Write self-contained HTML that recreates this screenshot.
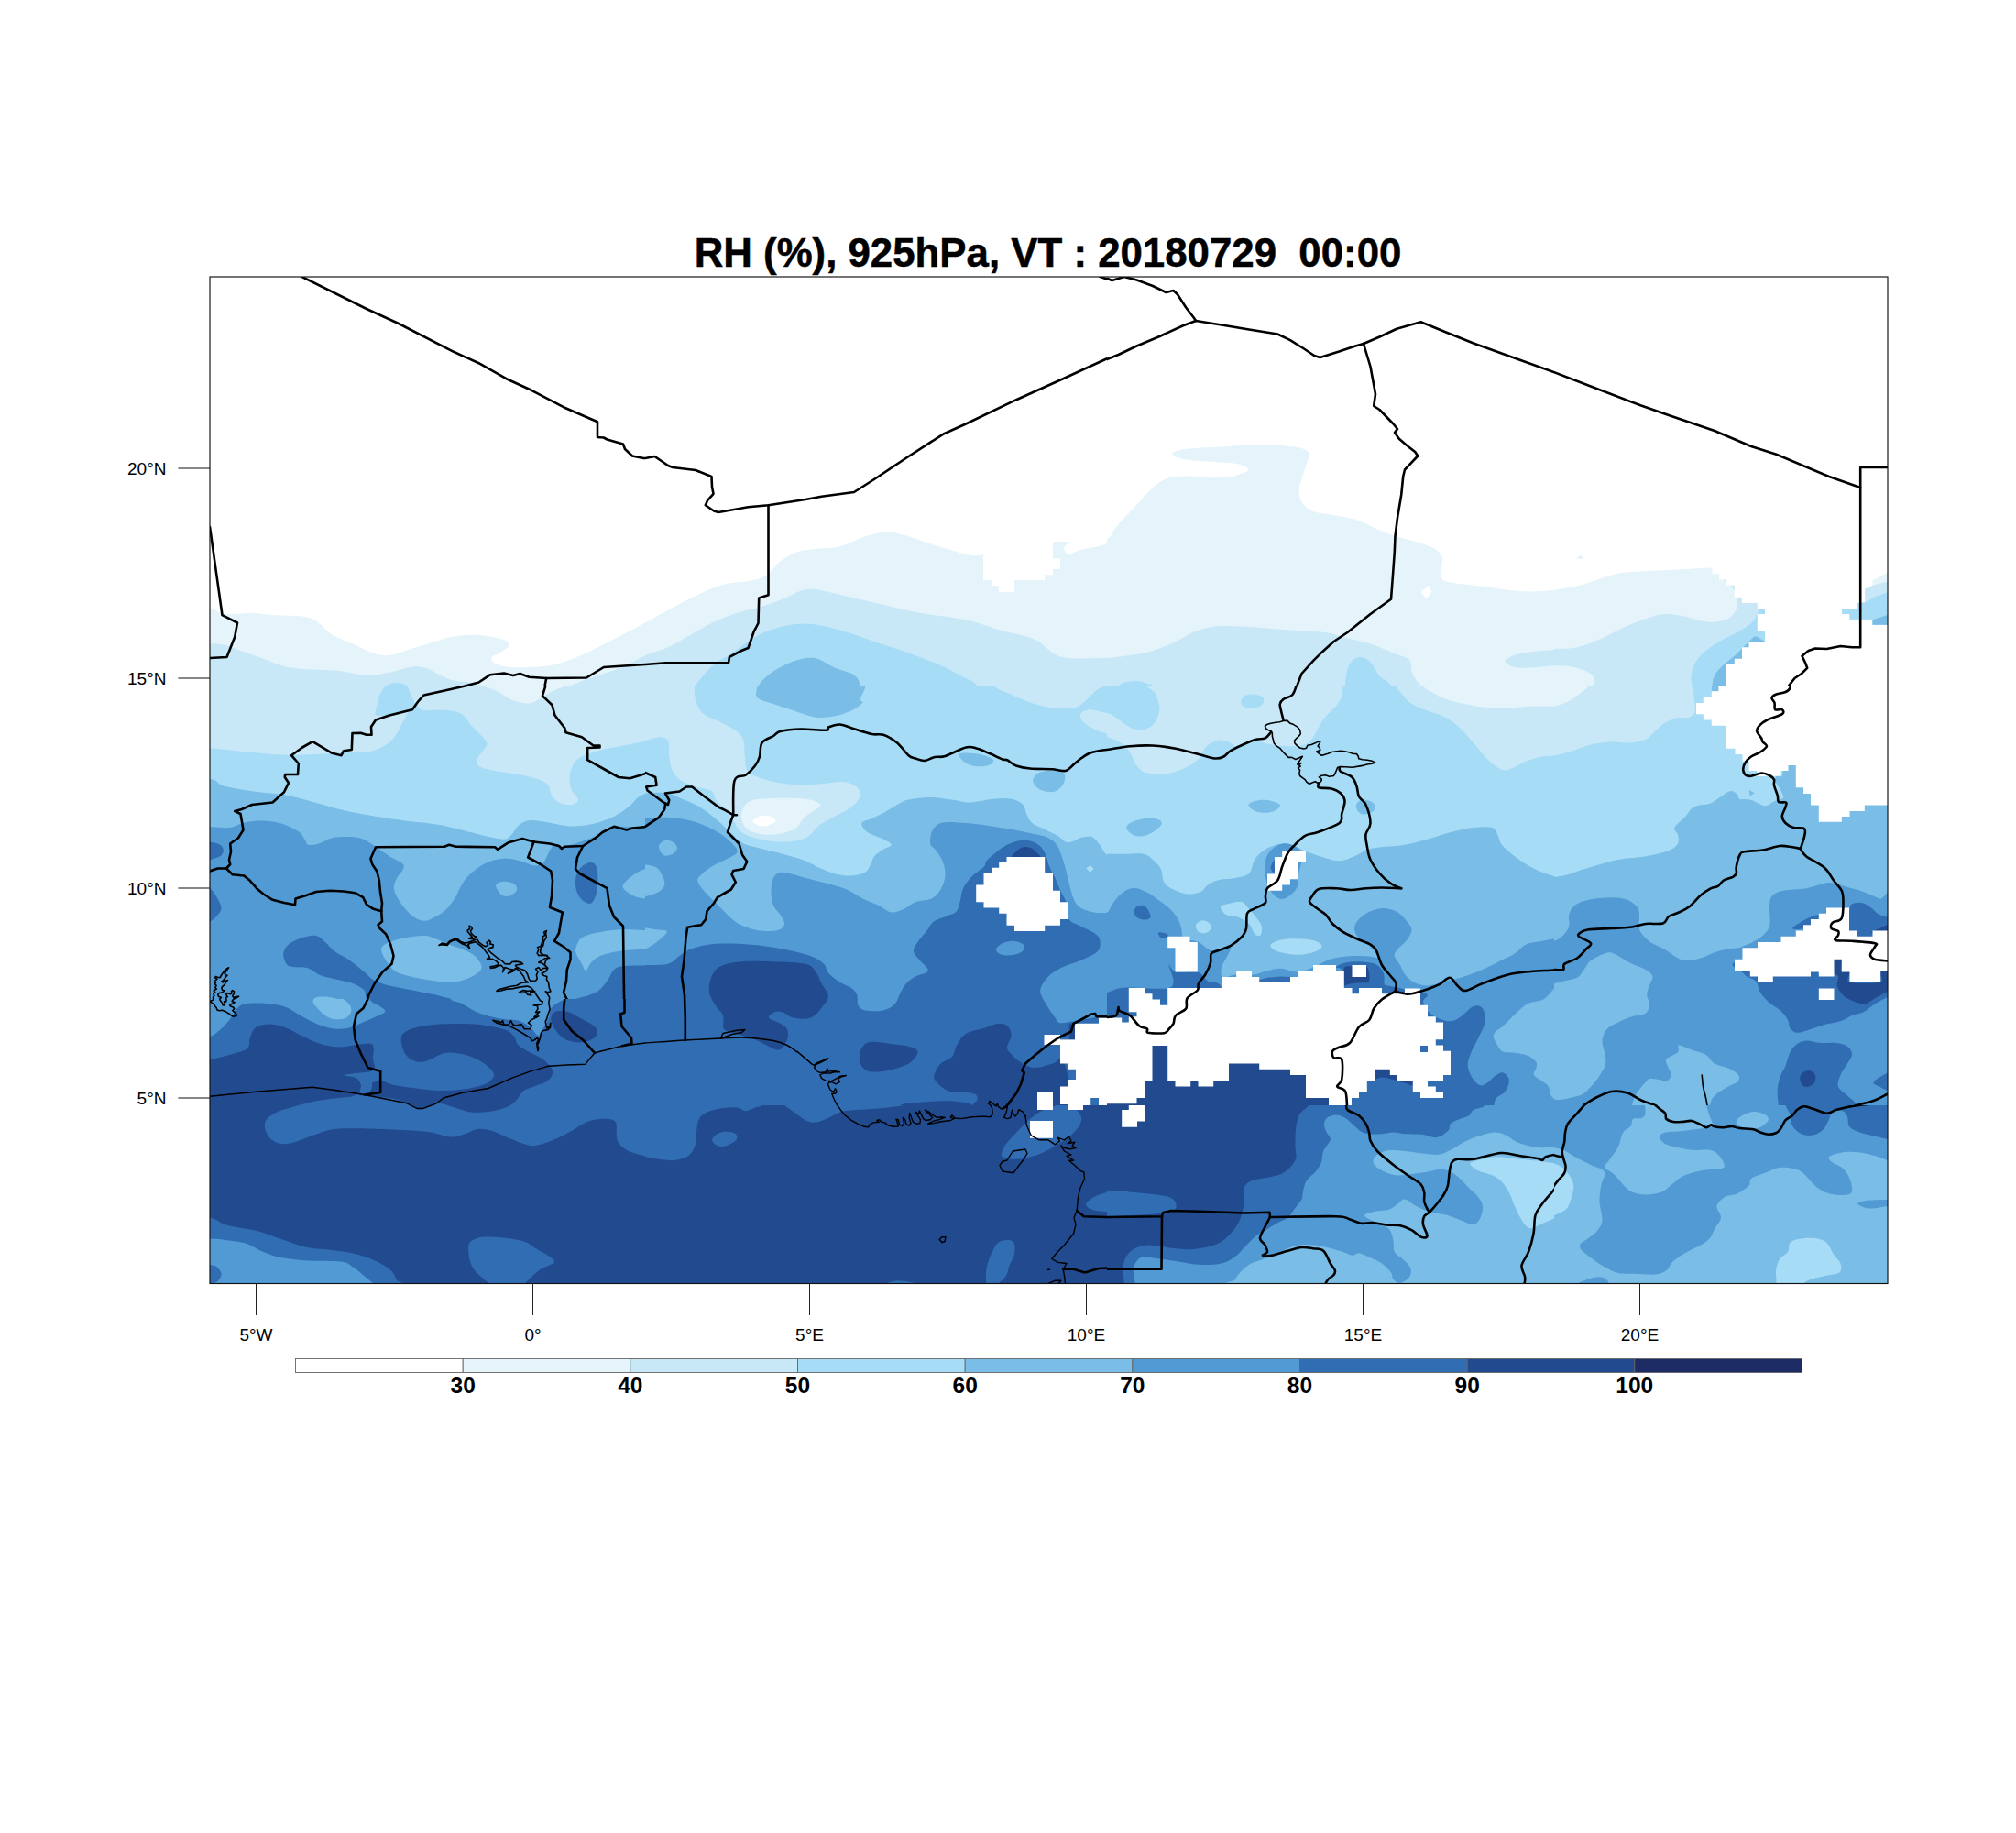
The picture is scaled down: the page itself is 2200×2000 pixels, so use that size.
<!DOCTYPE html>
<html><head><meta charset="utf-8"><title>RH 925hPa</title>
<style>html,body{margin:0;padding:0;background:#fff}svg{display:block}text{font-family:"Liberation Sans",sans-serif;fill:#000}</style>
</head><body>
<svg width="2200" height="2000" viewBox="0 0 2200 2000">
<rect width="2200" height="2000" fill="#fff"/>
<defs>
<clipPath id="k0"><rect x="229" y="302" width="475" height="446"/></clipPath>
<clipPath id="k1"><rect x="704" y="302" width="504" height="446"/></clipPath>
<clipPath id="k2"><rect x="1208" y="302" width="488" height="446"/></clipPath>
<clipPath id="k3"><rect x="1696" y="302" width="364" height="446"/></clipPath>
<clipPath id="k4"><rect x="229" y="748" width="475" height="342"/></clipPath>
<clipPath id="k5"><rect x="704" y="748" width="504" height="458"/></clipPath>
<clipPath id="k6"><rect x="1208" y="748" width="488" height="458"/></clipPath>
<clipPath id="k7"><rect x="229" y="1320" width="475" height="80.5"/></clipPath>
<clipPath id="k8"><rect x="704" y="1206" width="504" height="194.5"/></clipPath>
<clipPath id="k9"><rect x="1208" y="1206" width="488" height="194.5"/></clipPath>
<clipPath id="k10"><rect x="229" y="1090" width="475" height="230"/></clipPath>
<clipPath id="k11"><rect x="1696" y="748" width="364" height="458"/></clipPath>
<clipPath id="k12"><rect x="1696" y="1206" width="364" height="194.5"/></clipPath>
<clipPath id="k13"><rect x="470" y="1000" width="150" height="150"/></clipPath>
<clipPath id="k14"><rect x="229" y="1045" width="56" height="75"/></clipPath>
<clipPath id="k15"><rect x="870" y="1140" width="250" height="120"/></clipPath>
<clipPath id="k16"><rect x="1370" y="775" width="140" height="90"/></clipPath>
</defs>
<g clip-path="url(#k0)">
<rect x="228" y="301" width="477" height="448" fill="#FFFFFF"/>
<path d="M185 660 C192.3 641 220.2 662.5 229 663.8 C237.8 665 234 666.5 237.5 667.5 C241 668.5 243.8 669.8 250 670 C256.2 670.2 266.7 668.8 275 669 C283.3 669.2 290.8 670.7 300 671.2 C309.2 671.8 322.5 671.5 330 672.5 C337.5 673.5 339.6 674.2 345 677.5 C350.4 680.8 355.8 688.3 362.5 692.5 C369.2 696.7 377.5 699.2 385 702.5 C392.5 705.8 400.8 710.4 407.5 712.5 C414.2 714.6 417.9 715.8 425 715 C432.1 714.2 441.7 710 450 707.5 C458.3 705 467.5 702.2 475 700 C482.5 697.8 487.1 695.7 495 694.5 C502.9 693.3 513.3 692.4 522.5 693 C531.7 693.6 544.6 696 550 698 C555.4 700 555.8 702.6 555 705 C554.2 707.4 548.1 710.3 545 712.5 C541.9 714.7 536.7 715.9 536.2 718 C535.8 720.1 538.1 723.3 542.5 725 C546.9 726.7 552.9 727.8 562.5 728 C572.1 728.2 589.6 727.8 600 726.2 C610.4 724.7 616.7 721.9 625 718.8 C633.3 715.6 641.7 711.5 650 707.5 C658.3 703.5 666 699.7 675 695 C684 690.3 694.8 684.3 704 679.5 C713.2 674.7 725.7 649.9 730 666.2 C734.3 682.6 820.8 759 730 777.5 C639.2 796 275.8 797.1 185 777.5 C94.2 757.9 177.7 679 185 660Z" fill="#E5F4FB"/>
<path d="M185 700 C192.3 687.4 219 701.4 229 702 C239 702.6 239.4 702.4 245 703.8 C250.6 705.1 255.4 707.5 262.5 710 C269.6 712.5 279.2 715.8 287.5 718.8 C295.8 721.7 303.8 725.5 312.5 727.5 C321.2 729.5 330.4 729.8 340 730.5 C349.6 731.2 360 730.9 370 732 C380 733.1 390.8 736.7 400 737 C409.2 737.3 416.7 735.3 425 733.8 C433.3 732.2 443.3 728.3 450 727.5 C456.7 726.7 460.4 727.5 465 728.8 C469.6 730 472.9 732.8 477.5 735 C482.1 737.2 486.8 740.4 492.5 742 C498.2 743.6 506.5 743.6 511.5 744.5 C516.5 745.4 517.8 745.8 522.8 747.5 C527.8 749.2 532.8 752.8 541.5 754.5 C550.2 756.2 562.5 758.3 575 757.5 C587.5 756.7 607.5 751.5 616.5 749.5 C625.5 747.5 624.8 747 629 745.5 C633.2 744 633 743.5 641.5 740.5 C650 737.5 669.6 731.7 680 727.5 C690.4 723.3 695.7 719.2 704 715.5 C712.3 711.8 725.7 694.7 730 705 C734.3 715.3 820.8 765.4 730 777.5 C639.2 789.6 275.8 790.4 185 777.5 C94.2 764.6 177.7 712.6 185 700Z" fill="#C8E8F8"/>
<path d="M412 781 C406.4 780.2 411 774.1 411.5 770 C412 765.9 413.4 760 415.2 756.2 C417.1 752.5 419.6 749.4 422.8 747.5 C425.9 745.6 430.5 744.8 434 745 C437.5 745.2 441.5 746.2 444 748.8 C446.5 751.2 447.5 756.7 449 760 C450.5 763.3 453.4 766.2 452.8 768.8 C452.1 771.2 451.8 773 445 775 C438.2 777 417.6 781.8 412 781Z" fill="#A6DCF6"/>
</g>
<g clip-path="url(#k1)">
<rect x="703" y="301" width="506" height="448" fill="#FFFFFF"/>
<path d="M679 692 C683.2 675.7 695.7 683.9 704 679.5 C712.3 675.1 720.7 670.2 729 665.8 C737.3 661.2 745.7 656.6 754 652.5 C762.3 648.4 771.9 644 779 641.2 C786.1 638.5 789.8 637.5 796.5 636.2 C803.2 635 812.3 635.2 819 633.8 C825.7 632.3 831.1 631 836.5 627.5 C841.9 624 846.1 616.7 851.5 612.5 C856.9 608.3 862.3 604.8 869 602.5 C875.7 600.2 883.6 599.8 891.5 598.8 C899.4 597.7 908.2 598.3 916.5 596.2 C924.8 594.2 933.2 588.9 941.5 586.2 C949.8 583.6 959 580.9 966.5 580.5 C974 580.1 978.2 581.5 986.5 583.8 C994.8 586 1007.3 590.8 1016.5 593.8 C1025.7 596.7 1033.6 599.2 1041.5 601.2 C1049.4 603.3 1056.9 606 1064 606.2 C1071.1 606.5 1075.2 603.3 1084 602.5 C1092.8 601.7 1105.7 601.2 1116.5 601.2 C1127.3 601.2 1140.7 602 1149 602.5 C1157.3 603 1161.5 604.9 1166.5 604.5 C1171.5 604.1 1172.1 601.9 1179 600 C1185.9 598.1 1199.7 596.8 1208 593 C1216.3 589.2 1225.5 546.8 1229 577.5 C1232.5 608.2 1320.7 744.2 1229 777.5 C1137.3 810.8 770.7 791.8 679 777.5 C587.3 763.2 674.8 708.3 679 692Z" fill="#E5F4FB"/>
<path d="M679 726.2 C683.2 715.8 695.7 718.3 704 715 C712.3 711.7 720.7 710 729 706.2 C737.3 702.5 745.7 697.1 754 692.5 C762.3 687.9 770.7 682.7 779 678.8 C787.3 674.8 795.7 671.5 804 668.8 C812.3 666 820.7 665 829 662.5 C837.3 660 846.5 656.8 854 653.8 C861.5 650.8 868.2 646.3 874 644.5 C879.8 642.7 881.9 642.3 889 643 C896.1 643.7 905.7 646.3 916.5 648.8 C927.3 651.2 939.4 654.2 954 657.5 C968.6 660.8 987.3 665.6 1004 668.8 C1020.7 671.9 1039.4 673.1 1054 676.2 C1068.6 679.4 1079 684 1091.5 687.5 C1104 691 1119.4 693.3 1129 697.5 C1138.6 701.7 1142.8 709.1 1149 712.5 C1155.2 715.9 1156.7 717.1 1166.5 718 C1176.3 718.9 1197.6 718.1 1208 718 C1218.4 717.9 1225.5 707.6 1229 717.5 C1232.5 727.4 1320.7 767.5 1229 777.5 C1137.3 787.5 770.7 786 679 777.5 C587.3 769 674.8 736.7 679 726.2Z" fill="#C8E8F8"/>
<path d="M744 777.5 C688.6 772.6 753.2 756.8 759 748 C764.8 739.2 773 730.5 779 725 C785 719.5 789 719.2 795.2 715 C801.5 710.8 810 704.2 816.5 700 C823 695.8 826.9 692.9 834 690 C841.1 687.1 850.7 684 859 682.5 C867.3 681 874.4 679.9 884 680.8 C893.6 681.6 904.8 684.3 916.5 687.5 C928.2 690.7 941.5 695.8 954 700 C966.5 704.2 979.8 708.3 991.5 712.5 C1003.2 716.7 1013.6 720.4 1024 725 C1034.4 729.6 1046.9 736.2 1054 740 C1061.1 743.8 1060.2 741.8 1066.5 748 C1072.8 754.2 1145.2 772.6 1091.5 777.5 C1037.8 782.4 799.4 782.4 744 777.5Z" fill="#A6DCF6"/>
<path d="M814 777.5 C794.6 772.6 822.8 755.5 827.8 748 C832.8 740.5 837.5 737 844 732.5 C850.5 728 859 723.7 866.5 721.2 C874 718.8 881.5 716.8 889 718 C896.5 719.2 904.4 725.7 911.5 728.8 C918.6 731.8 926.9 733 931.5 736.2 C936.1 739.5 936.9 741.1 939 748 C941.1 754.9 964.8 772.6 944 777.5 C923.2 782.4 833.4 782.4 814 777.5Z" fill="#7ABDE6"/>
<path d="M1073 590 L1073 633 L1082 633 L1082 639 L1090 639 L1090 646 L1107 646 L1107 633 L1140 633 L1140 627.2 L1149 627.2 L1149 621 L1157 621 L1157 608.8 L1149 608.8 L1149 585Z" fill="#FFFFFF"/>
<path d="M1149 591 L1168 591 L1161 597.2 L1162 601.8 L1165.5 605.5 L1157 609.2 L1149 609.2Z" fill="#E5F4FB"/>
</g>
<g clip-path="url(#k2)">
<rect x="1207" y="301" width="490" height="448" fill="#FFFFFF"/>
<path d="M1183 602.5 C1187.2 571 1202.2 593.3 1208 588.8 C1213.8 584.2 1213.8 580 1218 575 C1222.2 570 1228 564.2 1233 558.8 C1238 553.3 1243.2 547.5 1248 542.5 C1252.8 537.5 1257.2 532.3 1261.8 528.8 C1266.3 525.2 1269.9 522.8 1275.5 521.2 C1281.1 519.7 1288 519.5 1295.5 519.5 C1303 519.5 1312.6 521.2 1320.5 521.2 C1328.4 521.3 1336 521.4 1343 520 C1350 518.6 1361.2 515.3 1362.5 513 C1363.8 510.7 1357.5 507.8 1350.5 506.2 C1343.5 504.7 1330.1 504.6 1320.5 503.8 C1310.9 502.9 1299.9 502.6 1293 501.2 C1286.1 499.9 1279.2 497.4 1279.2 495.5 C1279.2 493.6 1284 491.3 1293 490 C1302 488.7 1319.7 488.3 1333 487.5 C1346.3 486.7 1360.5 485.1 1373 485 C1385.5 484.9 1399.7 486.2 1408 487 C1416.3 487.8 1419.5 488.5 1423 490 C1426.5 491.5 1428.3 493.3 1428.8 496.2 C1429.2 499.2 1426.9 503.1 1425.5 507.5 C1424.1 511.9 1421.8 518.1 1420.5 522.5 C1419.2 526.9 1417.5 529.6 1417.5 533.8 C1417.5 537.9 1417.9 543.5 1420.5 547.5 C1423.1 551.5 1426.8 555.5 1433 558 C1439.2 560.5 1449.7 560.8 1458 562.5 C1466.3 564.2 1475.5 565.5 1483 568 C1490.5 570.5 1496.3 574.7 1503 577.5 C1509.7 580.3 1515.9 582.7 1523 585 C1530.1 587.3 1538.4 589 1545.5 591.2 C1552.6 593.5 1560.7 595.8 1565.5 598.8 C1570.3 601.7 1573.2 604.8 1574.2 608.8 C1575.3 612.7 1571.8 618.5 1571.8 622.5 C1571.8 626.5 1571.5 630.2 1574.2 632.5 C1577 634.8 1580.3 635 1588 636.2 C1595.7 637.5 1610.9 638.8 1620.5 640 C1630.1 641.2 1637.2 642.8 1645.5 643.8 C1653.8 644.7 1662.2 645.5 1670.5 645.5 C1678.8 645.5 1688.6 644.7 1695.5 643.8 C1702.4 642.8 1705.8 641.2 1712 640 C1718.2 638.8 1729.5 613.3 1733 636.2 C1736.5 659.2 1824.7 754 1733 777.5 C1641.3 801 1274.7 806.7 1183 777.5 C1091.3 748.3 1178.8 634 1183 602.5Z" fill="#E5F4FB"/>
<path d="M1550.5 646.2 L1558.8 638.8 L1562.5 645 L1556.8 653.8Z" fill="#FFFFFF"/>
<path d="M1183 718.8 C1187.2 708.8 1199.7 718.6 1208 718 C1216.3 717.4 1224.7 716.3 1233 715 C1241.3 713.7 1249.7 712.5 1258 710 C1266.3 707.5 1274.7 703.8 1283 700 C1291.3 696.2 1299.7 690.3 1308 687.5 C1316.3 684.7 1322.6 683.5 1333 683 C1343.4 682.5 1358 683.8 1370.5 684.5 C1383 685.2 1395.5 686.6 1408 687.5 C1420.5 688.4 1435.1 688.5 1445.5 690 C1455.9 691.5 1462.2 694.2 1470.5 696.2 C1478.8 698.3 1487.2 699.8 1495.5 702.5 C1503.8 705.2 1513.4 709.6 1520.5 712.5 C1527.6 715.4 1534.7 716.7 1538 720 C1541.3 723.3 1539.2 728.8 1540.5 732.5 C1541.8 736.2 1543.8 739.9 1545.5 742.5 C1547.2 745.1 1547.6 742.2 1550.5 748 C1553.4 753.8 1624.2 772.6 1563 777.5 C1501.8 782.4 1246.3 787.3 1183 777.5 C1119.7 767.7 1178.8 728.7 1183 718.8Z" fill="#C8E8F8"/>
<path d="M1643 720 C1644.7 717.8 1651.3 714.9 1658 713.2 C1664.7 711.6 1674 710.9 1683 710 C1692 709.1 1703.7 708.5 1712 708 C1720.3 707.5 1729.5 704.2 1733 707 C1736.5 709.8 1736.5 721.7 1733 724.5 C1729.5 727.3 1718.2 723.5 1712 723.8 C1705.8 724 1703.7 725.4 1695.5 726.2 C1687.3 727.1 1670.9 728.8 1663 728.8 C1655.1 728.8 1651.3 727.7 1648 726.2 C1644.7 724.8 1641.3 722.2 1643 720Z" fill="#C8E8F8"/>
<path d="M1466.8 777.5 C1455.9 772.6 1467.4 755.9 1468 748 C1468.6 740.1 1469 734.7 1470.5 730 C1472 725.3 1474.2 722.2 1476.8 720 C1479.2 717.8 1482.4 716.6 1485.5 717 C1488.6 717.4 1492.2 719.1 1495.5 722.5 C1498.8 725.9 1501.8 733.2 1505.5 737.5 C1509.2 741.8 1513.4 741.3 1518 748 C1522.6 754.7 1541.5 772.6 1533 777.5 C1524.5 782.4 1477.6 782.4 1466.8 777.5Z" fill="#A6DCF6"/>
<path d="M1208 765 C1199.7 762.2 1215.5 751.7 1220.5 748 C1225.5 744.3 1232.6 743.3 1238 743 C1243.4 742.7 1249.7 745.4 1253 746.2 C1256.3 747.1 1255.1 744.9 1258 748 C1260.9 751.1 1278.8 762.2 1270.5 765 C1262.2 767.8 1216.3 767.8 1208 765Z" fill="#A6DCF6"/>
</g>
<g clip-path="url(#k3)">
<rect x="1695" y="301" width="366" height="448" fill="#FFFFFF"/>
<path d="M1671 647.5 C1675.2 625.2 1686.4 645.4 1696 643.8 C1705.6 642.1 1718.1 640.2 1728.5 637.5 C1738.9 634.8 1749.3 629.8 1758.5 627.5 C1767.7 625.2 1773.1 624.7 1783.5 623.8 C1793.9 622.8 1806.8 622.7 1821 622 C1835.2 621.3 1851.8 620.2 1868.5 619.5 C1885.2 618.8 1908.1 614.1 1921 617.5 C1933.9 620.9 1941.8 613.3 1946 640 C1950.2 666.7 1991.8 754.6 1946 777.5 C1900.2 800.4 1716.8 799.2 1671 777.5 C1625.2 755.8 1666.8 669.8 1671 647.5Z" fill="#E5F4FB"/>
<path d="M1719.8 609.5 L1724.8 605.5 L1729 609.5Z" fill="#E5F4FB"/>
<path d="M1671 708.8 C1675.2 705.8 1687.7 708.4 1696 708 C1704.3 707.6 1712.7 708 1721 706.2 C1729.3 704.5 1737.7 701 1746 697.5 C1754.3 694 1762.7 688.8 1771 685 C1779.3 681.2 1788.5 677.5 1796 675 C1803.5 672.5 1809.3 670.5 1816 670 C1822.7 669.5 1829.3 670.8 1836 672 C1842.7 673.2 1850.2 676.4 1856 677.5 C1861.8 678.6 1866 679.2 1871 678.8 C1876 678.3 1882 677.3 1886 675 C1890 672.7 1893.2 668.8 1894.8 665 C1896.3 661.2 1896.3 656.7 1895.5 652.5 C1894.7 648.3 1892 643.8 1889.8 640 C1887.5 636.2 1877 632.9 1882.2 630 C1887.5 627.1 1910.4 616.7 1921 622.5 C1931.6 628.3 1941.8 639.2 1946 665 C1950.2 690.8 1971 758.8 1946 777.5 C1921 796.2 1830.4 777.5 1796 777.5 C1761.6 777.5 1749.3 782.4 1739.8 777.5 C1730.2 772.6 1738.5 754.2 1738.5 748 C1738.5 741.8 1740.6 742.4 1739.8 740 C1738.9 737.6 1737.5 735.8 1733.5 733.8 C1729.5 731.7 1722.2 728.8 1716 727.5 C1709.8 726.2 1703.5 726.6 1696 726.2 C1688.5 725.9 1675.2 728.4 1671 725.5 C1666.8 722.6 1666.8 711.7 1671 708.8Z" fill="#C8E8F8"/>
<path d="M1843.5 777.5 C1826.8 772.6 1845.7 754.7 1846 748 C1846.3 741.3 1845 741.3 1845.5 737.5 C1846 733.7 1846.8 729.2 1849 725 C1851.2 720.8 1854 716.7 1858.5 712.5 C1863 708.3 1869.8 703.8 1876 700 C1882.2 696.2 1890.2 693.3 1896 690 C1901.8 686.7 1907.2 683.5 1911 680 C1914.8 676.5 1916.8 672.1 1918.5 668.8 C1920.2 665.4 1916.4 661.5 1921 660 C1925.6 658.5 1941.8 640.4 1946 660 C1950.2 679.6 1963.1 757.9 1946 777.5 C1928.9 797.1 1860.2 782.4 1843.5 777.5Z" fill="#A6DCF6"/>
<path d="M1866 777.5 C1853.1 772.6 1867.7 754.7 1868.5 748 C1869.3 741.3 1869.3 740.9 1871 737.5 C1872.7 734.1 1874.8 731.2 1878.5 727.5 C1882.2 723.8 1888.5 719.6 1893.5 715 C1898.5 710.4 1904.8 703.4 1908.5 700 C1912.2 696.6 1912.9 694.5 1916 694.5 C1919.1 694.5 1922.2 699.1 1927.2 700 C1932.2 700.9 1942.9 687.1 1946 700 C1949.1 712.9 1959.3 764.6 1946 777.5 C1932.7 790.4 1878.9 782.4 1866 777.5Z" fill="#7ABDE6"/>
<path d="M1868.5 615 L1868.5 626.2 L1876 626.2 L1876 632.5 L1884 632.5 L1884 638.8 L1892.8 638.8 L1892.8 651.8 L1901 651.8 L1901 658 L1917.8 658 L1917.8 664.2 L1926 664.2 L1926 670 L1917.8 670 L1917.8 688.2 L1926 688.2 L1926 700 L1908.5 700 L1908.5 706.2 L1901 706.2 L1901 718.8 L1892.8 718.8 L1892.8 725 L1884 725 L1884 765 L2071 765 L2071 615Z" fill="#FFFFFF"/>
<path d="M2060.2 625 L2043.5 633 L2043.5 638.8 L2035.2 642 L2035.2 657.5 L2027.2 658 L2027.2 664.2 L2010.2 664.2 L2010.2 670 L2018.5 670 L2018.5 675.8 L2043.5 675.8 L2043.5 681.8 L2063.5 681.8 L2063.5 625Z" fill="#E5F4FB"/>
<path d="M2035.2 642.5 L2046 638 L2063.5 633.8 L2063.5 681.8 L2043.5 681.8 L2043.5 675.8 L2018.5 675.8 L2018.5 670 L2010.2 670 L2010.2 664.2 L2027.2 664.2 L2027.2 658 L2035.2 657.5Z" fill="#C8E8F8"/>
<path d="M2035.2 657.5 L2046 651.2 L2063.5 645 L2063.5 681.8 L2043.5 681.8 L2043.5 675.8 L2018.5 675.8 L2018.5 670 L2010.2 670 L2010.2 664.2 L2027.2 664.2 L2027.2 658Z" fill="#A6DCF6"/>
<path d="M2043.5 676.2 L2063.5 670 L2063.5 681.8 L2043.5 681.8Z" fill="#7ABDE6"/>
</g>
<g clip-path="url(#k4)">
<rect x="228" y="747" width="477" height="344" fill="#519AD3"/>
<path d="M185 733 C96 761.2 177.7 874 185 902.2 C192.3 930.5 218.2 902.1 229 902.2 C239.8 902.4 243.9 903.7 250 903 C256.1 902.3 260.1 899.2 265.5 898 C270.9 896.8 275.9 895.5 282.5 895.5 C289.1 895.5 297.9 896.1 305 898 C312.1 899.9 320.4 903.8 325 906.8 C329.6 909.7 330.6 913 332.5 915.5 C334.4 918 333.8 920.9 336.2 921.8 C338.8 922.6 343.1 921.8 347.5 920.5 C351.9 919.2 357.1 915.5 362.5 914.2 C367.9 913 374.6 912.9 380 913 C385.4 913.1 390.2 913.3 395 915 C399.8 916.7 403.8 919.8 408.8 923 C413.8 926.2 420 931.1 425 934.2 C430 937.4 436.2 939.5 438.8 941.8 C441.2 944 441 945.1 440 948 C439 950.9 434.2 955.5 432.5 959.2 C430.8 963 429.2 966.1 430 970.5 C430.8 974.9 434.2 980.7 437.5 985.5 C440.8 990.3 445.8 996 450 999.2 C454.2 1002.5 458.3 1004.5 462.5 1004.8 C466.7 1005 470.8 1002.7 475 1000.5 C479.2 998.3 483.8 995.5 487.5 991.8 C491.2 988 494.8 982.4 497.5 978 C500.2 973.6 501.2 969.5 503.8 965.5 C506.2 961.5 508.1 958.2 512.5 954.2 C516.9 950.3 523.8 944.7 530 941.8 C536.2 938.8 543.8 937.2 550 936.8 C556.2 936.3 562.1 938 567.5 939.2 C572.9 940.5 578.3 943.8 582.5 944.2 C586.7 944.7 589.6 944.5 592.5 941.8 C595.4 939 597.9 931.3 600 928 C602.1 924.7 603.1 922.5 605 921.8 C606.9 921 607.5 924 611.5 923.8 C615.5 923.5 622.8 921.9 629 920 C635.2 918.1 642.3 915.4 649 912.5 C655.7 909.6 661.9 904.2 669 902.5 C676.1 900.8 685.7 902.9 691.5 902.5 C697.3 902.1 699.4 902.1 704 900 C708.6 897.9 716.5 917.8 719 890 C721.5 862.2 808 759.2 719 733 C630 706.8 274 704.8 185 733Z" fill="#7ABDE6"/>
<path d="M185 733 C93.7 752.5 177.7 830.5 185 850 C192.3 869.5 219.2 848.8 229 850 C238.8 851.2 235.7 855.2 244 857.5 C252.3 859.8 267.8 862.1 279 863.8 C290.2 865.4 301.1 865.6 311.5 867.5 C321.9 869.4 330.2 872.1 341.5 875 C352.8 877.9 364.4 881.9 379 885 C393.6 888.1 412.3 891.2 429 893.8 C445.7 896.2 465.2 897.7 479 900 C492.8 902.3 501.9 905.2 511.5 907.5 C521.1 909.8 529.8 912.4 536.5 913.8 C543.2 915.1 547.8 916.1 551.5 915.5 C555.2 914.9 556.5 912.6 559 910 C561.5 907.4 563.2 902.5 566.5 900 C569.8 897.5 573.6 895.4 579 895 C584.4 894.6 592.3 896.5 599 897.5 C605.7 898.5 611.9 900.8 619 901.2 C626.1 901.7 633.6 901.5 641.5 900 C649.4 898.5 659 895.8 666.5 892.5 C674 889.2 681.5 883.8 686.5 880 C691.5 876.2 692.8 872.5 696.5 870 C700.2 867.5 702.9 866.2 709 865 C715.1 863.8 729 884.5 733 862.5 C737 840.5 824.3 754.6 733 733 C641.7 711.4 276.3 713.5 185 733Z" fill="#A6DCF6"/>
<path d="M185 733 C95.4 746.7 177.7 801.1 185 815 C192.3 828.9 213.3 815.2 229 816.2 C244.7 817.3 264.2 820 279 821.2 C293.8 822.5 301.9 823.8 317.8 823.8 C333.6 823.8 359.6 821.9 374 821.2 C388.4 820.6 396.1 821.5 404 820 C411.9 818.5 416.9 815.4 421.5 812.5 C426.1 809.6 428.8 806 431.5 802.5 C434.2 799 435.5 795.3 437.8 791.2 C440 787.2 442.5 781.8 445 778 C447.5 774.2 450 769.2 452.8 768.8 C455.5 768.2 457.1 774 461.5 775 C465.9 776 473.2 774.3 479 774.5 C484.8 774.7 491.9 775.1 496.5 776.2 C501.1 777.4 503.6 778.8 506.5 781.2 C509.4 783.8 510.9 787.7 514 791.2 C517.1 794.8 522.3 799.2 525.2 802.5 C528.2 805.8 531.3 808.3 531.5 811.2 C531.7 814.2 528.4 817.1 526.5 820 C524.6 822.9 520.9 826 520.2 828.8 C519.6 831.5 519.2 834.2 522.8 836.2 C526.3 838.3 534.2 839.8 541.5 841.2 C548.8 842.7 559 843.5 566.5 845 C574 846.5 581.3 848.1 586.5 850 C591.7 851.9 595 853.1 597.8 856.2 C600.5 859.4 600.5 865.4 602.8 868.8 C605 872.1 608 874.7 611.5 876.2 C615 877.8 620.8 878.6 624 878 C627.2 877.4 631 875.1 631 872.5 C631 869.9 625.6 866.2 624 862.5 C622.4 858.8 621.5 854.2 621.5 850 C621.5 845.8 622.3 841.2 624 837.5 C625.7 833.8 626.5 830.6 631.5 827.5 C636.5 824.4 646.1 821 654 818.8 C661.9 816.5 670.7 815.4 679 813.8 C687.3 812.1 696.7 810.2 704 808.8 C711.3 807.3 719.6 817.6 722.8 805 C725.9 792.4 812.4 745 722.8 733 C633.1 721 274.6 719.3 185 733Z" fill="#C8E8F8"/>
<path d="M412 781 C406.4 780.2 411 774.1 411.5 770 C412 765.9 413.4 760 415.2 756.2 C417.1 752.5 419.6 749.4 422.8 747.5 C425.9 745.6 430.5 744.8 434 745 C437.5 745.2 441.5 746.2 444 748.8 C446.5 751.2 447.5 756.7 449 760 C450.5 763.3 453.4 766.2 452.8 768.8 C452.1 771.2 451.8 773 445 775 C438.2 777 417.6 781.8 412 781Z" fill="#A6DCF6"/>
<path d="M512.5 733 C493.4 735.2 517.9 742.8 522.8 746.2 C527.6 749.7 535.5 750.8 541.5 753.8 C547.5 756.7 553.2 761.5 559 763.8 C564.8 766 571.5 767.7 576.5 767.5 C581.5 767.3 585.2 764.4 589 762.5 C592.8 760.6 594.4 758.5 599 756.2 C603.6 754 611.5 750.6 616.5 748.8 C621.5 746.9 625.5 747.6 629 745 C632.5 742.4 656.9 735 637.5 733 C618.1 731 531.6 730.8 512.5 733Z" fill="#E5F4FB"/>
<path d="M215 919.2 C218.8 916.1 232.7 919 237.5 920.5 C242.3 922 243.8 925.5 243.8 928 C243.8 930.5 242.3 933.6 237.5 935.5 C232.7 937.4 218.8 942 215 939.2 C211.2 936.5 211.2 922.4 215 919.2Z" fill="#316DB3"/>
<path d="M215 958 C217.3 950.7 225.5 965.7 229 969 C232.5 972.3 233.9 974.4 236 978 C238.1 981.6 241.3 987 241.5 990.5 C241.7 994 239.1 996.5 237 999 C234.9 1001.5 232.7 1003.4 229 1005.8 C225.3 1008.1 217.3 1021 215 1013 C212.7 1005 212.7 965.3 215 958Z" fill="#316DB3"/>
<path d="M628.8 955.5 C629.8 951.3 632.1 947.9 635 945.5 C637.9 943.1 643.4 940.2 646.2 941 C649.1 941.8 651.2 945.2 652 950.5 C652.8 955.8 652.4 967.2 651.2 973 C650.1 978.8 647.7 984 645 985.5 C642.3 987 637.7 984.2 635 981.8 C632.3 979.2 629.8 974.9 628.8 970.5 C627.7 966.1 627.7 959.7 628.8 955.5Z" fill="#316DB3"/>
<path d="M185 1134.2 C192.3 1119.5 220.2 1135.3 229 1134.2 C237.8 1133.2 234 1131.1 237.5 1128 C241 1124.9 246.2 1119.7 250 1115.5 C253.8 1111.3 256.7 1106.3 260 1103 C263.3 1099.7 265.4 1096.5 270 1095.5 C274.6 1094.5 281.7 1095.9 287.5 1096.8 C293.3 1097.6 299.6 1098.6 305 1100.5 C310.4 1102.4 314.2 1105.3 320 1108 C325.8 1110.7 333.3 1114.2 340 1116.8 C346.7 1119.2 354.2 1121.8 360 1123 C365.8 1124.2 370.6 1124.2 375 1123.8 C379.4 1123.3 382.1 1122.3 386.2 1120.5 C390.4 1118.7 395.6 1115.3 400 1113 C404.4 1110.7 409.2 1108.6 412.5 1106.8 C415.8 1104.9 420 1103.6 420 1101.8 C420 1099.9 415.8 1097.6 412.5 1095.5 C409.2 1093.4 402.5 1091.8 400 1089.2 C397.5 1086.8 400 1083.2 397.5 1080.5 C395 1077.8 389.6 1074.9 385 1073 C380.4 1071.1 375.8 1070.7 370 1069.2 C364.2 1067.8 355.8 1066.5 350 1064.2 C344.2 1062 340 1057.5 335 1056 C330 1054.5 323.8 1055.7 320 1055 C316.2 1054.3 314.3 1054.2 312.5 1051.8 C310.7 1049.3 308.8 1044 309.2 1040.5 C309.7 1037 311.5 1033.4 315 1030.5 C318.5 1027.6 325 1024.6 330 1023 C335 1021.4 340.8 1020.2 345 1021 C349.2 1021.8 351.7 1025.2 355 1028 C358.3 1030.8 360.8 1034.9 365 1038 C369.2 1041.1 374.6 1043 380 1046.8 C385.4 1050.5 392.9 1056.8 397.5 1060.5 C402.1 1064.2 402.9 1066.8 407.5 1069.2 C412.1 1071.8 417.9 1073.6 425 1075.5 C432.1 1077.4 441.7 1078.8 450 1080.5 C458.3 1082.2 466.7 1083.6 475 1085.5 C483.3 1087.4 491.7 1089.7 500 1091.8 C508.3 1093.8 516.7 1096.1 525 1098 C533.3 1099.9 541.7 1102.6 550 1103 C558.3 1103.4 566.7 1102 575 1100.5 C583.3 1099 591.7 1095.9 600 1094.2 C608.3 1092.6 616.7 1092.4 625 1090.5 C633.3 1088.6 643.8 1086.3 650 1083 C656.2 1079.7 659.2 1074.7 662.5 1070.5 C665.8 1066.3 667.1 1060.7 670 1058 C672.9 1055.3 674.3 1055 680 1054.2 C685.7 1053.5 696.5 1053.6 704 1053.5 C711.5 1053.4 721.5 1025.2 725 1053.5 C728.5 1081.8 815 1194.8 725 1223 C635 1251.2 275 1237.8 185 1223 C95 1208.2 177.7 1149 185 1134.2Z" fill="#316DB3"/>
<path d="M541.2 965.5 C541.9 963.2 546.7 962 550 961.8 C553.3 961.5 559 962.6 561.2 964.2 C563.5 965.9 564.8 969.5 563.8 971.8 C562.7 974 557.9 977.4 555 978 C552.1 978.6 548.5 977.6 546.2 975.5 C544 973.4 540.6 967.8 541.2 965.5Z" fill="#7ABDE6"/>
<path d="M680 965.5 C681.2 962.8 686 958.4 690 955.5 C694 952.6 698.2 949.7 704 948 C709.8 946.3 721.5 939.7 725 945.5 C728.5 951.3 728.5 977.2 725 983 C721.5 988.8 709.4 981.3 704 980.5 C698.6 979.7 696.1 979.5 692.5 978 C688.9 976.5 684.6 973.8 682.5 971.8 C680.4 969.7 678.8 968.2 680 965.5Z" fill="#7ABDE6"/>
<path d="M628.8 1033 C629.8 1030.1 631.5 1025.5 635 1023 C638.5 1020.5 643.3 1019.5 650 1018 C656.7 1016.5 666 1014.8 675 1014.2 C684 1013.8 695.7 1014.9 704 1015 C712.3 1015.1 721.5 1011.6 725 1015 C728.5 1018.4 728.5 1032.1 725 1035.5 C721.5 1038.9 712.3 1035.1 704 1035.5 C695.7 1035.9 683.2 1036.8 675 1038 C666.8 1039.2 660 1040.9 655 1043 C650 1045.1 647.6 1047.8 645 1050.5 C642.4 1053.2 640.9 1059 639.2 1059.2 C637.6 1059.5 636.8 1054.9 635 1051.8 C633.2 1048.6 629.8 1043.6 628.8 1040.5 C627.7 1037.4 627.7 1035.9 628.8 1033Z" fill="#7ABDE6"/>
<path d="M416.2 1038 C415.6 1034.5 416.5 1032.8 420 1030.5 C423.5 1028.2 430.4 1025.8 437.5 1024.2 C444.6 1022.7 456.2 1021 462.5 1021 C468.8 1021 470.4 1022.7 475 1024.2 C479.6 1025.8 483.8 1028 490 1030.5 C496.2 1033 507.1 1036.3 512.5 1039.2 C517.9 1042.2 520.4 1044.9 522.5 1048 C524.6 1051.1 526.7 1054.9 525 1058 C523.3 1061.1 517.5 1064.5 512.5 1066.8 C507.5 1069 501.2 1071.1 495 1071.8 C488.8 1072.4 482.5 1071.5 475 1070.5 C467.5 1069.5 457.1 1067.7 450 1066 C442.9 1064.3 436.9 1062.9 432.5 1060.5 C428.1 1058.1 426.5 1055.5 423.8 1051.8 C421 1048 416.9 1041.5 416.2 1038Z" fill="#7ABDE6"/>
<path d="M342 1090.5 C342.6 1088.5 346.6 1087.8 350 1087.5 C353.4 1087.2 358.3 1087.6 362.5 1088.5 C366.7 1089.4 371.5 1090.8 375 1093 C378.5 1095.2 382.9 1099 383.8 1101.8 C384.6 1104.5 382.3 1107.6 380 1109.2 C377.7 1110.9 374.2 1112 370 1111.8 C365.8 1111.5 359 1110.1 355 1108 C351 1105.9 348.4 1102.2 346.2 1099.2 C344.1 1096.3 341.4 1092.5 342 1090.5Z" fill="#7ABDE6"/>
</g>
<g clip-path="url(#k5)">
<rect x="703" y="747" width="506" height="460" fill="#316DB3"/>
<path d="M689 733 C599 786.3 686.5 999.7 689 1053 C691.5 1106.3 697.3 1053.2 704 1053 C710.7 1052.8 722.8 1053.4 729 1051.8 C735.2 1050.1 737.3 1045.7 741.5 1043 C745.7 1040.3 747.8 1037.7 754 1035.5 C760.2 1033.3 768.6 1030.8 779 1030 C789.4 1029.2 804 1029.6 816.5 1030.5 C829 1031.4 842.8 1033.4 854 1035.5 C865.2 1037.6 876.5 1040.3 884 1043 C891.5 1045.7 895.7 1048.6 899 1051.8 C902.3 1054.9 901.1 1058.4 904 1061.8 C906.9 1065.1 912.3 1069 916.5 1071.8 C920.7 1074.5 925.9 1075.7 929 1078 C932.1 1080.3 934 1082.4 935.2 1085.5 C936.5 1088.6 935 1093.9 936.5 1096.8 C938 1099.6 939.4 1101.5 944 1102.5 C948.6 1103.5 958.6 1103.7 964 1102.5 C969.4 1101.3 973.4 1098.8 976.5 1095.5 C979.6 1092.2 980.7 1086.8 982.8 1083 C984.8 1079.2 986.3 1075.9 989 1073 C991.7 1070.1 995 1067.8 999 1065.5 C1003 1063.2 1011.9 1062.2 1012.8 1059.2 C1013.6 1056.3 1006.6 1051.5 1004 1048 C1001.4 1044.5 997.4 1041.3 997 1038 C996.6 1034.7 999.1 1031.8 1001.5 1028 C1003.9 1024.2 1008.6 1019.2 1011.5 1015.5 C1014.4 1011.8 1015.2 1008.2 1019 1005.5 C1022.8 1002.8 1029.8 1001.1 1034 999.2 C1038.2 997.4 1041.7 997 1044 994.2 C1046.3 991.5 1046.5 987.4 1047.8 983 C1049 978.6 1049.2 972.6 1051.5 968 C1053.8 963.4 1057.8 959.2 1061.5 955.5 C1065.2 951.8 1071.5 948.2 1074 945.5 C1076.5 942.8 1074.4 941.8 1076.5 939.2 C1078.6 936.8 1082.8 933.4 1086.5 930.5 C1090.2 927.6 1094 924 1099 921.8 C1104 919.5 1111.1 917 1116.5 916.8 C1121.9 916.5 1127.5 918.2 1131.5 920.5 C1135.5 922.8 1138 926.3 1140.2 930.5 C1142.5 934.7 1143.4 940.9 1145.2 945.5 C1147.1 950.1 1149.4 953.4 1151.5 958 C1153.6 962.6 1155.5 968 1157.8 973 C1160 978 1163.8 983 1165.2 988 C1166.7 993 1164.2 999.2 1166.5 1003 C1168.8 1006.8 1174.4 1008 1179 1010.5 C1183.6 1013 1190.5 1015.5 1194 1018 C1197.5 1020.5 1199.6 1022.2 1200.2 1025.5 C1200.9 1028.8 1201.3 1034.2 1197.8 1038 C1194.2 1041.8 1185.5 1045.1 1179 1048 C1172.5 1050.9 1164.8 1052.6 1159 1055.5 C1153.2 1058.4 1148 1061.3 1144 1065.5 C1140 1069.7 1135.7 1075.5 1135.2 1080.5 C1134.8 1085.5 1138.8 1090.5 1141.5 1095.5 C1144.2 1100.5 1149 1107.1 1151.5 1110.5 C1154 1113.9 1153.2 1115.4 1156.5 1116 C1159.8 1116.6 1162.9 1115.6 1171.5 1114.2 C1180.1 1112.9 1198.4 1109.5 1208 1108 C1217.6 1106.5 1225.5 1168 1229 1105.5 C1232.5 1043 1319 795.1 1229 733 C1139 670.9 779 679.7 689 733Z" fill="#519AD3"/>
<path d="M1087 1035.5 C1087.6 1033.6 1090.8 1030.7 1094 1029.2 C1097.2 1027.8 1102.8 1026.5 1106.5 1026.8 C1110.2 1027 1114.6 1029 1116.5 1030.5 C1118.4 1032 1118.6 1033.8 1117.8 1035.5 C1116.9 1037.2 1114.6 1039.3 1111.5 1040.5 C1108.4 1041.7 1102.5 1042.5 1099 1042.5 C1095.5 1042.5 1092.2 1041.7 1090.2 1040.5 C1088.2 1039.3 1086.4 1037.4 1087 1035.5Z" fill="#519AD3"/>
<path d="M689 733 C599 759.7 686.5 866.3 689 893 C691.5 919.7 697.3 893.2 704 893 C710.7 892.8 720.7 891.3 729 891.8 C737.3 892.2 746.5 893.6 754 895.5 C761.5 897.4 768.2 900.3 774 903 C779.8 905.7 784.4 908.4 789 911.8 C793.6 915.1 799 919.9 801.5 923 C804 926.1 805.7 928 804 930.5 C802.3 933 796.1 935.5 791.5 938 C786.9 940.5 781.1 942.6 776.5 945.5 C771.9 948.4 766.5 952.8 764 955.5 C761.5 958.2 760.7 958.8 761.5 961.8 C762.3 964.7 765.2 968.6 769 973 C772.8 977.4 779 983 784 988 C789 993 794.4 999.2 799 1003 C803.6 1006.8 806.5 1008.4 811.5 1010.5 C816.5 1012.6 822.8 1014.8 829 1015.5 C835.2 1016.2 844.5 1016.2 849 1015 C853.5 1013.8 855.6 1010.8 856 1008 C856.4 1005.2 853.5 1001.3 851.5 998 C849.5 994.7 845.7 992.2 844 988 C842.3 983.8 841.5 978 841.5 973 C841.5 968 841.9 961.5 844 958 C846.1 954.5 848.2 951.8 854 951.8 C859.8 951.8 870.7 955.9 879 958 C887.3 960.1 896.5 962.2 904 964.2 C911.5 966.3 917.8 967.8 924 970.5 C930.2 973.2 935.7 977.6 941.5 980.5 C947.3 983.4 953.8 985.5 959 988 C964.2 990.5 968.2 994.9 972.8 995.5 C977.3 996.1 982.1 993.6 986.5 991.8 C990.9 989.9 994 986.1 999 984.2 C1004 982.4 1011.9 982.8 1016.5 980.5 C1021.1 978.2 1024 974.7 1026.5 970.5 C1029 966.3 1031.1 960.5 1031.5 955.5 C1031.9 950.5 1030.7 945.1 1029 940.5 C1027.3 935.9 1023.8 931.3 1021.5 928 C1019.2 924.7 1015.9 924.2 1015.2 920.5 C1014.6 916.8 1015.5 909.3 1017.8 905.5 C1020 901.7 1023 898.8 1029 897.5 C1035 896.2 1045.7 897.4 1054 898 C1062.3 898.6 1070.7 899.8 1079 901 C1087.3 902.2 1095.7 903.5 1104 905 C1112.3 906.5 1122.3 908.5 1129 910 C1135.7 911.5 1139.8 912.1 1144 914.2 C1148.2 916.4 1151.1 918.2 1154 923 C1156.9 927.8 1159.4 936.3 1161.5 943 C1163.6 949.7 1164.8 956.8 1166.5 963 C1168.2 969.2 1169.4 975.9 1171.5 980.5 C1173.6 985.1 1175.2 988 1179 990.5 C1182.8 993 1189.2 994.6 1194 995.5 C1198.8 996.4 1202.2 995.8 1208 996 C1213.8 996.2 1225.5 1040.6 1229 996.8 C1232.5 952.9 1319 777 1229 733 C1139 689 779 706.3 689 733Z" fill="#7ABDE6"/>
<path d="M719 923 C719.4 920.3 723.8 917.4 726.5 916.8 C729.2 916.1 733.2 917.8 735.2 919.2 C737.3 920.7 739.2 923.4 739 925.5 C738.8 927.6 736.5 930.5 734 931.8 C731.5 933 726.5 934.5 724 933 C721.5 931.5 718.6 925.7 719 923Z" fill="#7ABDE6"/>
<path d="M689 945.5 C693.2 940.1 708.4 943.8 714 945.5 C719.6 947.2 720.9 952.2 722.8 955.5 C724.6 958.8 725.9 962.6 725.2 965.5 C724.6 968.4 722.5 970.9 719 973 C715.5 975.1 709 977.2 704 978 C699 978.8 691.5 983.4 689 978 C686.5 972.6 684.8 950.9 689 945.5Z" fill="#7ABDE6"/>
<path d="M689 1013 C693.6 1009 710 1013.6 716.5 1014.2 C723 1014.9 727.8 1014.5 727.8 1016.8 C727.8 1019 720.5 1024.9 716.5 1028 C712.5 1031.1 708.6 1033.8 704 1035.5 C699.4 1037.2 691.5 1041.8 689 1038 C686.5 1034.2 684.4 1017 689 1013Z" fill="#7ABDE6"/>
<path d="M689 733 C599 755.1 686.5 843.4 689 865.5 C691.5 887.6 697.8 865.6 704 865.5 C710.2 865.4 720.2 864.2 726.5 865 C732.8 865.8 735.7 868.1 741.5 870.5 C747.3 872.9 755.2 875.7 761.5 879.2 C767.8 882.8 774.2 888 779 891.8 C783.8 895.5 786.9 898.6 790.2 901.8 C793.6 904.9 795.5 907.4 799 910.5 C802.5 913.6 806.5 918 811.5 920.5 C816.5 923 821.9 923.6 829 925.5 C836.1 927.4 845.7 929.5 854 931.8 C862.3 934 872.3 936.8 879 939.2 C885.7 941.8 888.6 944.4 894 946.8 C899.4 949.1 905.7 952 911.5 953.5 C917.3 955 923.6 955.8 929 955.5 C934.4 955.2 940.5 953.8 944 951.8 C947.5 949.7 948.6 945.9 950.2 943 C951.9 940.1 951.7 937 954 934.2 C956.3 931.5 960.9 928.8 964 926.8 C967.1 924.7 972.8 923.6 972.8 921.8 C972.8 919.9 968.4 917.8 964 915.5 C959.6 913.2 950.5 910.9 946.5 908 C942.5 905.1 939.4 900.5 940.2 898 C941.1 895.5 947.1 895.1 951.5 893 C955.9 890.9 961.9 888 966.5 885.5 C971.1 883 974.8 880.2 979 878 C983.2 875.8 985.2 873.8 991.5 872.5 C997.8 871.2 1008.2 869.9 1016.5 870 C1024.8 870.1 1034.4 872.1 1041.5 873 C1048.6 873.9 1051.9 875.7 1059 875.5 C1066.1 875.3 1076.5 872.4 1084 871.8 C1091.5 871.1 1098.6 870.7 1104 871.8 C1109.4 872.8 1113.8 875.3 1116.5 878 C1119.2 880.7 1118.6 884.7 1120.2 888 C1121.9 891.3 1123 895.1 1126.5 898 C1130 900.9 1136.9 903.2 1141.5 905.5 C1146.1 907.8 1150 909.5 1154 911.8 C1158 914 1161.1 918.8 1165.2 919.2 C1169.4 919.7 1174.6 915.3 1179 914.2 C1183.4 913.2 1188 911.8 1191.5 913 C1195 914.2 1197.5 918.4 1200.2 921.8 C1203 925.1 1203.2 928.6 1208 933 C1212.8 937.4 1225.5 981.3 1229 948 C1232.5 914.7 1319 768.8 1229 733 C1139 697.2 779 710.9 689 733Z" fill="#A6DCF6"/>
<path d="M825.2 755.5 C826.1 752.2 825 745.5 834 743 C843 740.5 861.3 740.5 879 740.5 C896.7 740.5 930.2 739.2 940.2 743 C950.2 746.8 938.8 759 939 763 C939.2 767 943.2 764.7 941.5 766.8 C939.8 768.8 934.4 773 929 775.5 C923.6 778 915.7 780.6 909 781.8 C902.3 782.9 896.1 783.5 889 782.5 C881.9 781.5 874 777.9 866.5 775.5 C859 773.1 850.2 770.1 844 768 C837.8 765.9 832.1 765.1 829 763 C825.9 760.9 824.4 758.8 825.2 755.5Z" fill="#7ABDE6"/>
<path d="M1046.5 823 C1047.5 821.3 1054.4 821.5 1059 821.8 C1063.6 822 1069.8 823 1074 824.2 C1078.2 825.5 1083.2 827.5 1084 829.2 C1084.8 831 1082.3 833.9 1079 835 C1075.7 836.1 1068.4 836.5 1064 836 C1059.6 835.5 1055.7 833.9 1052.8 831.8 C1049.8 829.6 1045.5 824.7 1046.5 823Z" fill="#7ABDE6"/>
<path d="M1127.2 850.5 C1127.9 848 1130.4 844.7 1134 843 C1137.6 841.3 1144.4 840.3 1149 840.5 C1153.6 840.7 1159.6 841.8 1161.5 844.2 C1163.4 846.8 1161.9 852.3 1160.2 855.5 C1158.6 858.7 1155 862.2 1151.5 863.5 C1148 864.8 1142.5 863.9 1139 863 C1135.5 862.1 1132.2 860.1 1130.2 858 C1128.3 855.9 1126.6 853 1127.2 850.5Z" fill="#7ABDE6"/>
<path d="M689 733 C700.5 720.3 746.3 730.5 757.8 733 C769.2 735.5 757.5 743 757.8 748 C758 753 757.5 758 759 763 C760.5 768 761.9 773.8 766.5 778 C771.1 782.2 780.2 784.7 786.5 788 C792.8 791.3 799.8 794.7 804 798 C808.2 801.3 810 803.4 811.5 808 C813 812.6 812.1 820.1 812.8 825.5 C813.4 830.9 813.4 837 815.2 840.5 C817.1 844 819.2 844.7 824 846.8 C828.8 848.8 836.9 851.5 844 853 C851.1 854.5 858.2 855.6 866.5 856 C874.8 856.4 885.2 856 894 855.5 C902.8 855 912.3 852.6 919 853 C925.7 853.4 930.7 855.5 934 858 C937.3 860.5 939.8 864.2 939 868 C938.2 871.8 933.6 876.8 929 880.5 C924.4 884.2 917.3 887.2 911.5 890.5 C905.7 893.8 899 896.8 894 900.5 C889 904.2 886.5 910.1 881.5 913 C876.5 915.9 870.2 917.2 864 918 C857.8 918.8 850.7 918.6 844 918 C837.3 917.4 829.8 915.9 824 914.2 C818.2 912.6 813 911.1 809 908 C805 904.9 803.2 899.7 800.2 895.5 C797.3 891.3 794.6 886.8 791.5 883 C788.4 879.2 784 876.3 781.5 873 C779 869.7 780.2 865.5 776.5 863 C772.8 860.5 764.8 860.1 759 858 C753.2 855.9 745.9 853.8 741.5 850.5 C737.1 847.2 734.6 842.6 732.8 838 C730.9 833.4 730.9 828 730.2 823 C729.6 818 730.9 811.1 729 808 C727.1 804.9 723.2 804.2 719 804.2 C714.8 804.2 709 807.2 704 808 C699 808.8 691.5 821.8 689 809.2 C686.5 796.8 677.5 745.7 689 733Z" fill="#C8E8F8"/>
<path d="M809 893 C808.2 888.8 809.4 883.8 811.5 880.5 C813.6 877.2 816.1 874.6 821.5 873 C826.9 871.4 834.4 871.2 844 871 C853.6 870.8 870.5 870.6 879 871.8 C887.5 872.9 894 875.7 895.2 878 C896.5 880.3 889.6 883 886.5 885.5 C883.4 888 879.4 890.1 876.5 893 C873.6 895.9 872.8 900.3 869 903 C865.2 905.7 859.8 908 854 909.2 C848.2 910.5 840.2 911.1 834 910.5 C827.8 909.9 820.7 908.4 816.5 905.5 C812.3 902.6 809.8 897.2 809 893Z" fill="#E5F4FB"/>
<path d="M821.5 896 C821.5 894.2 825.9 891.4 829 890.5 C832.1 889.6 837.3 889.6 840.2 890.5 C843.2 891.4 847.1 894.2 846.5 896 C845.9 897.8 839.4 900.2 836.5 901 C833.6 901.8 831.5 901.8 829 901 C826.5 900.2 821.5 897.8 821.5 896Z" fill="#FFFFFF"/>
<path d="M1079 733 C1054.8 735.5 1079.8 743.8 1084 748 C1088.2 752.2 1096.5 754.7 1104 758 C1111.5 761.3 1120.7 765.5 1129 768 C1137.3 770.5 1146.5 772.4 1154 773 C1161.5 773.6 1168.6 773.4 1174 771.8 C1179.4 770.1 1182.8 766.1 1186.5 763 C1190.2 759.9 1192.9 755.5 1196.5 753 C1200.1 750.5 1202.6 749.7 1208 748 C1213.4 746.3 1225.5 745.5 1229 743 C1232.5 740.5 1254 734.7 1229 733 C1204 731.3 1103.2 730.5 1079 733Z" fill="#C8E8F8"/>
<path d="M1179 779.2 C1180.2 777.2 1184.2 774.5 1189 774.2 C1193.8 774 1201.3 777 1208 778 C1214.7 779 1225.5 776.5 1229 780.5 C1232.5 784.5 1232.5 798.4 1229 801.8 C1225.5 805.1 1214.2 801.8 1208 800.5 C1201.8 799.2 1195.9 796.5 1191.5 794.2 C1187.1 792 1183.6 789.2 1181.5 786.8 C1179.4 784.2 1177.8 781.3 1179 779.2Z" fill="#C8E8F8"/>
<path d="M774 1083 C773.2 1077.6 774.4 1070.3 776.5 1065.5 C778.6 1060.7 781.1 1057 786.5 1054.2 C791.9 1051.5 799.4 1050.1 809 1049.2 C818.6 1048.4 832.3 1048.8 844 1049.2 C855.7 1049.7 871.3 1049.9 879 1051.8 C886.7 1053.6 887.3 1057 890.2 1060.5 C893.2 1064 894.2 1068.6 896.5 1073 C898.8 1077.4 903.8 1082.6 904 1086.8 C904.2 1090.9 900.2 1094.5 897.8 1098 C895.2 1101.5 892.1 1105.7 889 1108 C885.9 1110.3 883.2 1111.4 879 1111.8 C874.8 1112.1 868.2 1111.2 864 1110 C859.8 1108.8 857.1 1105.2 854 1104.2 C850.9 1103.3 847.8 1103.2 845.2 1104.2 C842.8 1105.3 838 1108.4 839 1110.5 C840 1112.6 848.2 1114.7 851.5 1116.8 C854.8 1118.8 857.7 1120.3 859 1123 C860.3 1125.7 860.3 1129.7 859.5 1133 C858.7 1136.3 856 1140.9 854 1143 C852 1145.1 850.2 1145.7 847.8 1145.5 C845.2 1145.3 843 1143.6 839 1141.8 C835 1139.9 829.8 1136.5 824 1134.2 C818.2 1132 809.6 1129.9 804 1128 C798.4 1126.1 792.8 1126.3 790.2 1123 C787.8 1119.7 790.5 1112.2 789 1108 C787.5 1103.8 784 1102.2 781.5 1098 C779 1093.8 774.8 1088.4 774 1083Z" fill="#224A8F"/>
<path d="M937.8 1153 C938 1149.5 939.2 1144.5 941.5 1141.8 C943.8 1139 946.1 1137.2 951.5 1136.8 C956.9 1136.3 967.3 1138.4 974 1139.2 C980.7 1140.1 986.9 1140.3 991.5 1141.8 C996.1 1143.2 1001.5 1144.9 1001.5 1148 C1001.5 1151.1 996.9 1157.2 991.5 1160.5 C986.1 1163.8 976.1 1166.5 969 1168 C961.9 1169.5 953.8 1170.1 949 1169.2 C944.2 1168.4 942.1 1165.7 940.2 1163 C938.4 1160.3 937.5 1156.5 937.8 1153Z" fill="#224A8F"/>
<path d="M1019.5 1173 C1020.3 1169.8 1023.2 1163.8 1026.5 1160.5 C1029.8 1157.2 1036.1 1156.3 1039 1153 C1041.9 1149.7 1041.5 1144.7 1044 1140.5 C1046.5 1136.3 1049 1131.1 1054 1128 C1059 1124.9 1068 1123.6 1074 1121.8 C1080 1119.9 1085.9 1117 1090.2 1116.8 C1094.6 1116.5 1098 1118.2 1100.2 1120.5 C1102.5 1122.8 1103.7 1126.8 1103.5 1130.5 C1103.3 1134.2 1098.9 1139.7 1099 1143 C1099.1 1146.3 1101.5 1147.8 1104 1150.5 C1106.5 1153.2 1109.8 1156.8 1114 1159.2 C1118.2 1161.7 1123.2 1164.8 1129 1165 C1134.8 1165.2 1143.6 1161.7 1149 1160.5 C1154.4 1159.3 1159.4 1147.6 1161.5 1158 C1163.6 1168.4 1178.2 1212.2 1161.5 1223 C1144.8 1233.8 1078.2 1225.8 1061.5 1223 C1044.8 1220.2 1060.7 1210.1 1061.5 1206.2 C1062.3 1202.4 1066.1 1202.1 1066.5 1200 C1066.9 1197.9 1066.9 1195.2 1064 1193.8 C1061.1 1192.3 1054 1191.9 1049 1191.2 C1044 1190.6 1038.6 1191.9 1034 1190 C1029.4 1188.1 1023.9 1182.8 1021.5 1180 C1019.1 1177.2 1018.7 1176.2 1019.5 1173Z" fill="#224A8F"/>
<path d="M966.5 1218 C952.3 1216.3 974.8 1210.4 979 1208 C983.2 1205.6 983.2 1204.9 991.5 1203.8 C999.8 1202.6 1019.4 1201.5 1029 1201.2 C1038.6 1201 1043.6 1201.7 1049 1202.5 C1054.4 1203.3 1059 1203.7 1061.5 1206.2 C1064 1208.8 1079.8 1216 1064 1218 C1048.2 1220 980.7 1219.7 966.5 1218Z" fill="#224A8F"/>
<path d="M1104 938 C1100.2 936 1109.8 928.3 1112.8 926 C1115.7 923.7 1118.8 923.9 1121.5 924.2 C1124.2 924.6 1126.7 925.7 1129 928 C1131.3 930.3 1139.4 936.3 1135.2 938 C1131.1 939.7 1107.8 940 1104 938Z" fill="#224A8F"/>
<path d="M1098.5 935 L1140.2 935 L1140.2 953 L1149 953 L1149 971.8 L1157 971.8 L1157 984.2 L1165.2 984.2 L1165.2 1003 L1157 1003 L1157 1009.8 L1140.2 1009.8 L1140.2 1016 L1107 1016 L1107 1009.8 L1098.5 1009.8 L1098.5 996.8 L1090.2 996.8 L1090.2 990.5 L1073.5 990.5 L1073.5 984.2 L1065.2 984.2 L1065.2 965.5 L1073.5 965.5 L1073.5 953 L1082 953 L1082 946.8 L1090.2 946.8 L1090.2 940.5 L1098.5 940.5Z" fill="#FFFFFF"/>
<path d="M1185.2 947.2 L1190.2 944.2 L1193.5 948 L1189.5 951.8Z" fill="#A6DCF6"/>
<path d="M1139.5 1129 L1157 1129 L1157 1134.2 L1173 1134.2 L1173 1116.8 L1199 1116.8 L1199 1110.5 L1229 1110.5 L1229 1223 L1165.2 1223 L1165.2 1205 L1157 1205 L1157 1185.5 L1165.2 1185.5 L1165.2 1178 L1174 1178 L1174 1166.8 L1165.2 1166.8 L1165.2 1160.5 L1157 1160.5 L1157 1140 L1139.5 1140Z" fill="#FFFFFF"/>
<path d="M1157 1129 L1166.8 1129 L1166.8 1134.2 L1157 1134.2Z" fill="#316DB3"/>
<path d="M1166.8 1116.8 L1173 1116.8 L1173 1134.2 L1166.8 1134.2Z" fill="#224A8F"/>
<path d="M1132 1191.8 L1149 1191.8 L1149 1223 L1132 1223Z" fill="#FFFFFF"/>
<path d="M1190.2 1198 L1199 1198 L1199 1210.5 L1190.2 1210.5Z" fill="#316DB3"/>
</g>
<g clip-path="url(#k6)">
<rect x="1207" y="747" width="490" height="460" fill="#7ABDE6"/>
<path d="M1193 995.5 C1195.5 974.2 1204.7 996.8 1208 995.5 C1211.3 994.2 1210.9 990.9 1213 988 C1215.1 985.1 1217.6 980.9 1220.5 978 C1223.4 975.1 1227.2 972 1230.5 970.5 C1233.8 969 1236.8 968.6 1240.5 969.2 C1244.2 969.9 1248.8 972 1253 974.2 C1257.2 976.5 1261.3 979.9 1265.5 983 C1269.7 986.1 1274.7 989.7 1278 993 C1281.3 996.3 1283.6 999.7 1285.5 1003 C1287.4 1006.3 1288.2 1009.7 1289.2 1013 C1290.3 1016.3 1288.6 1020.5 1291.8 1023 C1294.9 1025.5 1303.6 1025.9 1308 1028 C1312.4 1030.1 1314.7 1033.9 1318 1035.5 C1321.3 1037.1 1323.8 1037.9 1328 1037.5 C1332.2 1037.1 1341.3 1031.7 1343 1033 C1344.7 1034.3 1339.7 1041.8 1338 1045.5 C1336.3 1049.2 1333.6 1052 1333 1055.5 C1332.4 1059 1331.8 1065.4 1334.2 1066.8 C1336.8 1068.1 1342.4 1064 1348 1063.5 C1353.6 1063 1362.2 1064.2 1368 1063.5 C1373.8 1062.8 1378 1060.4 1383 1059.2 C1388 1058.1 1392.6 1056.5 1398 1056.8 C1403.4 1057 1409.7 1060.7 1415.5 1060.5 C1421.3 1060.3 1427.6 1057.6 1433 1055.5 C1438.4 1053.4 1443 1049.9 1448 1048 C1453 1046.1 1457.2 1045.1 1463 1044.2 C1468.8 1043.4 1476.3 1042.8 1483 1043 C1489.7 1043.2 1497.6 1043.4 1503 1045.5 C1508.4 1047.6 1512.2 1051.3 1515.5 1055.5 C1518.8 1059.7 1521.8 1065.9 1523 1070.5 C1524.2 1075.1 1525.5 1078.4 1523 1083 C1520.5 1087.6 1535.5 1091.3 1508 1098 C1480.5 1104.7 1410.5 1118.8 1358 1123 C1305.5 1127.2 1220.5 1144.2 1193 1123 C1165.5 1101.8 1190.5 1016.8 1193 995.5Z" fill="#519AD3"/>
<path d="M1380.5 948 C1380.5 942.6 1380.9 937.2 1383 933 C1385.1 928.8 1389.2 925.1 1393 923 C1396.8 920.9 1401.3 919.9 1405.5 920.5 C1409.7 921.1 1415.5 923.8 1418 926.8 C1420.5 929.7 1420.7 933.2 1420.5 938 C1420.3 942.8 1417.6 950.5 1416.8 955.5 C1415.9 960.5 1417 964.5 1415.5 968 C1414 971.5 1410.7 974.6 1408 976.8 C1405.3 978.9 1402.2 981 1399.2 981 C1396.3 981 1393.2 979.3 1390.5 976.8 C1387.8 974.2 1384.7 970.3 1383 965.5 C1381.3 960.7 1380.5 953.4 1380.5 948Z" fill="#519AD3"/>
<path d="M1386.8 945.5 C1387.2 943.2 1390.6 937.6 1391.8 938 C1392.9 938.4 1393.9 945.7 1393.5 948 C1393.1 950.3 1390.4 952.2 1389.2 951.8 C1388.1 951.3 1386.3 947.8 1386.8 945.5Z" fill="#316DB3"/>
<path d="M1478 1013 C1478 1009.5 1480.1 1006.1 1483 1003 C1485.9 999.9 1490.9 996.2 1495.5 994.2 C1500.1 992.2 1505.5 990.8 1510.5 991 C1515.5 991.2 1521.3 993.1 1525.5 995.5 C1529.7 997.9 1533 1002.4 1535.5 1005.5 C1538 1008.6 1540.5 1010.9 1540.5 1014.2 C1540.5 1017.6 1538 1022 1535.5 1025.5 C1533 1029 1527.8 1032.6 1525.5 1035.5 C1523.2 1038.4 1521.3 1040.1 1521.8 1043 C1522.2 1045.9 1526.1 1049.7 1528 1053 C1529.9 1056.3 1530.5 1059.9 1533 1063 C1535.5 1066.1 1538.8 1069.7 1543 1071.8 C1547.2 1073.8 1552.2 1075.7 1558 1075.5 C1563.8 1075.3 1571.3 1072.2 1578 1070.5 C1584.7 1068.8 1591.3 1067.6 1598 1065.5 C1604.7 1063.4 1611.3 1060.9 1618 1058 C1624.7 1055.1 1632.2 1050.9 1638 1048 C1643.8 1045.1 1648.4 1043.4 1653 1040.5 C1657.6 1037.6 1660.5 1032.8 1665.5 1030.5 C1670.5 1028.2 1677.2 1028 1683 1026.8 C1688.8 1025.5 1695.7 1024.5 1700.5 1023 C1705.3 1021.5 1706.6 1019.7 1712 1018 C1717.4 1016.3 1729.5 978.8 1733 1013 C1736.5 1047.2 1774.7 1188 1733 1223 C1691.3 1258 1524.7 1243.8 1483 1223 C1441.3 1202.2 1478.8 1121.3 1483 1098 C1487.2 1074.7 1502.6 1087.6 1508 1083 C1513.4 1078.4 1514.9 1074.7 1515.5 1070.5 C1516.1 1066.3 1513.8 1062.6 1511.8 1058 C1509.7 1053.4 1505.7 1047.2 1503 1043 C1500.3 1038.8 1498.8 1036.1 1495.5 1033 C1492.2 1029.9 1485.9 1027.6 1483 1024.2 C1480.1 1020.9 1478 1016.5 1478 1013Z" fill="#519AD3"/>
<path d="M1630 1128.8 C1631.2 1125.2 1636.8 1122.7 1641 1118.8 C1645.2 1114.8 1650.6 1109 1655 1105 C1659.4 1101 1662.5 1097.5 1667.5 1095 C1672.5 1092.5 1679.8 1093.1 1685 1090 C1690.2 1086.9 1694.2 1079.2 1698.8 1076.2 C1703.3 1073.3 1708 1073.5 1712.5 1072.5 C1717 1071.5 1722.6 1071.6 1726 1070 C1729.4 1068.4 1731.8 1041.2 1733 1063 C1734.2 1084.8 1736.8 1177.9 1733 1200.5 C1729.2 1223.1 1715.7 1198.8 1710 1198.8 C1704.3 1198.7 1701.7 1200.6 1698.8 1200 C1695.8 1199.4 1694 1197.5 1692.5 1195 C1691 1192.5 1691.4 1187.7 1689.5 1185 C1687.6 1182.3 1683.9 1180.8 1681.2 1178.8 C1678.6 1176.7 1674.5 1174.8 1673.8 1172.5 C1673 1170.2 1676.1 1167.3 1676.5 1165 C1676.9 1162.7 1677.8 1160.9 1676.2 1158.8 C1674.8 1156.6 1671.5 1153.7 1667.5 1152 C1663.5 1150.3 1657.1 1149.5 1652.5 1148.8 C1647.9 1148 1643.1 1149 1640 1147.5 C1636.9 1146 1635.4 1143.1 1633.8 1140 C1632.1 1136.9 1628.8 1132.3 1630 1128.8Z" fill="#7ABDE6"/>
<path d="M1193 733 C1103 766.1 1190.5 898.6 1193 931.8 C1195.5 964.9 1202.2 931.8 1208 931.8 C1213.8 931.8 1221.3 931.8 1228 931.8 C1234.7 931.8 1243 930.7 1248 931.8 C1253 932.8 1254.9 935.3 1258 938 C1261.1 940.7 1264.7 943.8 1266.8 948 C1268.8 952.2 1268.2 959.2 1270.5 963 C1272.8 966.8 1276.3 968.4 1280.5 970.5 C1284.7 972.6 1290.5 975.1 1295.5 975.5 C1300.5 975.9 1306.8 974.7 1310.5 973 C1314.2 971.3 1314.7 967.7 1318 965.5 C1321.3 963.3 1325.5 961.2 1330.5 960 C1335.5 958.8 1342.6 959.2 1348 958 C1353.4 956.8 1359.7 955.9 1363 953 C1366.3 950.1 1366.3 943.8 1368 940.5 C1369.7 937.2 1370.5 935.5 1373 933 C1375.5 930.5 1378.8 927.6 1383 925.5 C1387.2 923.4 1393.8 921.2 1398 920.5 C1402.2 919.8 1403.8 919.8 1408 921 C1412.2 922.2 1418.8 926.2 1423 928 C1427.2 929.8 1428.8 930.3 1433 931.8 C1437.2 933.2 1443 935.5 1448 936.8 C1453 938 1458 939.7 1463 939.2 C1468 938.8 1473 936.3 1478 934.2 C1483 932.2 1488 928.4 1493 926.8 C1498 925.1 1501.3 925.1 1508 924.2 C1514.7 923.4 1524.7 923.2 1533 921.8 C1541.3 920.3 1549.7 917.8 1558 915.5 C1566.3 913.2 1574.7 910.1 1583 908 C1591.3 905.9 1600.5 903.8 1608 903 C1615.5 902.2 1623.6 901.8 1628 903 C1632.4 904.2 1632.6 907.6 1634.2 910.5 C1635.9 913.4 1635.7 917.2 1638 920.5 C1640.3 923.8 1643.4 926.8 1648 930.5 C1652.6 934.2 1659.7 939.5 1665.5 943 C1671.3 946.5 1677.2 949.5 1683 951.8 C1688.8 954 1695.7 956.1 1700.5 956.8 C1705.3 957.4 1706.6 955.9 1712 955.5 C1717.4 955.1 1729.5 991.3 1733 954.2 C1736.5 917.2 1823 769.9 1733 733 C1643 696.1 1283 699.9 1193 733Z" fill="#A6DCF6"/>
<path d="M1229.2 903 C1229.2 900.7 1232 898.4 1235.5 896.8 C1239 895.1 1245.7 893.4 1250.5 893 C1255.3 892.6 1261.4 893.2 1264.2 894.2 C1267.1 895.3 1268.5 897 1267.5 899.2 C1266.5 901.5 1261.7 905.8 1258 908 C1254.3 910.2 1249.2 912.1 1245.5 912.5 C1241.8 912.9 1238.2 912.1 1235.5 910.5 C1232.8 908.9 1229.2 905.3 1229.2 903Z" fill="#7ABDE6"/>
<path d="M1362.5 878 C1362.9 876.2 1367.1 874.6 1370.5 873.8 C1373.9 872.9 1378.6 872.3 1383 873 C1387.4 873.7 1395.5 876 1396.8 878 C1398 880 1393.6 883.5 1390.5 885 C1387.4 886.5 1381.8 886.9 1378 886.8 C1374.2 886.6 1370.6 885.7 1368 884.2 C1365.4 882.8 1362.1 879.8 1362.5 878Z" fill="#7ABDE6"/>
<path d="M1480 878 C1480.6 876 1482.9 873.6 1485.5 873 C1488.1 872.4 1493 873.2 1495.5 874.2 C1498 875.3 1500.1 877.4 1500.5 879.2 C1500.9 881.1 1500.1 884 1498 885.5 C1495.9 887 1490.7 888.6 1488 888.5 C1485.3 888.4 1483.1 886.8 1481.8 885 C1480.4 883.2 1479.4 880 1480 878Z" fill="#7ABDE6"/>
<path d="M1193 778 C1195.5 773.6 1203.8 777.2 1208 778 C1212.2 778.8 1214.7 780.9 1218 783 C1221.3 785.1 1224.7 788.4 1228 790.5 C1231.3 792.6 1234.2 794.7 1238 795.5 C1241.8 796.3 1246.8 796.8 1250.5 795.5 C1254.2 794.2 1258 791.8 1260.5 788 C1263 784.2 1265.3 778 1265.5 773 C1265.7 768 1263.2 764.7 1261.8 758 C1260.3 751.3 1222.6 737.2 1256.8 733 C1290.9 728.8 1432 730.5 1466.8 733 C1501.5 735.5 1466.1 743 1465.5 748 C1464.9 753 1464.7 758.8 1463 763 C1461.3 767.2 1458.4 769.7 1455.5 773 C1452.6 776.3 1448.4 779.2 1445.5 783 C1442.6 786.8 1440.5 791.3 1438 795.5 C1435.5 799.7 1433.4 805 1430.5 808 C1427.6 811 1424.2 812.5 1420.5 813.5 C1416.8 814.5 1413.4 814.4 1408 814.2 C1402.6 814.1 1394.7 813.5 1388 812.5 C1381.3 811.5 1373 808.1 1368 808 C1363 807.9 1361.3 810.7 1358 811.8 C1354.7 812.8 1350.9 814.7 1348 814.2 C1345.1 813.8 1343.8 810.3 1340.5 809.2 C1337.2 808.2 1332.2 807 1328 808 C1323.8 809 1318.8 812.2 1315.5 815.5 C1312.2 818.8 1311.8 824.2 1308 828 C1304.2 831.8 1298.8 835.3 1293 838 C1287.2 840.7 1280.1 843.4 1273 844.2 C1265.9 845.1 1255.9 844.5 1250.5 843 C1245.1 841.5 1243.4 839.2 1240.5 835.5 C1237.6 831.8 1235.9 824.7 1233 820.5 C1230.1 816.3 1227.2 813.2 1223 810.5 C1218.8 807.8 1213 805.3 1208 804.2 C1203 803.2 1195.5 808.6 1193 804.2 C1190.5 799.9 1190.5 782.4 1193 778Z" fill="#C8E8F8"/>
<path d="M1354.2 765.5 C1354.5 763.6 1355.7 760.6 1358 759.2 C1360.3 757.9 1364.7 757.3 1368 757.5 C1371.3 757.7 1376.2 759 1378 760.5 C1379.8 762 1379.3 764.9 1378.5 766.8 C1377.7 768.6 1375.6 770.7 1373 771.8 C1370.4 772.8 1365.7 773.2 1363 773 C1360.3 772.8 1358.2 771.8 1356.8 770.5 C1355.3 769.2 1354 767.4 1354.2 765.5Z" fill="#A6DCF6"/>
<path d="M1520.5 733 C1485.5 735.5 1521.3 743.8 1523 748 C1524.7 752.2 1527.6 754.7 1530.5 758 C1533.4 761.3 1535.9 765.1 1540.5 768 C1545.1 770.9 1551.8 773 1558 775.5 C1564.2 778 1572.2 779.9 1578 783 C1583.8 786.1 1588 789.7 1593 794.2 C1598 798.8 1603.4 805.3 1608 810.5 C1612.6 815.7 1616.3 821.1 1620.5 825.5 C1624.7 829.9 1629.2 834.2 1633 836.8 C1636.8 839.2 1639.7 840.5 1643 840.5 C1646.3 840.5 1649.2 838.4 1653 836.8 C1656.8 835.1 1660.5 832.4 1665.5 830.5 C1670.5 828.6 1677.6 826.5 1683 825.5 C1688.4 824.5 1693.2 825.1 1698 824.2 C1702.8 823.4 1706.2 821.5 1712 820.5 C1717.8 819.5 1729.5 832.6 1733 818 C1736.5 803.4 1768.4 747.2 1733 733 C1697.6 718.8 1555.5 730.5 1520.5 733Z" fill="#C8E8F8"/>
<path d="M1550.5 733 C1520.5 735.5 1550.9 744.2 1553 748 C1555.1 751.8 1558.8 753 1563 755.5 C1567.2 758 1572.2 760.9 1578 763 C1583.8 765.1 1590.9 766.5 1598 768 C1605.1 769.5 1612.6 771 1620.5 771.8 C1628.4 772.5 1637.2 772.7 1645.5 772.5 C1653.8 772.3 1662.2 770.8 1670.5 770.5 C1678.8 770.2 1688.6 770.7 1695.5 770.5 C1702.4 770.3 1705.8 769.7 1712 769.2 C1718.2 768.8 1729.5 774 1733 768 C1736.5 762 1763.4 738.8 1733 733 C1702.6 727.2 1580.5 730.5 1550.5 733Z" fill="#E5F4FB"/>
<path d="M1193 1083 C1195.5 1076.3 1203.8 1083.6 1208 1083 C1212.2 1082.4 1213.8 1080.2 1218 1079.2 C1222.2 1078.3 1223.8 1077.6 1233 1077.5 C1242.2 1077.4 1265.1 1079.7 1273 1078.5 C1280.9 1077.3 1280.1 1074.8 1280.5 1070.5 C1280.9 1066.2 1275.1 1054.7 1275.5 1053 C1275.9 1051.3 1277.8 1059.2 1283 1060.5 C1288.2 1061.8 1300.9 1058.8 1306.8 1060.5 C1312.6 1062.2 1313.6 1067.6 1318 1070.5 C1322.4 1073.4 1330.5 1069.2 1333 1078 C1335.5 1086.8 1356.3 1115.5 1333 1123 C1309.7 1130.5 1216.3 1129.7 1193 1123 C1169.7 1116.3 1190.5 1089.7 1193 1083Z" fill="#316DB3"/>
<path d="M1264.2 1017.5 C1265.4 1016.9 1271.8 1018.3 1273.5 1019.2 C1275.2 1020.2 1275.4 1022.4 1274.2 1023 C1273.1 1023.6 1268.4 1023.9 1266.8 1023 C1265.1 1022.1 1263.1 1018.1 1264.2 1017.5Z" fill="#316DB3"/>
<path d="M1237.5 995.5 C1237.3 993.4 1238.8 990.5 1240.5 989.2 C1242.2 988 1245.9 987.4 1248 988 C1250.1 988.6 1251.8 990.9 1253 993 C1254.2 995.1 1255.9 998.8 1255.5 1000.5 C1255.1 1002.2 1252.8 1003.3 1250.5 1003.5 C1248.2 1003.7 1243.9 1003.1 1241.8 1001.8 C1239.6 1000.4 1237.7 997.6 1237.5 995.5Z" fill="#316DB3"/>
<path d="M1374.2 1069.2 L1383 1066.8 L1398 1065.5 L1408 1066 L1408 1073 L1374.2 1073Z" fill="#316DB3"/>
<path d="M1458 1055.5 C1458.4 1054 1463.8 1051.5 1468 1050.5 C1472.2 1049.5 1477.6 1049 1483 1049.2 C1488.4 1049.5 1496.1 1049.9 1500.5 1051.8 C1504.9 1053.6 1507.6 1057.4 1509.2 1060.5 C1510.9 1063.6 1510.7 1067.2 1510.5 1070.5 C1510.3 1073.8 1512.6 1078 1508 1080.5 C1503.4 1083 1490.1 1085.5 1483 1085.5 C1475.9 1085.5 1468.4 1084.9 1465.5 1080.5 C1462.6 1076.1 1466.8 1063.4 1465.5 1059.2 C1464.2 1055.1 1457.6 1057 1458 1055.5Z" fill="#316DB3"/>
<path d="M1466.8 1056.8 C1468.2 1052.8 1471.5 1054.7 1475.5 1054.2 C1479.5 1053.8 1487.4 1052.8 1490.5 1054.2 C1493.6 1055.7 1493.8 1059.9 1494.2 1063 C1494.7 1066.1 1494.9 1069.5 1493 1073 C1491.1 1076.5 1485.9 1082.4 1483 1084.2 C1480.1 1086.1 1476.8 1085.3 1475.5 1084.2 C1474.2 1083.2 1477 1079 1475.5 1078 C1474 1077 1468.2 1081.5 1466.8 1078 C1465.3 1074.5 1465.3 1060.7 1466.8 1056.8Z" fill="#224A8F"/>
<path d="M1550.5 1083 C1566.3 1084.7 1551.8 1089.7 1553 1093 C1554.2 1096.3 1555.5 1100.1 1558 1103 C1560.5 1105.9 1563.8 1108.6 1568 1110.5 C1572.2 1112.4 1578.6 1114.5 1583 1114.2 C1587.4 1114 1590.1 1112 1594.2 1109.2 C1598.4 1106.5 1604 1099.5 1608 1098 C1612 1096.5 1615.9 1097.6 1618 1100.5 C1620.1 1103.4 1621.3 1110.1 1620.5 1115.5 C1619.7 1120.9 1615.5 1127.6 1613 1133 C1610.5 1138.4 1607.4 1143 1605.5 1148 C1603.6 1153 1601.3 1158 1601.8 1163 C1602.2 1168 1605.3 1174.5 1608 1178 C1610.7 1181.5 1613.8 1185.1 1618 1184.2 C1622.2 1183.4 1629.2 1175.3 1633 1173 C1636.8 1170.7 1638.2 1169.7 1640.5 1170.5 C1642.8 1171.3 1646.3 1174.7 1646.8 1178 C1647.2 1181.3 1645.3 1187.2 1643 1190.5 C1640.7 1193.8 1635.1 1195.4 1633 1198 C1630.9 1200.6 1631.3 1201.8 1630.5 1206 C1629.7 1210.2 1656.8 1220.2 1628 1223 C1599.2 1225.8 1486.3 1246.3 1458 1223 C1429.7 1199.7 1442.6 1106.3 1458 1083 C1473.4 1059.7 1534.7 1081.3 1550.5 1083Z" fill="#316DB3"/>
<path d="M1193 1138 L1458 1138 L1458 1223 L1193 1223Z" fill="#224A8F"/>
<path d="M1491.8 1163 C1500.3 1160.3 1534.5 1159.7 1543 1163 C1551.5 1166.3 1544.7 1179.9 1543 1183 C1541.3 1186.1 1536.8 1182.6 1533 1181.8 C1529.2 1180.9 1524.7 1179 1520.5 1178 C1516.3 1177 1512.8 1175.3 1508 1175.5 C1503.2 1175.7 1494.5 1181.3 1491.8 1179.2 C1489 1177.2 1483.2 1165.7 1491.8 1163Z" fill="#224A8F"/>
<path d="M1332.2 989.2 C1333.1 987.2 1339.1 986.3 1343 985.5 C1346.9 984.7 1352.2 983.2 1355.5 984.2 C1358.8 985.3 1360.5 989 1363 991.8 C1365.5 994.5 1368.2 997.4 1370.5 1000.5 C1372.8 1003.6 1375.9 1007.2 1376.8 1010.5 C1377.6 1013.8 1376.8 1019 1375.5 1020.5 C1374.2 1022 1371.3 1021.3 1369.2 1019.2 C1367.2 1017.2 1366.1 1011.1 1363 1008 C1359.9 1004.9 1354.7 1002.2 1350.5 1000.5 C1346.3 998.8 1341 999.9 1338 998 C1335 996.1 1331.4 991.3 1332.2 989.2Z" fill="#A6DCF6"/>
<path d="M1305 1009.2 C1305.6 1007.2 1309.4 1004.7 1311.8 1004.2 C1314.1 1003.8 1317.6 1005.3 1319.2 1006.8 C1320.9 1008.2 1322.4 1011.1 1321.8 1013 C1321.1 1014.9 1317.8 1017.4 1315.5 1018 C1313.2 1018.6 1309.8 1018.2 1308 1016.8 C1306.2 1015.3 1304.4 1011.3 1305 1009.2Z" fill="#A6DCF6"/>
<path d="M1386.8 1030.5 C1388.2 1028.8 1392.8 1026.5 1398 1025.5 C1403.2 1024.5 1411.8 1024 1418 1024.2 C1424.2 1024.5 1431.4 1025.3 1435.5 1026.8 C1439.6 1028.2 1442.9 1030.9 1442.5 1033 C1442.1 1035.1 1437.5 1037.8 1433 1039.2 C1428.5 1040.7 1421.3 1041.8 1415.5 1041.8 C1409.7 1041.8 1402.4 1040.3 1398 1039.2 C1393.6 1038.2 1391.1 1037 1389.2 1035.5 C1387.4 1034 1385.3 1032.2 1386.8 1030.5Z" fill="#A6DCF6"/>
<path d="M1399.2 928 L1425 928 L1425 940.5 L1416 940.5 L1416 959.2 L1408 959.2 L1408 965.5 L1399.2 965.5 L1399.2 971.8 L1383 971.8 L1383 953.5 L1391 953.5 L1391 935 L1399.2 935Z" fill="#FFFFFF"/>
<path d="M1274.2 1021.8 L1298.5 1021.8 L1298.5 1028 L1306.8 1028 L1306.8 1060.5 L1282.5 1060.5 L1282.5 1034.2 L1274.2 1034.2Z" fill="#FFFFFF"/>
<path d="M1475.5 1053 L1491 1053 L1491 1066 L1475.5 1066Z" fill="#FFFFFF"/>
<path d="M1193 1110.5 L1224.2 1110.5 L1224.2 1115.5 L1231.8 1115.5 L1231.8 1109.2 L1240.5 1109.2 L1240.5 1104.2 L1231.8 1104.2 L1231.8 1078 L1249.2 1078 L1249.2 1084.2 L1257.5 1084.2 L1257.5 1090.5 L1266 1090.5 L1266 1096.8 L1274.2 1096.8 L1274.2 1078 L1333 1078 L1333 1066 L1349.2 1066 L1349.2 1059.8 L1366 1059.8 L1366 1066 L1374.2 1066 L1374.2 1071.8 L1408 1071.8 L1408 1066 L1416 1066 L1416 1059.8 L1433 1059.8 L1433 1053 L1458 1053 L1458 1059.2 L1466.8 1059.2 L1466.8 1078 L1475.5 1078 L1475.5 1084.2 L1483 1084.2 L1483 1078 L1508 1078 L1508 1084.2 L1516.8 1084.2 L1533 1084.2 L1533 1078.5 L1550 1078.5 L1550 1096.8 L1558 1096.8 L1558 1109.2 L1566.8 1109.2 L1566.8 1115.5 L1575 1115.5 L1575 1134.2 L1566.8 1134.2 L1566.8 1140.5 L1575 1140.5 L1575 1146.8 L1583 1146.8 L1583 1173 L1575 1173 L1575 1179.2 L1558 1179.2 L1558 1185.5 L1566.8 1185.5 L1566.8 1191.8 L1575 1191.8 L1575 1198 L1550 1198 L1550 1191.8 L1541.8 1191.8 L1541.8 1179.2 L1525 1179.2 L1525 1173 L1516.8 1173 L1516.8 1166.8 L1500 1166.8 L1500 1179.2 L1491.8 1179.2 L1491.8 1191.8 L1483 1191.8 L1483 1198 L1475 1198 L1475 1223 L1450 1223 L1450 1198 L1425 1198 L1425 1173 L1408 1173 L1408 1166.8 L1374.2 1166.8 L1374.2 1160.5 L1341 1160.5 L1341 1179.2 L1324.2 1179.2 L1324.2 1185.5 L1307.5 1185.5 L1307.5 1179.2 L1299.2 1179.2 L1299.2 1185.5 L1282.5 1185.5 L1282.5 1179.2 L1274.2 1179.2 L1274.2 1141 L1257.5 1141 L1257.5 1179.2 L1249.2 1179.2 L1249.2 1198 L1240.5 1198 L1240.5 1204.2 L1193 1204.2Z" fill="#FFFFFF"/>
<path d="M1550 1141 L1558 1141 L1558 1148 L1550 1148Z" fill="#316DB3"/>
</g>
<g clip-path="url(#k7)">
<rect x="228" y="1319" width="477" height="82.5" fill="#224A8F"/>
<path d="M288.8 1227.2 C289 1224.8 289.8 1222 292.5 1219.8 C295.2 1217.5 299.6 1215.6 305 1213.5 C310.4 1211.4 319.2 1208.9 325 1207.2 C330.8 1205.6 331.7 1204.5 340 1203.5 C348.3 1202.5 360.8 1201.4 375 1201 C389.2 1200.6 412.5 1200.2 425 1201 C437.5 1201.8 441.7 1205.6 450 1206 C458.3 1206.4 468.8 1203.5 475 1203.5 C481.2 1203.5 481.2 1204.3 487.5 1206 C493.8 1207.7 505.4 1212 512.5 1213.5 C519.6 1215 523.8 1215.2 530 1214.8 C536.2 1214.3 544.6 1212.5 550 1211 C555.4 1209.5 558.3 1207.7 562.5 1206 C566.7 1204.3 547.9 1201.8 575 1201 C602.1 1200.2 700 1190.8 725 1201 C750 1211.2 728.5 1252.2 725 1262.2 C721.5 1272.2 709.8 1261.8 704 1261 C698.2 1260.2 694.4 1259.3 690 1257.2 C685.6 1255.2 680.5 1251.6 677.5 1248.5 C674.5 1245.4 672.8 1241.8 672 1238.5 C671.2 1235.2 673.8 1231.2 673 1228.5 C672.2 1225.8 670.5 1223.6 667.5 1222.2 C664.5 1220.9 659.6 1220.1 655 1220.5 C650.4 1220.9 645 1222.6 640 1224.8 C635 1226.9 630.8 1230.4 625 1233.5 C619.2 1236.6 610.8 1240.9 605 1243.5 C599.2 1246.1 595 1248.1 590 1249 C585 1249.9 580 1249.9 575 1249 C570 1248.1 565 1245.7 560 1243.5 C555 1241.3 550.8 1238.1 545 1236 C539.2 1233.9 530.8 1231.4 525 1231 C519.2 1230.6 515.8 1231.9 510 1233.5 C504.2 1235.1 495.8 1239.9 490 1240.5 C484.2 1241.1 480.8 1238.5 475 1237.2 C469.2 1236 463.3 1233.9 455 1233 C446.7 1232.1 435 1232.1 425 1231.8 C415 1231.4 404.2 1231.1 395 1231 C385.8 1230.9 377.5 1230 370 1231 C362.5 1232 356.7 1235 350 1237.2 C343.3 1239.5 336.7 1242.8 330 1244.8 C323.3 1246.7 315.4 1249.2 310 1249 C304.6 1248.8 300.6 1245.9 297.5 1243.5 C294.4 1241.1 292.7 1237.5 291.2 1234.8 C289.8 1232 288.5 1229.8 288.8 1227.2Z" fill="#316DB3"/>
<path d="M185 1321 C192.3 1307.2 219 1326 229 1328.5 C239 1331 239.4 1334.1 245 1336 C250.6 1337.9 256.2 1338.5 262.5 1339.8 C268.8 1341 275 1341.4 282.5 1343.5 C290 1345.6 298.8 1349.3 307.5 1352.2 C316.2 1355.2 325.8 1359 335 1361 C344.2 1363 353.8 1362.8 362.5 1364 C371.2 1365.2 380 1366.2 387.5 1368 C395 1369.8 401.2 1372 407.5 1374.8 C413.8 1377.5 420.8 1381.2 425 1384.8 C429.2 1388.3 431 1391.6 432.5 1396 C434 1400.4 475 1408.5 433.8 1411 C392.5 1413.5 226.5 1426 185 1411 C143.5 1396 177.7 1334.8 185 1321Z" fill="#316DB3"/>
<path d="M185 1351 C192.3 1341.1 218.2 1351.1 229 1351.5 C239.8 1351.9 243.2 1352.5 250 1353.5 C256.8 1354.5 263.8 1355.2 270 1357.2 C276.2 1359.3 281.2 1363.5 287.5 1366 C293.8 1368.5 299.2 1370.7 307.5 1372.2 C315.8 1373.8 326.7 1374.8 337.5 1375.5 C348.3 1376.2 364.6 1375.4 372.5 1376.5 C380.4 1377.6 380.8 1379.6 385 1382.2 C389.2 1384.9 393.8 1389.1 397.5 1392.2 C401.2 1395.4 405.4 1397.9 407.5 1401 C409.6 1404.1 447.1 1409.3 410 1411 C372.9 1412.7 222.5 1421 185 1411 C147.5 1401 177.7 1360.9 185 1351Z" fill="#519AD3"/>
<path d="M215 1381 C218.1 1377.8 229.4 1379.8 233.8 1381 C238.1 1382.2 240.2 1386.2 241.2 1388.5 C242.3 1390.8 241.2 1392.9 240 1394.8 C238.8 1396.6 237.9 1398.8 233.8 1399.8 C229.6 1400.7 218.1 1403.6 215 1400.5 C211.9 1397.4 211.9 1384.2 215 1381Z" fill="#316DB3"/>
<path d="M511.2 1366 C511 1362.2 510.6 1358.6 512.5 1356 C514.4 1353.4 517.9 1351.5 522.5 1350.5 C527.1 1349.5 532.1 1349.2 540 1349.8 C547.9 1350.3 562.5 1351.9 570 1354 C577.5 1356.1 579.2 1358.6 585 1362.2 C590.8 1365.9 604.2 1372.2 605 1376 C605.8 1379.8 594.2 1381.8 590 1384.8 C585.8 1387.7 582.9 1390.8 580 1393.5 C577.1 1396.2 574.2 1398.1 572.5 1401 C570.8 1403.9 575.8 1409.3 570 1411 C564.2 1412.7 543.8 1412.9 537.5 1411 C531.2 1409.1 535.4 1403.5 532.5 1399.8 C529.6 1396 523.1 1392 520 1388.5 C516.9 1385 515.2 1382.2 513.8 1378.5 C512.3 1374.8 511.5 1369.8 511.2 1366Z" fill="#316DB3"/>
</g>
<g clip-path="url(#k8)">
<rect x="703" y="1205" width="506" height="196.5" fill="#224A8F"/>
<path d="M689 1191 C663.2 1202.9 686.5 1250.4 689 1262.2 C691.5 1274.1 699 1261.8 704 1262.2 C709 1262.7 713.6 1264.1 719 1264.8 C724.4 1265.4 731.1 1266.6 736.5 1266 C741.9 1265.4 747.8 1263.9 751.5 1261 C755.2 1258.1 757.5 1253.1 759 1248.5 C760.5 1243.9 759.6 1238.1 760.2 1233.5 C760.9 1228.9 760.9 1224.3 762.8 1221 C764.6 1217.7 767.1 1215.5 771.5 1213.5 C775.9 1211.5 783.6 1209.8 789 1209 C794.4 1208.2 799.8 1208 804 1208.5 C808.2 1209 810.7 1212.2 814 1212.2 C817.3 1212.2 820.7 1209.8 824 1208.5 C827.3 1207.2 830.7 1207.7 834 1204.8 C837.3 1201.8 868.2 1193.3 844 1191 C819.8 1188.7 714.8 1179.1 689 1191Z" fill="#316DB3"/>
<path d="M851.5 1191 C818.2 1193.1 851.5 1199.8 854 1203.5 C856.5 1207.2 862.3 1210.4 866.5 1213.5 C870.7 1216.6 875.2 1220.4 879 1222.2 C882.8 1224.1 885.2 1225 889 1224.8 C892.8 1224.5 896.9 1222.9 901.5 1221 C906.1 1219.1 911.9 1215.1 916.5 1213.5 C921.1 1211.9 922.8 1212.1 929 1211.5 C935.2 1210.9 945.7 1210.5 954 1209.8 C962.3 1209 970.7 1208.3 979 1207.2 C987.3 1206.2 991.5 1204.5 1004 1203.5 C1016.5 1202.5 1045.7 1203.1 1054 1201 C1062.3 1198.9 1087.8 1192.7 1054 1191 C1020.2 1189.3 884.8 1188.9 851.5 1191Z" fill="#316DB3"/>
<path d="M777.2 1243 C777.9 1241 781.2 1237.9 784 1236.5 C786.8 1235.1 790.9 1234.6 794 1234.8 C797.1 1234.9 801.1 1235.9 802.8 1237.2 C804.4 1238.6 805 1241.1 804 1243 C803 1244.9 799.2 1247.2 796.5 1248.5 C793.8 1249.8 790.5 1251 787.8 1251 C785 1251 782 1249.8 780.2 1248.5 C778.5 1247.2 776.6 1245 777.2 1243Z" fill="#316DB3"/>
<path d="M1092.8 1259.8 C1092.8 1257.2 1095 1252.5 1097.8 1248.5 C1100.5 1244.5 1104.6 1240.6 1109 1236 C1113.4 1231.4 1119 1225.2 1124 1221 C1129 1216.8 1134 1213.5 1139 1211 C1144 1208.5 1149 1206.6 1154 1206 C1159 1205.4 1164.8 1205.6 1169 1207.2 C1173.2 1208.9 1177.3 1212.9 1179 1216 C1180.7 1219.1 1180.7 1222.2 1179 1226 C1177.3 1229.8 1173.2 1234.8 1169 1238.5 C1164.8 1242.2 1159 1245.4 1154 1248.5 C1149 1251.6 1144 1255 1139 1257.2 C1134 1259.5 1129 1261 1124 1262.2 C1119 1263.5 1113.4 1264.5 1109 1264.8 C1104.6 1265 1100.5 1264.8 1097.8 1264 C1095 1263.2 1092.8 1262.3 1092.8 1259.8Z" fill="#316DB3"/>
<path d="M1075.8 1393.5 C1075.5 1388.9 1076.6 1383.1 1077.8 1378.5 C1078.9 1373.9 1080.9 1369.8 1082.8 1366 C1084.6 1362.2 1086.3 1358.2 1089 1356 C1091.7 1353.8 1096.1 1353 1099 1353 C1101.9 1353 1105.2 1353.4 1106.5 1356 C1107.8 1358.6 1107.8 1364.3 1107 1368.5 C1106.2 1372.7 1103 1377 1101.5 1381 C1100 1385 1099.8 1389 1097.8 1392.2 C1095.7 1395.5 1092.1 1398.2 1089 1400.5 C1085.9 1402.8 1081.2 1407.2 1079 1406 C1076.8 1404.8 1076 1398.1 1075.8 1393.5Z" fill="#316DB3"/>
<path d="M969 1400.5 C968.2 1399 975.2 1397.6 979 1397.2 C982.8 1396.9 988.2 1397.8 991.5 1398.5 C994.8 1399.2 1000.2 1400.2 999 1401.5 C997.8 1402.8 989 1406.2 984 1406 C979 1405.8 969.8 1402 969 1400.5Z" fill="#316DB3"/>
<path d="M1185.2 1313.5 C1185.7 1311.2 1190.2 1308.1 1194 1306 C1197.8 1303.9 1202.2 1302.2 1208 1301 C1213.8 1299.8 1225.5 1294.8 1229 1298.5 C1232.5 1302.2 1232.5 1319.5 1229 1323.5 C1225.5 1327.5 1214.2 1322.9 1208 1322.2 C1201.8 1321.6 1195.3 1321.2 1191.5 1319.8 C1187.7 1318.3 1184.8 1315.8 1185.2 1313.5Z" fill="#316DB3"/>
<path d="M1124 1223 L1149 1223 L1149 1241.8 L1124 1241.8Z" fill="#FFFFFF"/>
<path d="M1132 1191 L1149 1191 L1149 1211 L1132 1211Z" fill="#FFFFFF"/>
<path d="M1165.2 1191 L1182 1191 L1182 1211 L1165.2 1211Z" fill="#FFFFFF"/>
</g>
<g clip-path="url(#k9)">
<rect x="1207" y="1205" width="490" height="196.5" fill="#519AD3"/>
<path d="M1193 1191 C1264.7 1154.3 1551.8 1188.5 1623 1191 C1694.2 1193.5 1623 1202.7 1620.5 1206 C1618 1209.3 1610.9 1209.1 1608 1211 C1605.1 1212.9 1605.5 1215.6 1603 1217.2 C1600.5 1218.9 1596.3 1219.5 1593 1221 C1589.7 1222.5 1585.1 1223.9 1583 1226 C1580.9 1228.1 1583 1231 1580.5 1233.5 C1578 1236 1572.6 1240.2 1568 1241 C1563.4 1241.8 1558.8 1238.6 1553 1238 C1547.2 1237.4 1538.4 1237.7 1533 1237.2 C1527.6 1236.8 1524.7 1235.5 1520.5 1235.5 C1516.3 1235.5 1512.6 1237 1508 1237.2 C1503.4 1237.5 1496.8 1237.7 1493 1237.2 C1489.2 1236.8 1488 1236.2 1485.5 1234.8 C1483 1233.3 1480.9 1231 1478 1228.5 C1475.1 1226 1471.3 1221.8 1468 1219.8 C1464.7 1217.8 1461.3 1216.5 1458 1216.5 C1454.7 1216.5 1450.2 1218 1448 1219.8 C1445.8 1221.5 1445 1224.5 1445 1227.2 C1445 1230 1446.9 1233.3 1448 1236 C1449.1 1238.7 1452.4 1240.2 1451.8 1243.5 C1451.1 1246.8 1445.9 1251.8 1444.2 1256 C1442.6 1260.2 1443.2 1264.8 1441.8 1268.5 C1440.3 1272.2 1438.2 1275.2 1435.5 1278.5 C1432.8 1281.8 1427.8 1284.8 1425.5 1288.5 C1423.2 1292.2 1422.6 1297.7 1421.8 1301 C1420.9 1304.3 1422 1305.6 1420.5 1308.5 C1419 1311.4 1415.5 1315.2 1413 1318.5 C1410.5 1321.8 1408.4 1326 1405.5 1328.5 C1402.6 1331 1399.2 1331.4 1395.5 1333.5 C1391.8 1335.6 1387.2 1338.5 1383 1341 C1378.8 1343.5 1374.7 1345.2 1370.5 1348.5 C1366.3 1351.8 1361.8 1357.2 1358 1361 C1354.2 1364.8 1352.2 1368.1 1348 1371 C1343.8 1373.9 1339.7 1377 1333 1378.5 C1326.3 1380 1316.3 1380.2 1308 1379.8 C1299.7 1379.3 1290.1 1377 1283 1376 C1275.9 1375 1271.3 1374.2 1265.5 1373.5 C1259.7 1372.8 1252.2 1371.1 1248 1371.5 C1243.8 1371.9 1242.4 1373.6 1240.5 1376 C1238.6 1378.4 1237.6 1380.2 1236.8 1386 C1235.9 1391.8 1242.8 1406.8 1235.5 1411 C1228.2 1415.2 1200.1 1447.7 1193 1411 C1185.9 1374.3 1121.3 1227.7 1193 1191Z" fill="#316DB3"/>
<path d="M1193 1191 C1233 1154.3 1393.8 1188.5 1433 1191 C1472.2 1193.5 1430.5 1201.8 1428 1206 C1425.5 1210.2 1420.3 1211.8 1418 1216 C1415.7 1220.2 1415 1225.2 1414.2 1231 C1413.5 1236.8 1413.5 1245.6 1413.5 1251 C1413.5 1256.4 1415.2 1259.8 1414.2 1263.5 C1413.3 1267.2 1410.7 1270.6 1408 1273.5 C1405.3 1276.4 1402.2 1279.1 1398 1281 C1393.8 1282.9 1388.4 1283.5 1383 1284.8 C1377.6 1286 1369.8 1286.6 1365.5 1288.5 C1361.2 1290.4 1358.8 1292.2 1357.5 1296 C1356.2 1299.8 1357.8 1306.4 1357.5 1311 C1357.2 1315.6 1356.7 1319.3 1355.5 1323.5 C1354.3 1327.7 1353 1331.8 1350.5 1336 C1348 1340.2 1344.2 1345 1340.5 1348.5 C1336.8 1352 1333.4 1355 1328 1357.2 C1322.6 1359.5 1314.2 1361.3 1308 1362.2 C1301.8 1363.2 1296.8 1363.3 1290.5 1363 C1284.2 1362.7 1276.8 1361.2 1270.5 1360.5 C1264.2 1359.8 1258.4 1358.2 1253 1358.5 C1247.6 1358.8 1242 1360.2 1238 1362.2 C1234 1364.3 1231.3 1367.5 1229.2 1371 C1227.2 1374.5 1226.3 1376.8 1225.5 1383.5 C1224.7 1390.2 1229.7 1406.4 1224.2 1411 C1218.8 1415.6 1198.2 1447.7 1193 1411 C1187.8 1374.3 1153 1227.7 1193 1191Z" fill="#224A8F"/>
<path d="M1193 1300.5 C1196.8 1295.8 1208 1298.9 1215.5 1299 C1223 1299.1 1230.9 1300.3 1238 1301 C1245.1 1301.7 1251.8 1302.2 1258 1303 C1264.2 1303.8 1271.3 1304.5 1275.5 1306 C1279.7 1307.5 1282 1310 1283 1312.2 C1284 1314.5 1284.2 1317.9 1281.8 1319.8 C1279.2 1321.6 1274 1322.5 1268 1323.5 C1262 1324.5 1253 1325 1245.5 1325.5 C1238 1326 1231.8 1326.2 1223 1326.5 C1214.2 1326.8 1198 1331.6 1193 1327.2 C1188 1322.9 1189.2 1305.2 1193 1300.5Z" fill="#316DB3"/>
<path d="M1224.2 1211 L1231.8 1211 L1231.8 1191 L1249.2 1191 L1249.2 1223.5 L1241 1223.5 L1241 1229.8 L1224.2 1229.8Z" fill="#FFFFFF"/>
<path d="M1733 1246 C1729.5 1218.9 1720.3 1247.5 1712 1248.5 C1703.7 1249.5 1692 1252.5 1683 1252.2 C1674 1252 1664.7 1249.5 1658 1247.2 C1651.3 1245 1647.6 1240.5 1643 1238.5 C1638.4 1236.5 1635.5 1235.3 1630.5 1235.5 C1625.5 1235.7 1618.4 1238 1613 1239.8 C1607.6 1241.5 1603 1243.5 1598 1246 C1593 1248.5 1587.6 1252.5 1583 1254.8 C1578.4 1257 1575.5 1259.1 1570.5 1259.8 C1565.5 1260.4 1559.2 1259.1 1553 1258.5 C1546.8 1257.9 1539.7 1256.5 1533 1256 C1526.3 1255.5 1518.4 1254.5 1513 1255.5 C1507.6 1256.5 1502.8 1259.9 1500.5 1262.2 C1498.2 1264.6 1498 1267.2 1499.2 1269.8 C1500.5 1272.2 1504 1275.2 1508 1277.2 C1512 1279.3 1517.6 1281.6 1523 1282.2 C1528.4 1282.9 1534.7 1281.6 1540.5 1281 C1546.3 1280.4 1553 1279.3 1558 1278.5 C1563 1277.7 1566.8 1276.2 1570.5 1276 C1574.2 1275.8 1577.2 1276 1580.5 1277.2 C1583.8 1278.5 1586.8 1280.4 1590.5 1283.5 C1594.2 1286.6 1599.2 1292.2 1603 1296 C1606.8 1299.8 1610.5 1302.7 1613 1306 C1615.5 1309.3 1617.6 1312.2 1618 1316 C1618.4 1319.8 1617.2 1325.2 1615.5 1328.5 C1613.8 1331.8 1611.8 1335.6 1608 1336 C1604.2 1336.4 1598 1332.8 1593 1331 C1588 1329.2 1583.4 1327 1578 1325.5 C1572.6 1324 1565.9 1323.8 1560.5 1322.2 C1555.1 1320.7 1550.1 1318.3 1545.5 1316 C1540.9 1313.7 1536.3 1308.9 1533 1308.5 C1529.7 1308.1 1528.4 1311.6 1525.5 1313.5 C1522.6 1315.4 1520.1 1318.3 1515.5 1319.8 C1510.9 1321.2 1502.4 1321.2 1498 1322.2 C1493.6 1323.3 1489.7 1324.5 1489.2 1326 C1488.8 1327.5 1492.4 1329.3 1495.5 1331 C1498.6 1332.7 1504.5 1334.1 1508 1336 C1511.5 1337.9 1514.7 1339.3 1516.8 1342.2 C1518.8 1345.2 1519.7 1349.5 1520.5 1353.5 C1521.3 1357.5 1520.1 1362.7 1521.8 1366 C1523.4 1369.3 1527.6 1370.6 1530.5 1373.5 C1533.4 1376.4 1538 1380.2 1539.2 1383.5 C1540.5 1386.8 1539.9 1390.8 1538 1393.5 C1536.1 1396.2 1530.9 1399.3 1528 1399.8 C1525.1 1400.2 1522.2 1397.9 1520.5 1396 C1518.8 1394.1 1520.1 1391.4 1518 1388.5 C1515.9 1385.6 1511.8 1381.2 1508 1378.5 C1504.2 1375.8 1499.7 1374.1 1495.5 1372.2 C1491.3 1370.4 1486.3 1367.7 1483 1367.2 C1479.7 1366.8 1478.4 1370 1475.5 1369.8 C1472.6 1369.5 1469.2 1367.2 1465.5 1366 C1461.8 1364.8 1457.6 1363.4 1453 1362.2 C1448.4 1361.1 1443 1359.7 1438 1359 C1433 1358.3 1428 1357.7 1423 1358 C1418 1358.3 1413 1359.2 1408 1361 C1403 1362.8 1398 1366.3 1393 1368.5 C1388 1370.7 1382.6 1372.3 1378 1374 C1373.4 1375.7 1369.2 1376.5 1365.5 1378.5 C1361.8 1380.5 1358.4 1383.1 1355.5 1386 C1352.6 1388.9 1350.1 1391.8 1348 1396 C1345.9 1400.2 1278.8 1408.5 1343 1411 C1407.2 1413.5 1668 1438.5 1733 1411 C1798 1383.5 1736.5 1273.1 1733 1246Z" fill="#7ABDE6"/>
<path d="M1604.2 1269.8 C1604.2 1267.9 1608.2 1267.2 1613 1266 C1617.8 1264.8 1625.5 1262.5 1633 1262.2 C1640.5 1262 1649.7 1263.9 1658 1264.8 C1666.3 1265.6 1675.9 1266.4 1683 1267.2 C1690.1 1268.1 1695.7 1269 1700.5 1269.8 C1705.3 1270.5 1706.6 1270.9 1712 1271.5 C1717.4 1272.1 1729.5 1265.7 1733 1273.5 C1736.5 1281.3 1736.5 1310.2 1733 1318.5 C1729.5 1326.8 1718.2 1321.6 1712 1323.5 C1705.8 1325.4 1701.6 1327.2 1695.5 1329.8 C1689.4 1332.2 1680.1 1336.8 1675.5 1338.5 C1670.9 1340.2 1670.5 1341 1668 1339.8 C1665.5 1338.5 1663 1335 1660.5 1331 C1658 1327 1655.3 1321 1653 1316 C1650.7 1311 1649.2 1305.6 1646.8 1301 C1644.2 1296.4 1641.1 1291.6 1638 1288.5 C1634.9 1285.4 1632.2 1284.1 1628 1282.2 C1623.8 1280.4 1617 1279.3 1613 1277.2 C1609 1275.2 1604.2 1271.6 1604.2 1269.8Z" fill="#A6DCF6"/>
</g>
<g clip-path="url(#k10)">
<rect x="228" y="1089" width="477" height="232" fill="#316DB3"/>
<path d="M214 1156.2 C216.5 1125.6 222.3 1157.3 229 1156.2 C235.7 1155.2 247.1 1152.1 254 1150 C260.9 1147.9 267.1 1146.7 270.2 1143.8 C273.4 1140.8 271.3 1136.2 272.8 1132.5 C274.2 1128.8 275.5 1123.8 279 1121.2 C282.5 1118.8 288.6 1117.5 294 1117.5 C299.4 1117.5 305.7 1119.2 311.5 1121.2 C317.3 1123.3 322.8 1127.1 329 1130 C335.2 1132.9 342.3 1136.7 349 1138.8 C355.7 1140.8 362.3 1142.3 369 1142.5 C375.7 1142.7 383.2 1140.6 389 1140 C394.8 1139.4 400.9 1138.1 404 1138.8 C407.1 1139.4 407.2 1141 407.8 1143.8 C408.2 1146.5 406.8 1151.5 407 1155 C407.2 1158.5 409.5 1162.6 409 1165 C408.5 1167.4 406.9 1168.5 404 1169.5 C401.1 1170.5 396.1 1170.7 391.5 1171.2 C386.9 1171.8 376.9 1172.2 376.5 1173 C376.1 1173.8 386.1 1174.5 389 1176.2 C391.9 1178 393.4 1181.2 394 1183.8 C394.6 1186.2 394.4 1189.2 392.8 1191.2 C391.1 1193.3 388 1195.1 384 1196.2 C380 1197.4 376.1 1197 369 1198 C361.9 1199 350.2 1200.2 341.5 1202 C332.8 1203.8 323.2 1206.8 316.5 1208.8 C309.8 1210.7 305.9 1211.5 301.5 1213.8 C297.1 1216 292.2 1219.4 290.2 1222.5 C288.2 1225.6 288.7 1229.2 289.5 1232.5 C290.3 1235.8 292.4 1239.9 295.2 1242.5 C298.1 1245.1 302.1 1247.4 306.5 1248 C310.9 1248.6 315.7 1247.8 321.5 1246.2 C327.3 1244.7 334.4 1241.1 341.5 1238.8 C348.6 1236.4 355.7 1233.2 364 1232 C372.3 1230.8 380.7 1231.2 391.5 1231.2 C402.3 1231.3 416.5 1231.9 429 1232.5 C441.5 1233.1 456.1 1233.7 466.5 1235 C476.9 1236.3 484.8 1240.1 491.5 1240.5 C498.2 1240.9 501.5 1238.9 506.5 1237.5 C511.5 1236.1 516.5 1232.6 521.5 1232 C526.5 1231.4 531.1 1232.2 536.5 1233.8 C541.9 1235.3 548.2 1238.9 554 1241.2 C559.8 1243.6 566.5 1246.5 571.5 1248 C576.5 1249.5 578.6 1250.7 584 1250 C589.4 1249.3 597.3 1246.5 604 1243.8 C610.7 1241 617.8 1237.1 624 1233.8 C630.2 1230.4 635.7 1225.9 641.5 1223.8 C647.3 1221.6 654 1220.8 659 1220.8 C664 1220.8 669.2 1221.4 671.5 1223.8 C673.8 1226.1 672.3 1231.5 672.8 1235 C673.2 1238.5 672.1 1241.7 674 1245 C675.9 1248.3 679 1252.3 684 1255 C689 1257.7 695.8 1259.6 704 1261.2 C712.2 1262.9 724.7 1264 733 1265 C741.3 1266 750.5 1255 754 1267.5 C757.5 1280 844 1327.9 754 1340 C664 1352.1 304 1370.6 214 1340 C124 1309.4 211.5 1186.9 214 1156.2Z" fill="#224A8F"/>
<path d="M437.8 1136.2 C437.5 1132.7 437.5 1130 440.2 1127.5 C443 1125 447.5 1122.9 454 1121.2 C460.5 1119.6 470.7 1118.2 479 1117.5 C487.3 1116.8 495.7 1116.8 504 1117 C512.3 1117.2 521.1 1117.6 529 1118.8 C536.9 1119.9 546.1 1121.7 551.5 1123.8 C556.9 1125.8 559.2 1128.5 561.5 1131.2 C563.8 1134 562.3 1137.1 565.2 1140 C568.2 1142.9 574.6 1146.2 579 1148.8 C583.4 1151.2 587.8 1152.3 591.5 1155 C595.2 1157.7 599.6 1162.1 601.5 1165 C603.4 1167.9 603.6 1170 602.8 1172.5 C601.9 1175 599.6 1177.9 596.5 1180 C593.4 1182.1 588.2 1183.3 584 1185 C579.8 1186.7 574.8 1187.5 571.5 1190 C568.2 1192.5 566.9 1197.1 564 1200 C561.1 1202.9 558.6 1205.4 554 1207.5 C549.4 1209.6 542.8 1211.5 536.5 1212.5 C530.2 1213.5 522.8 1214.2 516.5 1213.8 C510.2 1213.2 505.2 1211.2 499 1209.5 C492.8 1207.8 484.8 1204 479 1203.8 C473.2 1203.5 468.2 1207 464 1208 C459.8 1209 457.3 1210.2 454 1209.5 C450.7 1208.8 448.2 1205.5 444 1203.8 C439.8 1202 434.8 1200 429 1198.8 C423.2 1197.5 415 1196.9 409 1196.2 C403 1195.6 395.2 1196.2 392.8 1195 C390.2 1193.8 392.1 1190.8 394 1188.8 C395.9 1186.8 400.5 1184.7 404 1183 C407.5 1181.3 411.1 1178.6 415.2 1178.8 C419.4 1178.9 422.5 1182.3 429 1183.8 C435.5 1185.2 445.7 1186.5 454 1187.5 C462.3 1188.5 470.7 1189.8 479 1190 C487.3 1190.2 495.7 1189.9 504 1188.8 C512.3 1187.6 523.2 1185.5 529 1183 C534.8 1180.5 538.2 1176.8 539 1173.8 C539.8 1170.8 536.9 1167.9 534 1165 C531.1 1162.1 526.5 1158.8 521.5 1156.2 C516.5 1153.8 509.8 1151.2 504 1150 C498.2 1148.8 491.5 1148.1 486.5 1148.8 C481.5 1149.4 478.2 1152.1 474 1153.8 C469.8 1155.4 465.7 1158.3 461.5 1158.8 C457.3 1159.2 452.3 1157.9 449 1156.2 C445.7 1154.6 443.4 1152.1 441.5 1148.8 C439.6 1145.4 438 1139.8 437.8 1136.2Z" fill="#224A8F"/>
<path d="M376.5 1173 C379 1171.9 397.5 1170.2 404 1169.5 C410.5 1168.8 413.4 1167.6 415.2 1168.8 C417.1 1169.9 416.6 1174.6 415.2 1176.2 C413.9 1177.9 408.7 1176.7 407 1178.8 C405.3 1180.8 406.8 1186.1 405.2 1188.8 C403.7 1191.4 399.8 1194.1 397.8 1194.5 C395.7 1194.9 393.4 1193 392.8 1191.2 C392.1 1189.5 394.6 1186.2 394 1183.8 C393.4 1181.2 391.9 1178 389 1176.2 C386.1 1174.5 374 1174.1 376.5 1173Z" fill="#316DB3"/>
<path d="M214 1075 C183.2 1084.4 211.5 1121.9 214 1131.2 C216.5 1140.6 224.4 1132.7 229 1131.2 C233.6 1129.8 237.8 1125.8 241.5 1122.5 C245.2 1119.2 248.6 1115 251.5 1111.2 C254.4 1107.5 256.1 1102.7 259 1100 C261.9 1097.3 263.6 1095.8 269 1095 C274.4 1094.2 284.4 1094.4 291.5 1095 C298.6 1095.6 305.2 1096.5 311.5 1098.8 C317.8 1101 323.2 1105.6 329 1108.8 C334.8 1111.9 340.7 1115.2 346.5 1117.5 C352.3 1119.8 358.6 1121.8 364 1122.5 C369.4 1123.2 374.4 1122.8 379 1122 C383.6 1121.2 386.5 1119.5 391.5 1117.5 C396.5 1115.5 404.2 1112.3 409 1110 C413.8 1107.7 419.4 1105.8 420.2 1103.8 C421.1 1101.7 416.7 1099.6 414 1097.5 C411.3 1095.4 406.5 1095 404 1091.2 C401.5 1087.5 430.7 1077.7 399 1075 C367.3 1072.3 244.8 1065.6 214 1075Z" fill="#519AD3"/>
<path d="M341.5 1092.5 C341.9 1090 344.4 1085.8 349 1085 C353.6 1084.2 363.6 1085.6 369 1087.5 C374.4 1089.4 379.2 1093.3 381.5 1096.2 C383.8 1099.2 383.6 1102.5 382.8 1105 C381.9 1107.5 379.6 1110.1 376.5 1111.2 C373.4 1112.4 367.8 1112.6 364 1112 C360.2 1111.4 356.9 1109.5 354 1107.5 C351.1 1105.5 348.6 1102.5 346.5 1100 C344.4 1097.5 341.1 1095 341.5 1092.5Z" fill="#7ABDE6"/>
<path d="M491.5 1075 C470.2 1077.5 489.4 1086.7 491.5 1090 C493.6 1093.3 499.8 1092.9 504 1095 C508.2 1097.1 512.3 1100.4 516.5 1102.5 C520.7 1104.6 523.6 1105.9 529 1107.5 C534.4 1109.1 542.8 1111 549 1112 C555.2 1113 561.5 1112.2 566.5 1113.8 C571.5 1115.3 575.5 1118.5 579 1121.2 C582.5 1124 585.2 1130.2 587.8 1130 C590.2 1129.8 592.1 1123.3 594 1120 C595.9 1116.7 597.8 1113.3 599 1110 C600.2 1106.7 599.4 1102.9 601.5 1100 C603.6 1097.1 608.6 1094.4 611.5 1092.5 C614.4 1090.6 617.8 1091.7 619 1088.8 C620.2 1085.8 640.2 1077.3 619 1075 C597.8 1072.7 512.8 1072.5 491.5 1075Z" fill="#519AD3"/>
<path d="M601.5 1110 C602.1 1107.7 603.6 1104.8 606.5 1103.8 C609.4 1102.7 614.4 1102.5 619 1103.8 C623.6 1105 629 1108.5 634 1111.2 C639 1114 646 1117.3 649 1120 C652 1122.7 652.4 1125.2 652 1127.5 C651.6 1129.8 649.5 1132.1 646.5 1133.8 C643.5 1135.4 638.6 1137.3 634 1137.5 C629.4 1137.7 623.2 1136.7 619 1135 C614.8 1133.3 611.7 1130.4 609 1127.5 C606.3 1124.6 604 1120.4 602.8 1117.5 C601.5 1114.6 600.9 1112.3 601.5 1110Z" fill="#224A8F"/>
</g>
<g clip-path="url(#k11)">
<rect x="1695" y="747" width="366" height="460" fill="#7ABDE6"/>
<path d="M1681 1026.8 C1683.5 994 1691.8 1027.8 1696 1026.8 C1700.2 1025.7 1703.3 1023.2 1706 1020.5 C1708.7 1017.8 1711.2 1014.2 1712.2 1010.5 C1713.3 1006.8 1711.2 1001.8 1712.2 998 C1713.3 994.2 1715 990.7 1718.5 988 C1722 985.3 1726.8 983.2 1733.5 981.8 C1740.2 980.3 1751.4 979.2 1758.5 979.2 C1765.6 979.2 1771.2 979.9 1776 981.8 C1780.8 983.6 1785.1 987.4 1787.2 990.5 C1789.4 993.6 1788.8 997.2 1789 1000.5 C1789.2 1003.8 1788.2 1007.6 1788.5 1010.5 C1788.8 1013.4 1788.9 1015.1 1791 1018 C1793.1 1020.9 1796.8 1025.1 1801 1028 C1805.2 1030.9 1811 1032.6 1816 1035.5 C1821 1038.4 1826.8 1043.4 1831 1045.5 C1835.2 1047.6 1836.8 1048 1841 1048 C1845.2 1048 1851 1047 1856 1045.5 C1861 1044 1866 1040.9 1871 1039.2 C1876 1037.6 1881 1036.5 1886 1035.5 C1891 1034.5 1895.2 1035.1 1901 1033 C1906.8 1030.9 1916 1026.8 1921 1023 C1926 1019.2 1929.3 1015.9 1931 1010.5 C1932.7 1005.1 1930.6 995.9 1931 990.5 C1931.4 985.1 1931 981.1 1933.5 978 C1936 974.9 1939.8 973.2 1946 971.8 C1952.2 970.3 1962.7 970.7 1971 969.2 C1979.3 967.8 1988.5 963.2 1996 963 C2003.5 962.8 2009.8 966.3 2016 968 C2022.2 969.7 2027.7 970.9 2033.5 973 C2039.3 975.1 2044.8 977.6 2051 980.5 C2057.2 983.4 2067.7 950.1 2071 990.5 C2074.3 1030.9 2136 1184.2 2071 1223 C2006 1261.8 1746 1255.7 1681 1223 C1616 1190.3 1678.5 1059.5 1681 1026.8Z" fill="#519AD3"/>
<path d="M1681 1073 C1683.5 1055.3 1691.8 1073.4 1696 1073 C1700.2 1072.6 1701.8 1071.5 1706 1070.5 C1710.2 1069.5 1717.2 1068.8 1721 1066.8 C1724.8 1064.7 1726 1061.1 1728.5 1058 C1731 1054.9 1732.2 1050.9 1736 1048 C1739.8 1045.1 1746.8 1041.8 1751 1040.5 C1755.2 1039.2 1756.4 1038.8 1761 1040.5 C1765.6 1042.2 1772.7 1047.6 1778.5 1050.5 C1784.3 1053.4 1791.8 1055.5 1796 1058 C1800.2 1060.5 1802.9 1062.6 1803.5 1065.5 C1804.1 1068.4 1800.8 1072.2 1799.8 1075.5 C1798.7 1078.8 1797.2 1082.2 1797.2 1085.5 C1797.2 1088.8 1800 1092.2 1799.8 1095.5 C1799.5 1098.8 1799.1 1103.2 1796 1105.5 C1792.9 1107.8 1786 1107.6 1781 1109.2 C1776 1110.9 1770.6 1113.2 1766 1115.5 C1761.4 1117.8 1756.4 1119.7 1753.5 1123 C1750.6 1126.3 1748.9 1131.3 1748.5 1135.5 C1748.1 1139.7 1750.4 1143.8 1751 1148 C1751.6 1152.2 1753.1 1156.3 1752.2 1160.5 C1751.4 1164.7 1748.3 1169.2 1746 1173 C1743.7 1176.8 1741.4 1179.7 1738.5 1183 C1735.6 1186.3 1731.8 1190.7 1728.5 1193 C1725.2 1195.3 1721.6 1195.8 1718.5 1196.8 C1715.4 1197.7 1713.3 1198.2 1710 1198.8 C1706.7 1199.3 1701.7 1200.6 1698.8 1200 C1695.8 1199.4 1694.2 1197.6 1692.5 1195 C1690.8 1192.4 1690.4 1186.9 1688.5 1184.2 C1686.6 1181.6 1682.2 1197.8 1681 1179.2 C1679.8 1160.7 1678.5 1090.7 1681 1073Z" fill="#7ABDE6"/>
<path d="M1818.5 1155.5 C1820.4 1153 1828.7 1150.5 1831 1148 C1833.3 1145.5 1829.8 1140.9 1832.2 1140.5 C1834.8 1140.1 1841.2 1143.8 1846 1145.5 C1850.8 1147.2 1856.8 1148 1861 1150.5 C1865.2 1153 1866.8 1158 1871 1160.5 C1875.2 1163 1881.6 1163.4 1886 1165.5 C1890.4 1167.6 1895.6 1170.5 1897.2 1173 C1898.9 1175.5 1897.9 1178.4 1896 1180.5 C1894.1 1182.6 1890.2 1183 1886 1185.5 C1881.8 1188 1874.3 1192.1 1871 1195.5 C1867.7 1198.9 1867.2 1201.4 1866 1206 C1864.8 1210.6 1878.1 1220.2 1863.5 1223 C1848.9 1225.8 1792.2 1225.8 1778.5 1223 C1764.8 1220.2 1779.8 1211 1781 1206 C1782.2 1201 1783.5 1197.2 1786 1193 C1788.5 1188.8 1793.5 1183.2 1796 1180.5 C1798.5 1177.8 1798.5 1177.2 1801 1176.8 C1803.5 1176.3 1808.1 1177.5 1811 1178 C1813.9 1178.5 1816.4 1180.8 1818.5 1180 C1820.6 1179.2 1823.3 1175.8 1823.5 1173 C1823.7 1170.2 1820.6 1165.9 1819.8 1163 C1818.9 1160.1 1816.6 1158 1818.5 1155.5Z" fill="#7ABDE6"/>
<path d="M1681 733 C1636.8 770.3 1678.5 919.5 1681 956.8 C1683.5 994 1691 957.2 1696 956.8 C1701 956.3 1704.8 955.9 1711 954.2 C1717.2 952.6 1724.3 949.5 1733.5 946.8 C1742.7 944 1755.6 940.1 1766 938 C1776.4 935.9 1786.8 935.9 1796 934.2 C1805.2 932.6 1815.2 930.3 1821 928 C1826.8 925.7 1829.3 923.4 1831 920.5 C1832.7 917.6 1831.6 913.4 1831 910.5 C1830.4 907.6 1826 906.1 1827.2 903 C1828.5 899.9 1835 895.5 1838.5 891.8 C1842 888 1843.9 883 1848.5 880.5 C1853.1 878 1861.4 878.4 1866 876.8 C1870.6 875.1 1872.2 872.8 1876 870.5 C1879.8 868.2 1885.2 863.6 1888.5 863 C1891.8 862.4 1894.3 865.3 1896 866.8 C1897.7 868.2 1896 870.7 1898.5 871.8 C1901 872.8 1906.4 871.8 1911 873 C1915.6 874.2 1921.8 879 1926 879.2 C1930.2 879.5 1932.7 875.7 1936 874.2 C1939.3 872.8 1945 872.8 1946 870.5 C1947 868.2 1943.7 863.6 1942.2 860.5 C1940.8 857.4 1937.7 854.5 1937.2 851.8 C1936.8 849 1938.3 846.5 1939.8 844.2 C1941.2 842 1945 856.5 1946 838 C1947 819.5 1990.2 750.5 1946 733 C1901.8 715.5 1725.2 695.7 1681 733Z" fill="#A6DCF6"/>
<path d="M1908.5 861.8 L1914.8 865.5 L1909.8 868.5Z" fill="#7ABDE6"/>
<path d="M1681 733 C1653.5 748.2 1678.5 809 1681 824.2 C1683.5 839.5 1690.2 825.1 1696 824.2 C1701.8 823.4 1709.3 821.2 1716 819.2 C1722.7 817.3 1728.9 814.2 1736 812.5 C1743.1 810.8 1751.4 809.6 1758.5 809.2 C1765.6 808.9 1772.2 810.9 1778.5 810.5 C1784.8 810.1 1791.4 808.8 1796 806.8 C1800.6 804.7 1802.7 800.9 1806 798 C1809.3 795.1 1811.8 791.8 1816 789.2 C1820.2 786.8 1826.8 784 1831 783 C1835.2 782 1838.1 783.6 1841 783 C1843.9 782.4 1847 780.9 1848.5 779.2 C1850 777.6 1849.8 776.1 1849.8 773 C1849.8 769.9 1848.9 764.7 1848.5 760.5 C1848.1 756.3 1847.7 752.6 1847.2 748 C1846.8 743.4 1873.7 735.5 1846 733 C1818.3 730.5 1708.5 717.8 1681 733Z" fill="#C8E8F8"/>
<path d="M1681 733 C1690.2 726.5 1727.2 730.5 1736 733 C1744.8 735.5 1735.2 744.2 1733.5 748 C1731.8 751.8 1729.8 752.6 1726 755.5 C1722.2 758.4 1716 763 1711 765.5 C1706 768 1701 769.5 1696 770.5 C1691 771.5 1683.5 778 1681 771.8 C1678.5 765.5 1671.8 739.5 1681 733Z" fill="#E5F4FB"/>
<path d="M1867.8 745.5 L1875.5 745.5 L1875.5 754.2 L1867.8 754.2Z" fill="#7ABDE6"/>
<path d="M2018.5 991.8 C2019.3 985.5 2021 986.5 2023.5 985.5 C2026 984.5 2030.2 984.5 2033.5 985.5 C2036.8 986.5 2040.6 989.7 2043.5 991.8 C2046.4 993.8 2046.4 995.7 2051 998 C2055.6 1000.3 2067.7 1001.3 2071 1005.5 C2074.3 1009.7 2079.8 1020.1 2071 1023 C2062.2 1025.9 2027.2 1028.2 2018.5 1023 C2009.8 1017.8 2017.7 998 2018.5 991.8Z" fill="#316DB3"/>
<path d="M2043.5 1016.8 C2044.8 1015.9 2048.2 1014.2 2051 1013 C2053.8 1011.8 2056.9 1010.1 2060.2 1009.2 C2063.6 1008.4 2069.2 1006.5 2071 1008 C2072.8 1009.5 2075.6 1016.3 2071 1018 C2066.4 1019.7 2048.1 1018.2 2043.5 1018 C2038.9 1017.8 2042.2 1017.6 2043.5 1016.8Z" fill="#224A8F"/>
<path d="M1956 1013 C1955.6 1011.8 1962.7 1007.6 1966 1005.5 C1969.3 1003.4 1972.7 1001.8 1976 1000.5 C1979.3 999.2 1984.3 997.6 1986 998 C1987.7 998.4 1988.9 1000.5 1986 1003 C1983.1 1005.5 1973.5 1011.3 1968.5 1013 C1963.5 1014.7 1956.4 1014.2 1956 1013Z" fill="#316DB3"/>
<path d="M1903.5 1063 C1905.6 1066.8 1913.1 1067.2 1916 1070.5 C1918.9 1073.8 1918.5 1079 1921 1083 C1923.5 1087 1927.2 1090.9 1931 1094.2 C1934.8 1097.6 1940.2 1099.9 1943.5 1103 C1946.8 1106.1 1949.3 1109.9 1951 1113 C1952.7 1116.1 1951.8 1119.5 1953.5 1121.8 C1955.2 1124 1957.2 1126.5 1961 1126.8 C1964.8 1127 1971 1124.5 1976 1123 C1981 1121.5 1985.6 1119.5 1991 1118 C1996.4 1116.5 2003.5 1115.9 2008.5 1114.2 C2013.5 1112.6 2016.8 1109.7 2021 1108 C2025.2 1106.3 2029.3 1106.3 2033.5 1104.2 C2037.7 1102.2 2041.5 1098.2 2046 1095.5 C2050.5 1092.8 2056.1 1089.7 2060.2 1088 C2064.4 1086.3 2069.2 1092.2 2071 1085.5 C2072.8 1078.8 2098.9 1054.2 2071 1048 C2043.1 1041.8 1931.4 1045.5 1903.5 1048 C1875.6 1050.5 1901.4 1059.2 1903.5 1063Z" fill="#316DB3"/>
<path d="M2001.5 1046.8 C2002.9 1044.5 2008.4 1044.5 2009.8 1046.8 C2011.1 1049 2008.3 1058.2 2009.8 1060.5 C2011.2 1062.8 2017 1058.6 2018.5 1060.5 C2020 1062.4 2012.9 1069.9 2018.5 1071.8 C2024.1 1073.6 2046.6 1073.6 2052.2 1071.8 C2057.9 1069.9 2049.1 1062.4 2052.2 1060.5 C2055.4 1058.6 2067.9 1057.6 2071 1060.5 C2074.1 1063.4 2072.8 1074.5 2071 1078 C2069.2 1081.5 2064.4 1079.9 2060.2 1081.8 C2056.1 1083.6 2050.2 1087 2046 1089.2 C2041.8 1091.5 2038.9 1095.1 2034.8 1095.5 C2030.6 1095.9 2025 1093.4 2021 1091.8 C2017 1090.1 2013.7 1088.2 2011 1085.5 C2008.3 1082.8 2005.6 1078.8 2004.8 1075.5 C2003.9 1072.2 2006.5 1068 2006 1065.5 C2005.5 1063 2002.2 1063.6 2001.5 1060.5 C2000.8 1057.4 2000.1 1049 2001.5 1046.8Z" fill="#224A8F"/>
<path d="M1939.8 1188 C1940.2 1182.6 1942 1177.2 1943.5 1173 C1945 1168.8 1946.8 1167.2 1948.5 1163 C1950.2 1158.8 1951.4 1152 1953.5 1148 C1955.6 1144 1958.1 1141.3 1961 1139.2 C1963.9 1137.2 1966.8 1135.7 1971 1135.5 C1975.2 1135.3 1980.6 1137.6 1986 1138 C1991.4 1138.4 1998.5 1137.4 2003.5 1138 C2008.5 1138.6 2013.1 1139.7 2016 1141.8 C2018.9 1143.8 2021 1147.4 2021 1150.5 C2021 1153.6 2018.1 1156.8 2016 1160.5 C2013.9 1164.2 2010.2 1168.8 2008.5 1173 C2006.8 1177.2 2004.8 1181.8 2006 1185.5 C2007.2 1189.2 2012.7 1192.2 2016 1195.5 C2019.3 1198.8 2023.9 1200.9 2026 1205.5 C2028.1 1210.1 2041.8 1220.1 2028.5 1223 C2015.2 1225.9 1960.6 1225.9 1946 1223 C1931.4 1220.1 1942 1211.3 1941 1205.5 C1940 1199.7 1939.3 1193.4 1939.8 1188Z" fill="#316DB3"/>
<path d="M1964.2 1176.8 C1964.2 1174.5 1965.5 1172 1967.2 1170.5 C1969 1169 1972.5 1167.6 1974.8 1168 C1977 1168.4 1980.2 1170.7 1981 1173 C1981.8 1175.3 1981 1179.7 1979.8 1181.8 C1978.5 1183.8 1975.6 1185.1 1973.5 1185.5 C1971.4 1185.9 1968.8 1185.7 1967.2 1184.2 C1965.7 1182.8 1964.2 1179 1964.2 1176.8Z" fill="#224A8F"/>
<path d="M2044.8 1180.5 C2046.3 1178 2055.9 1172.6 2060.2 1170.5 C2064.6 1168.4 2069.2 1164.7 2071 1168 C2072.8 1171.3 2072.8 1186.8 2071 1190.5 C2069.2 1194.2 2063.6 1190.8 2060.2 1190 C2056.9 1189.2 2053.6 1187.1 2051 1185.5 C2048.4 1183.9 2043.2 1183 2044.8 1180.5Z" fill="#316DB3"/>
<path d="M1883.8 733 L1883.8 748 L1875.5 748 L1875.5 754.2 L1867.8 754.2 L1867.8 760.5 L1858.8 760.5 L1858.8 767 L1851 767 L1851 779.2 L1858.8 779.2 L1858.8 785.5 L1867.8 785.5 L1867.8 791.8 L1884 791.8 L1884 816.8 L1893.5 816.8 L1893.5 823 L1901.5 823 L1901.5 830.5 L1908.5 830.5 L1908.5 841 L1917.2 841 L1917.2 846.8 L1943.5 846.8 L1943.5 841 L1951.5 841 L1951.5 835 L1959.8 835 L1959.8 859.2 L1968 859.2 L1968 866 L1976 866 L1976 878.5 L1984.8 878.5 L1984.8 896.8 L2009.8 896.8 L2009.8 891 L2018.5 891 L2018.5 885 L2034.8 885 L2034.8 878.5 L2071 878.5 L2071 733Z" fill="#FFFFFF"/>
<path d="M1893 1046.8 L1901.5 1046.8 L1901.5 1034.2 L1918 1034.2 L1918 1028 L1943.5 1028 L1943.5 1021.8 L1959.8 1021.8 L1959.8 1015.5 L1968 1015.5 L1968 1009.2 L1976 1009.2 L1976 1003 L1984.8 1003 L1984.8 996.8 L1993 996.8 L1993 990.5 L2018 990.5 L2018 1015.5 L2026.5 1015.5 L2026.5 1021.8 L2043.5 1021.8 L2043.5 1015.5 L2071 1015.5 L2071 1059.2 L2052.2 1059.2 L2052.2 1071.8 L2018.5 1071.8 L2018.5 1060.5 L2009.8 1060.5 L2009.8 1046.8 L2001.5 1046.8 L2001.5 1065.5 L1984.8 1065.5 L1984.8 1060.5 L1976 1060.5 L1976 1065.5 L1934.8 1065.5 L1934.8 1071.8 L1918 1071.8 L1918 1065.5 L1909.8 1065.5 L1909.8 1059.2 L1893 1059.2Z" fill="#FFFFFF"/>
<path d="M1984.8 1078.5 L2001.5 1078.5 L2001.5 1091 L1984.8 1091Z" fill="#FFFFFF"/>
</g>
<g clip-path="url(#k12)">
<rect x="1695" y="1205" width="366" height="196.5" fill="#519AD3"/>
<path d="M1801 1191 C1790 1195.4 1797.9 1212.2 1794.8 1217.2 C1791.6 1222.2 1784.8 1219.1 1782.2 1221 C1779.8 1222.9 1781.6 1226 1779.8 1228.5 C1777.9 1231 1773.3 1232.2 1771 1236 C1768.7 1239.8 1768.5 1246 1766 1251 C1763.5 1256 1758.5 1262.2 1756 1266 C1753.5 1269.8 1750.2 1271 1751 1273.5 C1751.8 1276 1757.7 1277.9 1761 1281 C1764.3 1284.1 1767.7 1289 1771 1292.2 C1774.3 1295.5 1776.8 1298.6 1781 1300.5 C1785.2 1302.4 1790.6 1303.5 1796 1303.5 C1801.4 1303.5 1808.5 1302.6 1813.5 1300.5 C1818.5 1298.4 1822.2 1293.8 1826 1291 C1829.8 1288.2 1831.8 1285.6 1836 1283.5 C1840.2 1281.4 1846 1279.8 1851 1278.5 C1856 1277.2 1860.9 1276.8 1866 1276 C1871.1 1275.2 1879.8 1276 1881.5 1273.5 C1883.2 1271 1878.6 1264.1 1876 1261 C1873.4 1257.9 1871 1255.8 1866 1254.8 C1861 1253.7 1852.7 1255.4 1846 1254.8 C1839.3 1254.1 1831 1252.2 1826 1251 C1821 1249.8 1818.4 1248.9 1816 1247.2 C1813.6 1245.6 1811.5 1242.9 1811.5 1241 C1811.5 1239.1 1811.9 1237.2 1816 1236 C1820.1 1234.8 1828.9 1234.8 1836 1234 C1843.1 1233.2 1853.1 1232.1 1858.5 1231 C1863.9 1229.9 1867.2 1229.3 1868.5 1227.2 C1869.8 1225.2 1867 1222 1866 1218.5 C1865 1215 1863.1 1210.6 1862.2 1206 C1861.4 1201.4 1871.2 1193.5 1861 1191 C1850.8 1188.5 1812 1186.6 1801 1191Z" fill="#7ABDE6"/>
<path d="M1894.8 1223.5 C1895.2 1221.6 1897.9 1219 1901 1217.2 C1904.1 1215.5 1909.3 1213.2 1913.5 1213 C1917.7 1212.8 1923.3 1214.5 1926 1216 C1928.7 1217.5 1930.6 1220 1929.8 1222.2 C1928.9 1224.5 1924.5 1228.1 1921 1229.8 C1917.5 1231.4 1912.2 1232.5 1908.5 1232.2 C1904.8 1232 1900.8 1230 1898.5 1228.5 C1896.2 1227 1894.3 1225.4 1894.8 1223.5Z" fill="#7ABDE6"/>
<path d="M2071 1266 C2069.2 1241.8 2064.4 1266.8 2060.2 1266 C2056.1 1265.2 2051.3 1262.5 2046 1261 C2040.7 1259.5 2034.3 1257.9 2028.5 1257.2 C2022.7 1256.6 2016.4 1256.4 2011 1257.2 C2005.6 1258.1 1997.9 1260.4 1996 1262.2 C1994.1 1264.1 1997.2 1266.4 1999.8 1268.5 C2002.2 1270.6 2007.9 1271.8 2011 1274.8 C2014.1 1277.7 2016.8 1281.8 2018.5 1286 C2020.2 1290.2 2021.8 1296.8 2021 1299.8 C2020.2 1302.8 2017.7 1303.6 2013.5 1304 C2009.3 1304.4 2001 1303.6 1996 1302.2 C1991 1300.9 1987.2 1298.7 1983.5 1296 C1979.8 1293.3 1976.4 1288.9 1973.5 1286 C1970.6 1283.1 1968.9 1280.4 1966 1278.5 C1963.1 1276.6 1960.2 1275.5 1956 1274.8 C1951.8 1274 1946 1273.2 1941 1274 C1936 1274.8 1931 1277.8 1926 1279.8 C1921 1281.8 1913.9 1283.7 1911 1286 C1908.1 1288.3 1911 1290.8 1908.5 1293.5 C1906 1296.2 1900.4 1300.2 1896 1302.2 C1891.6 1304.3 1886 1303.7 1882.2 1306 C1878.5 1308.3 1874.2 1312.2 1873.5 1316 C1872.8 1319.8 1878.4 1324.3 1878 1328.5 C1877.6 1332.7 1873 1337.2 1871 1341 C1869 1344.8 1868.5 1348.1 1866 1351 C1863.5 1353.9 1860.2 1356 1856 1358.5 C1851.8 1361 1846 1363.1 1841 1366 C1836 1368.9 1829.8 1372.7 1826 1376 C1822.2 1379.3 1821.8 1383.6 1818.5 1386 C1815.2 1388.4 1811.8 1389.9 1806 1390.5 C1800.2 1391.1 1790.2 1390 1783.5 1389.8 C1776.8 1389.5 1771.4 1390.2 1766 1389 C1760.6 1387.8 1756 1385 1751 1382.2 C1746 1379.5 1740.2 1375.4 1736 1372.2 C1731.8 1369.1 1727.4 1366 1725.5 1363.5 C1723.6 1361 1723.4 1359.3 1724.8 1357.2 C1726.1 1355.2 1730.4 1353.5 1733.5 1351 C1736.6 1348.5 1741 1345.6 1743.5 1342.2 C1746 1338.9 1748.2 1336.2 1748.5 1331 C1748.8 1325.8 1745.7 1317.2 1745.5 1311 C1745.3 1304.8 1746.3 1298.9 1747.2 1293.5 C1748.2 1288.1 1752.9 1282.2 1751 1278.5 C1749.1 1274.8 1741 1273.5 1736 1271 C1731 1268.5 1726 1266.2 1721 1263.5 C1716 1260.8 1710.2 1256.6 1706 1254.8 C1701.8 1252.9 1700.2 1252.9 1696 1252.2 C1691.8 1251.6 1683.5 1224.5 1681 1251 C1678.5 1277.5 1616 1384.3 1681 1411 C1746 1437.7 2006 1435.2 2071 1411 C2136 1386.8 2072.8 1290.2 2071 1266Z" fill="#7ABDE6"/>
<path d="M1721 1402.2 C1718 1401 1731.2 1396.1 1736 1394.8 C1740.8 1393.4 1746.8 1392.8 1749.8 1394 C1752.8 1395.2 1758.8 1400.9 1754 1402.2 C1749.2 1403.6 1724 1403.5 1721 1402.2Z" fill="#519AD3"/>
<path d="M2027.2 1313 C2028.1 1311.8 2033 1310.4 2038.5 1309.8 C2044 1309.1 2054.8 1309 2060.2 1309 C2065.7 1309 2069.2 1308.6 2071 1309.8 C2072.8 1310.9 2072.8 1315 2071 1316 C2069.2 1317 2064.8 1315.6 2060.2 1316 C2055.7 1316.4 2048 1318.3 2043.5 1318.5 C2039 1318.7 2036.2 1318.2 2033.5 1317.2 C2030.8 1316.3 2026.4 1314.2 2027.2 1313Z" fill="#519AD3"/>
<path d="M1681 1268.5 C1683.5 1258.7 1691.8 1268.7 1696 1269.8 C1700.2 1270.8 1702.9 1272 1706 1274.8 C1709.1 1277.5 1712.9 1282.5 1714.8 1286 C1716.6 1289.5 1717.5 1291.8 1717.2 1296 C1717 1300.2 1715 1307 1713.5 1311 C1712 1315 1711.4 1317.2 1708.5 1319.8 C1705.6 1322.2 1700.6 1324.5 1696 1326 C1691.4 1327.5 1683.5 1338.1 1681 1328.5 C1678.5 1318.9 1678.5 1278.3 1681 1268.5Z" fill="#A6DCF6"/>
<path d="M1938 1386 C1938.6 1382.2 1940.1 1376.8 1942.2 1373.5 C1944.4 1370.2 1949.1 1368.9 1951 1366 C1952.9 1363.1 1951.4 1358.4 1953.5 1356 C1955.6 1353.6 1958.9 1352.6 1963.5 1351.8 C1968.1 1350.9 1976 1350.3 1981 1351 C1986 1351.7 1990.2 1353.1 1993.5 1356 C1996.8 1358.9 1998.5 1364.8 2001 1368.5 C2003.5 1372.2 2007.5 1375.2 2008.5 1378.5 C2009.5 1381.8 2010.2 1386.2 2007.2 1388.5 C2004.3 1390.8 1996.2 1391 1991 1392.2 C1985.8 1393.5 1979.8 1394.6 1976 1396 C1972.2 1397.4 1970.2 1398 1968.5 1400.5 C1966.8 1403 1970.8 1409.2 1966 1411 C1961.2 1412.8 1944.3 1413.5 1939.8 1411 C1935.2 1408.5 1938.8 1400.2 1938.5 1396 C1938.2 1391.8 1937.4 1389.8 1938 1386Z" fill="#A6DCF6"/>
<path d="M1946 1191 C1925.6 1193.5 1947.2 1201.8 1948.5 1206 C1949.8 1210.2 1952.2 1212.2 1953.5 1216 C1954.8 1219.8 1953.9 1225 1956 1228.5 C1958.1 1232 1962.2 1235.6 1966 1237.2 C1969.8 1238.9 1974.5 1239.3 1978.5 1238.5 C1982.5 1237.7 1986.8 1235.2 1989.8 1232.2 C1992.7 1229.3 1994.3 1224.1 1996 1221 C1997.7 1217.9 1997.2 1215 1999.8 1213.5 C2002.2 1212 2008.3 1211.4 2011 1212.2 C2013.7 1213.1 2014.8 1215.6 2016 1218.5 C2017.2 1221.4 2016 1226.8 2018.5 1229.8 C2021 1232.7 2026.4 1234.3 2031 1236 C2035.6 1237.7 2041.1 1238.6 2046 1239.8 C2050.9 1240.9 2056.1 1242.4 2060.2 1243 C2064.4 1243.6 2069.2 1252.2 2071 1243.5 C2072.8 1234.8 2091.8 1199.8 2071 1191 C2050.2 1182.2 1966.4 1188.5 1946 1191Z" fill="#316DB3"/>
</g>
<g clip-path="url(#k13)">
</g>
<g clip-path="url(#k14)">
</g>
<g clip-path="url(#k15)">
</g>
<g clip-path="url(#k16)">
</g>
<g clip-path="url(#k0)" fill="none" stroke="#000" stroke-linejoin="round" stroke-linecap="round">
<path d="M329.2 301.8 L400 337 L435 353 L495 383.8 L522.5 396.2 L552.5 413.2 L580 425.8 L615 444.2 L652 460.2 L652 477 L658.8 477.5 L662.5 479.5 L680 484.5 L682 490 L690 497.5 L702.5 500 L715 499.5" stroke-width="2.6"/>
<path d="M229 575 L242.5 671.2 L259 679.5 L256.2 695 L247.5 717 L229 718" stroke-width="2.6"/>
<path d="M492.5 752.5 L507.5 748.5 L522.5 744.5 L535 736.2 L550 734.5 L560 737 L567.5 735 L577.5 738.8 L596.2 740 L640 739.5 L658.8 728 L704 725 L715 724.5" stroke-width="2.6"/>
<path d="M596.2 740 L593.8 752.5" stroke-width="2.6"/>
</g>
<g clip-path="url(#k1)" fill="none" stroke="#000" stroke-linejoin="round" stroke-linecap="round">
<path d="M694 499.5 L704 500 L714.5 498 L729 508 L734 510 L759 513 L776.5 520 L777 531.2 L778.5 538.8 L772 546.2 L769.8 551.2 L779 557.5 L784 559 L816.5 553.2 L838.5 551.2 L879 545 L896.5 541.8 L932 537 L954 523 L991.5 498 L1029 473.8 L1054 462.5 L1109 436.2 L1159 413.8 L1208 391.2 L1219 386.2" stroke-width="2.6"/>
<path d="M1200.2 301.8 L1208 304.5 L1219 307.5" stroke-width="2.6"/>
<path d="M838.5 551.2 L838.5 649.2 L828.2 652.5 L827.5 680 L822.8 688.8 L816.5 707 L809 710 L796 716.8 L795 723.2 L726.5 723.2 L704 725 L694 725.5" stroke-width="2.6"/>
</g>
<g clip-path="url(#k2)" fill="none" stroke="#000" stroke-linejoin="round" stroke-linecap="round">
<path d="M1198 396.2 L1208 392 L1220.5 387 L1240.5 377.5 L1265.5 367 L1290.5 355.5 L1305 350" stroke-width="2.6"/>
<path d="M1198 301.2 L1208 303.8 L1213.5 306 L1226.8 302 L1240.5 305.5 L1258 312 L1272.5 319 L1280.5 317 L1285 321.2 L1294.2 335.5 L1302.5 346.2 L1305 350" stroke-width="2.6"/>
<path d="M1305 350 L1333 354.5 L1363 359.5 L1394.2 364.5 L1408 371.2 L1423 380.5 L1434.2 388 L1440.5 390 L1460.5 383.8 L1479.2 377.5 L1488 375" stroke-width="2.6"/>
<path d="M1488 375 L1505.5 367.5 L1524.2 358.8 L1550.5 351.2 L1578 362.5 L1608 374.5 L1658 392.5 L1712 412 L1723 416" stroke-width="2.6"/>
<path d="M1488 375 L1495.5 400 L1499.2 420 L1501 430 L1499.2 443 L1505.5 447 L1520.5 462.5 L1525 468 L1522 472 L1526.8 478.8 L1535.5 486.2 L1544.2 493 L1547.2 497.5 L1533 512.5 L1531.2 520 L1529.2 540 L1525 565 L1522.5 585 L1521.8 602.5 L1520 627.5 L1518 653.8 L1495.5 670 L1470.5 690 L1455.5 700 L1443 711.2 L1433 721.2 L1420.5 735 L1415.5 748 L1413 757.5" stroke-width="2.6"/>
</g>
<g clip-path="url(#k3)" fill="none" stroke="#000" stroke-linejoin="round" stroke-linecap="round">
<path d="M1686 402.5 L1696 406.2 L1738.5 422.5 L1791 442.5 L1821 453 L1871 470 L1911 487 L1938.5 495.8 L1996 520 L2030.2 532" stroke-width="2.6"/>
<path d="M2066 510 L2030.2 510 L2030.2 706.2 L2021 706.2 L2008.5 705 L1993.5 708 L1981 707.5 L1973.5 710 L1966.5 715.8 L1969.8 722.5 L1972.2 728.8 L1966 735 L1958.5 740 L1952.2 748 L1948.5 755" stroke-width="2.6"/>
</g>
<g clip-path="url(#k4)" fill="none" stroke="#000" stroke-linejoin="round" stroke-linecap="round">
<path d="M522.5 744.5 L507.5 748.5 L487.5 753 L462.5 758.5 L456.2 765.5 L450 774.2 L425 780.5 L410 785.5 L405 793 L405.5 801.8 L400 801.8 L393.8 799.8 L384.5 800 L383.8 818 L375 819.2 L372.5 824.2 L362.5 821.8 L341.2 809.2 L330 815.5 L318 824.2 L325.8 833 L325 845 L311.2 845 L310.8 848 L315 854.2 L310 864.2 L297.5 875.5 L275 878 L263.8 883 L256.2 885 L262.5 888 L265.5 905.5 L260 914.2 L251.2 920.5 L252 929.2 L250 938 L251.2 943 L247 947.5" stroke-width="2.6"/>
<path d="M247 947.5 L237.5 947.5 L229 950.5 L215 955.5" stroke-width="2.6"/>
<path d="M247 947.5 L253.8 954.2 L266.2 955.5 L272.5 960.5 L280 969.2 L287.5 975.5 L297.5 981.8 L310 985 L322 987.2 L322.5 980.5 L332.5 977.5 L345 973 L360 971.8 L375 972.5 L387.5 974.2 L396.2 979.2 L400 986.8 L407.5 991.8 L416.2 994.2" stroke-width="2.6"/>
<path d="M416.2 994.2 L417 985.5 L415 973 L413.8 960.5 L411.2 950.5 L406.2 943 L404.5 936.8 L410 924.2 L485 923.8 L490 921.8 L497.5 923.8 L540 924.2 L543 926.8 L555 919.2 L570 915 L582.5 918.5" stroke-width="2.6"/>
<path d="M582.5 918.5 L600 920.5 L610 923 L613 926 L616.2 923.8 L636.2 923 L650 914.2 L657.5 908 L670 901.8 L683.8 905.5 L690 903.5 L704 902.2 L715 901.5" stroke-width="2.6"/>
<path d="M416.2 994.2 L417 1005.5 L412.5 1009.2 L414.5 1013 L421.2 1019.2 L426.2 1030.5 L429.5 1043 L427.5 1051.8 L417.5 1060.5 L408.8 1073 L402.5 1085.5 L398.8 1098 L390 1109.2 L386.2 1120.5 L387 1133 L392.5 1148 L397.5 1159.2 L401.2 1168 L415 1169.2 L414.5 1191.8 L397.5 1194.2" stroke-width="2.6"/>
<path d="M582.5 918.5 L576.2 935.5 L590 943 L601.2 950.5 L603 960.5 L602 978 L600 990 L613.8 995.5 L611.2 1010.5 L610 1018 L605 1026.8 L615 1033 L622.5 1039.2 L622.5 1046.8 L618.8 1058 L618 1070.5 L615 1083 L620 1093 L616.2 1105.5 L615.5 1114.2 L625 1128 L637.5 1136.8 L650 1148" stroke-width="2.6"/>
<path d="M636.2 923 L630 935.5 L628 948 L632.5 953 L662.5 969.2 L665 988 L670 1000.5 L680 1010.5 L681.2 1103 L676.2 1106.8 L678 1123 L688.8 1134.2 L689.2 1139.2 L678 1141" stroke-width="2.6"/>
<path d="M596.2 745.5 L592 759.2 L602.5 769.2 L605.5 780.5 L616.2 794.2 L617.5 799.2 L635 804.2 L647.5 813.5 L654.5 813.5 L654.5 815.5 L641.2 816 L641.2 829.2 L662.5 841 L675 848 L687.5 849.2 L704 844.2 L715 841" stroke-width="2.6"/>
</g>
<g clip-path="url(#k5)" fill="none" stroke="#000" stroke-linejoin="round" stroke-linecap="round">
<path d="M800.2 889.2 C800.5 883 799.2 859 801.5 851.8 C803.8 844.5 810.2 848.2 814 845.5 C817.8 842.8 821.5 838.8 824 835.5 C826.5 832.2 827.8 829.7 829 825.5 C830.2 821.3 829 814.2 831.5 810.5 C834 806.8 840.7 805.1 844 803 C847.3 800.9 846.5 799.2 851.5 798 C856.5 796.8 865.7 795.7 874 795.5 C882.3 795.3 896.5 797.1 901.5 796.8 C906.5 796.4 901.5 794.5 904 793.5 C906.5 792.5 912.3 790.4 916.5 790.5 C920.7 790.6 923.2 792.5 929 794.2 C934.8 796 945.7 799.8 951.5 801 C957.3 802.2 959.4 800.2 964 801.8 C968.6 803.3 974.4 806.8 979 810.5 C983.6 814.2 988.2 821.4 991.5 824.2 C994.8 827.1 996.1 826.5 999 827.5 C1001.9 828.5 1005.5 830.2 1009 830 C1012.5 829.8 1016.5 826.8 1020.2 826 C1024 825.2 1025.9 826.8 1031.5 825 C1037.1 823.2 1048.2 816.9 1054 815.5 C1059.8 814.1 1062.3 815.7 1066.5 816.8 C1070.7 817.8 1074.4 819.8 1079 821.8 C1083.6 823.7 1090.7 827.2 1094 828.5 C1097.3 829.8 1096.5 828.1 1099 829.2 C1101.5 830.4 1104.8 834 1109 835.5 C1113.2 837 1117.3 837.9 1124 838.5 C1130.7 839.1 1142.5 838.8 1149 839.2 C1155.5 839.7 1159 841.8 1162.8 841 C1166.5 840.2 1168.8 836.4 1171.5 834.2 C1174.2 832.1 1176.1 830.1 1179 828 C1181.9 825.9 1185.7 823.2 1189 821.8 C1192.3 820.3 1195.8 819.9 1199 819.2 C1202.2 818.6 1204.7 818.3 1208 818 C1211.3 817.7 1217.2 817.4 1219 817.2" stroke-width="2.6"/>
<path d="M694 841 L704 843 L715.2 848 L716.5 856.8 L705.2 858.5 L706.5 862.5 L714 868 L724 875.5 L729 878 L730.2 873 L726 865.5 L741.5 863.5 L749 858.5 L755.2 858.5 L769 869.2 L784 880.5 L791.5 884.2 L800.2 889.2 L804 889.2" stroke-width="2.6"/>
<path d="M726 878 L725.2 883 L719 891.8 L704 901.8 L694 905.5" stroke-width="2.6"/>
<path d="M800.2 889.2 L797.8 895.5 L794 908 L806.5 920.5 L810.2 933 L815.2 940 L811.5 948 L800.2 950 L798.5 954.2 L802.8 962.5 L797.8 970.5 L789 975.5 L782.8 979.2 L779 985.5 L771.5 994.2 L770.2 1003 L765.2 1009.2 L750.2 1011.8 L748.5 1023 L746.5 1048 L744 1065.5 L747 1085.5 L747.8 1110.5 L747.8 1135" stroke-width="2.6"/>
<path d="M694 1138.5 C695.7 1138.4 695 1138.6 704 1138 C713 1137.4 734 1135.8 747.8 1135 C761.5 1134.2 775.5 1133.5 786.5 1133 C797.5 1132.5 804.4 1131.8 814 1132.2 C823.6 1132.7 836.5 1134.1 844 1135.5 C851.5 1136.9 854.7 1138.4 859 1140.5 C863.3 1142.6 868.2 1146.8 870 1148" stroke-width="1.4"/>
<path d="M786.5 1133 L789 1127.5 L804 1124.2 L812.8 1123.5 L809 1126.8 L799 1128.5 L790.2 1131.8 L786.5 1133" stroke-width="1.6"/>
<path d="M1219 1109.2 L1208 1109.2 L1196.5 1109.2 L1195.2 1106 L1190.2 1106.8 L1179 1113 L1171.5 1116.8 L1169 1125.5 L1154 1133 L1141.5 1141.8 L1129 1151.8 L1119 1160.5 L1115.2 1168 L1117.8 1170.5 L1114 1183 L1109 1193 L1101.5 1203 L1096.5 1210.5" stroke-width="2.6"/>
</g>
<g clip-path="url(#k6)" fill="none" stroke="#000" stroke-linejoin="round" stroke-linecap="round">
<path d="M1198 818.5 C1199.7 818.4 1202.2 818.7 1208 818 C1213.8 817.3 1224.7 815 1233 814.2 C1241.3 813.5 1249.7 813.1 1258 813.5 C1266.3 813.9 1274.7 815.2 1283 816.8 C1291.3 818.3 1300.9 821.2 1308 823 C1315.1 824.8 1320.9 827.1 1325.5 827.5 C1330.1 827.9 1332.6 826.9 1335.5 825.5 C1338.4 824.1 1339.2 821.5 1343 819.2 C1346.8 817 1353.4 813.8 1358 811.8 C1362.6 809.7 1366.8 807.8 1370.5 806.8 C1374.2 805.7 1377.8 806.8 1380.5 805.5 C1383.2 804.2 1385.7 800.3 1386.8 799.2" stroke-width="2.6"/>
<path d="M1415.5 745.5 C1414.7 747.6 1413 755.1 1410.5 758 C1408 760.9 1402.8 761.3 1400.5 763 C1398.2 764.7 1397.2 765.9 1396.8 768 C1396.3 770.1 1397.4 772.6 1398 775.5 C1398.6 778.4 1400.1 783.8 1400.5 785.5" stroke-width="2.6"/>
<path d="M1439.2 854.2 C1439.2 855.1 1437 858.2 1439.2 859.2 C1441.5 860.3 1449 859.5 1453 860.5 C1457 861.5 1460.6 863.2 1463 865.5 C1465.4 867.8 1467.3 870.5 1467.5 874.2 C1467.7 878 1465.2 884 1464.2 888 C1463.3 892 1466.1 894.7 1461.8 898 C1457.4 901.3 1444.2 905.7 1438 908 C1431.8 910.3 1428.4 909.5 1424.2 911.8 C1420.1 914 1416.1 918.6 1413 921.8 C1409.9 924.9 1407.8 926.5 1405.5 930.5 C1403.2 934.5 1401.1 940.5 1399.2 945.5 C1397.4 950.5 1397 956.5 1394.2 960.5 C1391.5 964.5 1385.2 966.3 1383 969.2 C1380.8 972.2 1381.4 975.3 1381 978 C1380.6 980.7 1382.7 983.2 1380.5 985.5 C1378.3 987.8 1371.2 989.9 1368 991.8 C1364.8 993.6 1362.3 993.2 1361 996.8 C1359.7 1000.3 1360.9 1008.8 1360 1013 C1359.1 1017.2 1358.3 1018.6 1355.5 1021.8 C1352.7 1024.9 1347.2 1029.2 1343 1031.8 C1338.8 1034.2 1334 1035.3 1330.5 1036.8 C1327 1038.2 1323.3 1038.2 1321.8 1040.5 C1320.2 1042.8 1322 1046.8 1321 1050.5 C1320 1054.2 1317.7 1059.2 1315.5 1063 C1313.3 1066.8 1309.5 1070.1 1308 1073 C1306.5 1075.9 1308.8 1077.8 1306.8 1080.5 C1304.7 1083.2 1297.6 1085.9 1295.5 1089.2 C1293.4 1092.6 1296.3 1097.4 1294.2 1100.5 C1292.2 1103.6 1285.3 1105.3 1283 1108 C1280.7 1110.7 1281.8 1114.2 1280.5 1116.8 C1279.2 1119.2 1277.2 1121.2 1275.5 1123 C1273.8 1124.8 1274.2 1126.6 1270.5 1127.2 C1266.8 1127.9 1256.1 1127.5 1253 1126.8 C1249.9 1126 1253.4 1123.8 1251.8 1122.5 C1250.1 1121.2 1246.1 1121.7 1243 1119.2 C1239.9 1116.8 1236.5 1110.7 1233 1108 C1229.5 1105.3 1223.8 1104.5 1221.8 1103 C1219.7 1101.5 1221.1 1098.4 1220.5 1099.2 C1219.9 1100.1 1220.1 1106.2 1218 1108 C1215.9 1109.8 1211.3 1109.6 1208 1110 C1204.7 1110.4 1199.7 1110.4 1198 1110.5" stroke-width="2.6"/>
<path d="M1461.8 837.5 C1462 838.2 1460.7 840 1463 841.8 C1465.3 843.5 1472.6 845.3 1475.5 848 C1478.4 850.7 1479.2 854.5 1480.5 858 C1481.8 861.5 1481.3 865.9 1483 869.2 C1484.7 872.6 1488.4 873.2 1490.5 878 C1492.6 882.8 1495.5 892.6 1495.5 898 C1495.5 903.4 1491.1 906.3 1490.5 910.5 C1489.9 914.7 1490.9 918.4 1491.8 923 C1492.6 927.6 1493.2 933 1495.5 938 C1497.8 943 1501.8 948.6 1505.5 953 C1509.2 957.4 1514 961.5 1518 964.2 C1522 967 1527.4 968.4 1529.2 969.2" stroke-width="2.6"/>
<path d="M1529.2 969.2 C1525.7 969.1 1514.5 968.5 1508 968.5 C1501.5 968.5 1496.1 968.8 1490.5 969.2 C1484.9 969.7 1479.7 971 1474.2 971 C1468.8 971 1463.8 969.4 1458 969.2 C1452.2 969.1 1443.6 968.5 1439.2 970 C1434.9 971.5 1433.4 975.6 1431.8 978 C1430.1 980.4 1428.2 982 1429.2 984.2 C1430.3 986.5 1435.1 989.5 1438 991.8 C1440.9 994 1444 995.3 1446.8 998 C1449.5 1000.7 1451.1 1004.9 1454.2 1008 C1457.4 1011.1 1461.1 1014 1465.5 1016.8 C1469.9 1019.5 1475.5 1022 1480.5 1024.2 C1485.5 1026.5 1492 1028.4 1495.5 1030.5 C1499 1032.6 1499.7 1033 1501.8 1036.8 C1503.8 1040.5 1505.3 1048.2 1508 1053 C1510.7 1057.8 1515.4 1062.2 1518 1065.5 C1520.6 1068.8 1522.8 1070.3 1523.5 1073 C1524.2 1075.7 1522.7 1080.3 1522.5 1081.8" stroke-width="2.6"/>
<path d="M1522.5 1081.8 C1524.2 1082.2 1530 1083.8 1533 1084.2 C1536 1084.7 1536.3 1085.1 1540.5 1084.2 C1544.7 1083.4 1553 1080.9 1558 1079.2 C1563 1077.6 1566.5 1076.3 1570.5 1074.2 C1574.5 1072.2 1578.9 1066.5 1582.2 1066.8 C1585.6 1067 1587.7 1073.1 1590.5 1075.5 C1593.3 1077.9 1594.7 1081.4 1599.2 1081 C1603.8 1080.6 1610.3 1075.9 1618 1073 C1625.7 1070.1 1636.8 1065.7 1645.5 1063.5 C1654.2 1061.3 1662.2 1060.8 1670.5 1060 C1678.8 1059.2 1689.7 1059 1695.5 1058.5 C1701.3 1058 1702.8 1058.1 1705.5 1056.8 C1708.2 1055.4 1709.1 1052 1712 1050.5 C1714.9 1049 1721.2 1048.4 1723 1048" stroke-width="2.6"/>
<path d="M1522.5 1081.8 C1520.1 1083.2 1511.9 1087.4 1508 1090.5 C1504.1 1093.6 1501.5 1096.8 1499.2 1100.5 C1497 1104.2 1497 1109.7 1494.2 1113 C1491.5 1116.3 1486.5 1116.3 1483 1120.5 C1479.5 1124.7 1476.8 1134.2 1473 1138 C1469.2 1141.8 1463.6 1141.5 1460.5 1143 C1457.4 1144.5 1455.1 1144.9 1454.2 1146.8 C1453.4 1148.6 1453.8 1152.7 1455.5 1154.2 C1457.2 1155.8 1462.8 1152 1464.2 1156 C1465.7 1160 1465.1 1173.1 1464.2 1178 C1463.4 1182.9 1458.6 1183.4 1459.2 1185.5 C1459.9 1187.6 1466.2 1187.1 1468 1190.5 C1469.8 1193.9 1469.6 1201.8 1470 1206 C1470.4 1210.2 1470.4 1213.9 1470.5 1215.5" stroke-width="2.6"/>
</g>
<g clip-path="url(#k8)" fill="none" stroke="#000" stroke-linejoin="round" stroke-linecap="round">
<path d="M1119 1217.5 L1120.2 1227.5 L1125.2 1238.8 L1134 1243.8 L1144 1243.8 L1151.5 1248.8 L1156.5 1245 L1154 1241.2 L1161.5 1243.8 L1166.5 1240 L1169 1245 L1165.2 1247.5 L1172.8 1246.2 L1170.2 1250 L1174 1252.5 L1167.8 1253.8 L1161.5 1252.5 L1157.8 1250 L1161.5 1256.2 L1169 1260 L1164 1261.2 L1171.5 1266.2 L1166.5 1266.2 L1174 1272.5 L1179 1277.5 L1182.8 1278.8 L1183.5 1286.2 L1179 1296 L1176.5 1306 L1175.2 1321 L1172 1328.5 L1174 1336 L1171.5 1346 L1166.5 1352.2 L1161.5 1358.5 L1154 1366 L1147.8 1373.5 L1154 1377.2 L1164 1378.5 L1160.2 1384.8 L1161.5 1392.2 L1162.8 1403.5" stroke-width="1.4"/>
<path d="M1091 1271.5 L1094 1267.2 L1099 1266 L1105.2 1256 L1119 1254 L1121 1258.5 L1116.5 1266 L1111.5 1272.2 L1106 1279.8 L1094 1278 L1091 1271.5" stroke-width="1.4"/>
<path d="M1025.2 1352.2 L1027.8 1349.8 L1032 1349.8 L1031 1354.8 L1027.8 1355.5 L1025.2 1352.2" stroke-width="1.4"/>
<path d="M1143.5 1385.2 L1145.5 1385.2" stroke-width="1.4"/>
<path d="M1144 1400.5 L1151.5 1397.2 L1157.8 1397.2 L1155.2 1400.5" stroke-width="1.4"/>
<path d="M1175.2 1321 L1182.8 1327.2 L1208 1328 L1219 1328" stroke-width="2.6"/>
<path d="M1160.2 1384.8 L1171.5 1384.8 L1184 1388.5 L1199 1384 L1208 1383.5 L1219 1383" stroke-width="2.6"/>
</g>
<g clip-path="url(#k9)" fill="none" stroke="#000" stroke-linejoin="round" stroke-linecap="round">
<path d="M1198 1328 L1208 1328 L1268 1327.2 L1269.2 1323 L1278 1321 L1308 1321.8 L1358 1323.5 L1385.5 1322.8 L1386 1328" stroke-width="2.6"/>
<path d="M1268 1327.2 L1267.5 1384.8 L1208 1384.8 L1198 1384.8" stroke-width="2.6"/>
<path d="M1386 1328 C1398 1327.9 1443.5 1326.8 1458 1327.2 C1472.5 1327.7 1468.4 1329.2 1473 1330.5 C1477.6 1331.8 1481.3 1334.2 1485.5 1334.8 C1489.7 1335.3 1493.4 1333.7 1498 1334 C1502.6 1334.3 1508 1336 1513 1336.5 C1518 1337 1523.4 1336.3 1528 1337.2 C1532.6 1338.2 1536.7 1340.2 1540.5 1342.2 C1544.3 1344.3 1548.2 1348.7 1551 1349.8 C1553.8 1350.8 1557.2 1350.8 1557.5 1348.5 C1557.8 1346.2 1553.5 1339.5 1553 1336 C1552.5 1332.5 1553 1329.5 1554.2 1327.2 C1555.5 1325 1559.5 1323.1 1560.5 1322.2" stroke-width="2.6"/>
<path d="M1386 1328 C1385.1 1329.8 1382.3 1334.7 1380.5 1338.5 C1378.7 1342.3 1375 1347.7 1375 1351 C1375 1354.3 1379.2 1356 1380.5 1358.5 C1381.8 1361 1383.4 1364.1 1383 1366 C1382.6 1367.9 1377.2 1369.1 1378 1369.8 C1378.8 1370.4 1383.4 1370.6 1388 1369.8 C1392.6 1368.9 1400.1 1366.2 1405.5 1364.8 C1410.9 1363.3 1415.9 1361.4 1420.5 1361 C1425.1 1360.6 1429 1361.6 1433 1362.2 C1437 1362.9 1441.1 1362 1444.2 1364.8 C1447.4 1367.5 1449.7 1375 1451.8 1378.5 C1453.8 1382 1456.1 1383.9 1456.8 1386 C1457.4 1388.1 1456.8 1389.3 1455.5 1391 C1454.2 1392.7 1450.9 1394.1 1449.2 1396 C1447.6 1397.9 1446.1 1401.2 1445.5 1402.2" stroke-width="2.6"/>
<path d="M1469.2 1203.5 C1469.5 1204.8 1468.2 1208.7 1470.5 1211 C1472.8 1213.3 1479.7 1214.8 1483 1217.2 C1486.3 1219.8 1488.6 1222.9 1490.5 1226 C1492.4 1229.1 1493.4 1232.9 1494.2 1236 C1495.1 1239.1 1494 1241.4 1495.5 1244.8 C1497 1248.1 1498.8 1251.6 1503 1256 C1507.2 1260.4 1514.7 1266.4 1520.5 1271 C1526.3 1275.6 1533 1280 1538 1283.5 C1543 1287 1547.8 1289.3 1550.5 1292.2 C1553.2 1295.2 1553.6 1297.9 1554.2 1301 C1554.9 1304.1 1553.6 1307.9 1554.2 1311 C1554.9 1314.1 1557 1317.9 1558 1319.8 C1559 1321.6 1560.1 1321.8 1560.5 1322.2" stroke-width="2.6"/>
<path d="M1560.5 1322.2 C1561.8 1320.8 1565.5 1316.6 1568 1313.5 C1570.5 1310.4 1573.5 1306.8 1575.5 1303.5 C1577.5 1300.2 1579 1297.7 1580 1293.5 C1581 1289.3 1581 1282.7 1581.8 1278.5 C1582.5 1274.3 1582.8 1270.8 1584.2 1268.5 C1585.7 1266.2 1586.5 1265.4 1590.5 1264.8 C1594.5 1264.1 1600.1 1265.9 1608 1264.8 C1615.9 1263.6 1629.7 1258.6 1638 1258 C1646.3 1257.4 1651.3 1260 1658 1261 C1664.7 1262 1673.8 1263.2 1678 1264 C1682.2 1264.8 1681.5 1266.3 1683 1266 C1684.5 1265.7 1684.2 1263.3 1686.8 1262.2 C1689.2 1261.2 1695.1 1260 1698 1259.8 C1700.9 1259.5 1703.2 1260.8 1704.2 1261" stroke-width="2.6"/>
<path d="M1712 1227.2 C1710.9 1230 1706.8 1237.9 1705.5 1243.5 C1704.2 1249.1 1703.6 1256 1704.2 1261 C1704.9 1266 1708.6 1270.2 1709.2 1273.5 C1709.9 1276.8 1710.3 1276.8 1708 1281 C1705.7 1285.2 1699.7 1293.1 1695.5 1298.5 C1691.3 1303.9 1686.3 1308.9 1683 1313.5 C1679.7 1318.1 1677.1 1320.6 1675.5 1326 C1673.9 1331.4 1674.8 1339.3 1673.5 1346 C1672.2 1352.7 1670.2 1360.2 1668 1366 C1665.8 1371.8 1661.1 1376.4 1660.5 1381 C1659.9 1385.6 1663.8 1389.8 1664.2 1393.5 C1664.7 1397.2 1663.2 1401.8 1663 1403.5" stroke-width="2.6"/>
</g>
<g clip-path="url(#k10)" fill="none" stroke="#000" stroke-linejoin="round" stroke-linecap="round">
<path d="M214 1196.8 L229 1196.2 L279 1191.2 L341 1186.2 L369 1190 L397.8 1194.5 L444 1203.8 L455.2 1209.5 L461.5 1209.5 L476.5 1203.8 L484 1198 L504 1192.5 L532.8 1187.5 L559 1176.2 L579 1168.8 L599 1163.2 L619 1162 L639 1161.2 L642.8 1156.2 L649 1148.8 L679 1141.2 L704 1138 L733 1135.8 L754 1134.5" stroke-width="1.4"/>
<path d="M401.5 1075 L401.5 1090 L396.5 1100 L389 1106.2 L386 1120 L387.8 1135 L394 1150 L401.5 1165 L415.2 1168.8 L415.2 1192 L397.8 1194.5" stroke-width="2.6"/>
<path d="M617.8 1075 L615.2 1100 L615.2 1112.5 L624 1125 L636.5 1135 L649 1148.8" stroke-width="2.6"/>
<path d="M681.5 1075 L681.5 1105 L677.2 1106.2 L678.5 1120 L689 1132.5 L689.5 1138.8 L679 1141.2" stroke-width="2.6"/>
</g>
<g clip-path="url(#k11)" fill="none" stroke="#000" stroke-linejoin="round" stroke-linecap="round">
<path d="M1952.2 745.5 C1952.5 746.3 1954.1 748.9 1953.5 750.5 C1952.9 752.1 1951.2 753.8 1948.5 755 C1945.8 756.2 1939.8 756.9 1937.2 758 C1934.8 759.1 1933.6 760.3 1933.5 761.8 C1933.4 763.2 1935.9 764.7 1936.5 766.8 C1937.1 768.8 1935.9 773 1937.2 774.2 C1938.6 775.5 1943.5 773.4 1944.8 774.2 C1946 775.1 1947.5 777.4 1944.8 779.2 C1942 781.1 1932.7 783.4 1928.5 785.5 C1924.3 787.6 1921.6 789.7 1919.8 791.8 C1917.9 793.8 1916.8 795.7 1917.2 798 C1917.7 800.3 1921.2 803.6 1922.2 805.5 C1923.3 807.4 1922.5 807.8 1923.5 809.2 C1924.5 810.7 1928.4 812.4 1928 814.2 C1927.6 816.1 1923.8 818.6 1921 820.5 C1918.2 822.4 1913.7 823.6 1911 825.5 C1908.3 827.4 1906.2 829.5 1904.8 831.8 C1903.3 834 1902.2 837 1902.2 839.2 C1902.2 841.5 1903.3 844.2 1904.8 845.5 C1906.2 846.8 1908.1 847.1 1911 846.8 C1913.9 846.4 1918.9 843.6 1922.2 843.5 C1925.6 843.4 1928.7 844.8 1931 846 C1933.3 847.2 1935.2 848.7 1936 850.5 C1936.8 852.3 1935.4 853.8 1936 856.8 C1936.6 859.7 1938.9 865 1939.8 868 C1940.6 871 1939.5 873.8 1941 875 C1942.5 876.2 1947.8 874.6 1949 875.5 C1950.2 876.4 1949.2 878 1948.5 880.5 C1947.8 883 1944.8 887.6 1944.8 890.5 C1944.8 893.4 1946.4 895.9 1948.5 898 C1950.6 900.1 1953.8 902 1957.2 903 C1960.7 904 1967 902.6 1969 904.2 C1971 905.9 1969.7 909.4 1969 913 C1968.3 916.6 1965.5 923.8 1964.8 926" stroke-width="2.6"/>
<path d="M1964.8 926 C1963.3 925.7 1959.8 924.8 1956 924.2 C1952.2 923.8 1947.7 922.5 1942.2 923 C1936.8 923.5 1930 926.5 1923.5 927.5 C1917 928.5 1907.7 928.3 1903.5 929.2 C1899.3 930.2 1900 930.3 1898.5 933 C1897 935.7 1895.4 942.2 1894.8 945.5 C1894.1 948.8 1895.4 951.1 1894.8 953 C1894.1 954.9 1893.3 955.5 1891 956.8 C1888.7 958 1883.7 958.8 1881 960.5 C1878.3 962.2 1877 965.3 1874.8 966.8 C1872.5 968.2 1870.4 967.6 1867.2 969.2 C1864.1 970.9 1860 973.4 1856 976.8 C1852 980.1 1847.7 986 1843.5 989.2 C1839.3 992.5 1834.8 994.2 1831 996 C1827.2 997.8 1823.7 998.1 1821 1000 C1818.3 1001.9 1818.9 1006.2 1814.8 1007.5 C1810.6 1008.8 1802 1007.3 1796 1008 C1790 1008.7 1784.8 1010.9 1778.5 1011.8 C1772.2 1012.6 1766 1012.6 1758.5 1013 C1751 1013.4 1739.1 1013.5 1733.5 1014.2 C1727.9 1015 1726.5 1016.2 1724.8 1017.5 C1723 1018.8 1721.1 1019.8 1723 1021.8 C1724.9 1023.7 1734.7 1027 1736 1029.2 C1737.3 1031.5 1733.5 1032.8 1731 1035.5 C1728.5 1038.2 1725 1042.8 1721 1045.5 C1717 1048.2 1709.8 1049.7 1707.2 1051.8 C1704.8 1053.8 1707.9 1057 1706 1058 C1704.1 1059 1699.3 1058 1696 1058 C1692.7 1058 1687.7 1058 1686 1058" stroke-width="2.6"/>
<path d="M1964.8 926 C1965.8 927.4 1966.6 930.8 1971 934.2 C1975.4 937.7 1986 942.4 1991 946.8 C1996 951.1 1997.9 956.3 2001 960.5 C2004.1 964.7 2008 968 2009.8 971.8 C2011.5 975.5 2011.5 978 2011.5 983 C2011.5 988 2011.7 997.8 2009.8 1001.8 C2007.8 1005.7 2001.6 1004.9 1999.8 1006.8 C1997.9 1008.6 1997.5 1011.5 1998.5 1013 C1999.5 1014.5 2004.8 1014.8 2006 1016 C2007.2 1017.2 2006.5 1018.8 2006 1020.5 C2005.5 1022.2 2000.5 1025 2003 1026 C2005.5 1027 2013.8 1026.2 2021 1026.8 C2028.2 1027.3 2041.8 1028.2 2046 1029.2 C2050.2 1030.3 2046.8 1030.9 2046 1033 C2045.2 1035.1 2041 1039.5 2041 1041.8 C2041 1044 2042.8 1045.6 2046 1046.8 C2049.2 1047.9 2056.9 1048.2 2060.2 1048.5 C2063.6 1048.8 2065 1048.7 2066 1048.8" stroke-width="2.6"/>
<path d="M1723.5 1210.5 C1724.3 1209.8 1725.6 1208.1 1728.5 1206 C1731.4 1203.9 1736 1200.5 1741 1198 C1746 1195.5 1752.7 1191.9 1758.5 1191 C1764.3 1190.1 1770.6 1190.9 1776 1192.5 C1781.4 1194.1 1786 1198.2 1791 1200.5 C1796 1202.8 1802.2 1204.3 1806 1206 C1809.8 1207.7 1812.2 1209.8 1813.5 1210.5" stroke-width="2.6"/>
<path d="M2021 1208 C2021.8 1207.7 2021.8 1207.2 2026 1206 C2030.2 1204.8 2040.3 1202.6 2046 1200.5 C2051.7 1198.4 2056.9 1195 2060.2 1193.5 C2063.6 1192 2065 1192 2066 1191.8" stroke-width="2.6"/>
<path d="M1857.2 1173 C1857.5 1175.1 1857.9 1181.8 1858.5 1185.5 C1859.1 1189.2 1860.2 1192.1 1861 1195.5 C1861.8 1198.9 1862.5 1203.1 1863 1206 C1863.5 1208.9 1863.8 1211.8 1864 1213" stroke-width="1.6"/>
</g>
<g clip-path="url(#k12)" fill="none" stroke="#000" stroke-linejoin="round" stroke-linecap="round">
<path d="M1803.5 1203.5 C1804.8 1204.5 1808.7 1207.9 1811 1209.8 C1813.3 1211.6 1816 1212.9 1817.2 1214.8 C1818.5 1216.6 1817 1219.5 1818.5 1221 C1820 1222.5 1823.1 1223.5 1826 1224 C1828.9 1224.5 1832.7 1224.2 1836 1224 C1839.3 1223.8 1842.7 1222.5 1846 1223 C1849.3 1223.5 1853.3 1226 1856 1227.2 C1858.7 1228.5 1860.4 1230.2 1862.2 1230.2 C1864.1 1230.2 1865.8 1227.4 1867.2 1227.2 C1868.7 1227.1 1868.7 1228.8 1871 1229.2 C1873.3 1229.8 1877.9 1230.3 1881 1230.2 C1884.1 1230.2 1886.8 1228.9 1889.8 1229 C1892.7 1229.1 1894.5 1230.5 1898.5 1231 C1902.5 1231.5 1909.8 1231.5 1913.5 1232.2 C1917.2 1233 1918.3 1234.6 1921 1235.5 C1923.7 1236.4 1926.8 1237.7 1929.8 1237.8 C1932.7 1237.8 1936.2 1237.1 1938.5 1236 C1940.8 1234.9 1941.8 1233.3 1943.5 1231 C1945.2 1228.7 1946.4 1224.5 1948.5 1222.2 C1950.6 1220 1953.9 1219.1 1956 1217.2 C1958.1 1215.4 1958.9 1212.7 1961 1211 C1963.1 1209.3 1965.6 1207.5 1968.5 1207.2 C1971.4 1207 1974.3 1208.5 1978.5 1209.8 C1982.7 1211 1989.3 1214.5 1993.5 1214.8 C1997.7 1215 1999.8 1212.1 2003.5 1211 C2007.2 1209.9 2011.8 1208.8 2016 1208 C2020.2 1207.2 2023.5 1206.7 2028.5 1206 C2033.5 1205.3 2043.1 1204.3 2046 1204" stroke-width="2.6"/>
<path d="M1731 1203.5 C1729.3 1205.4 1724.3 1211 1721 1214.8 C1717.7 1218.5 1713.2 1222.5 1711 1226 C1708.8 1229.5 1708.6 1232.7 1708 1236 C1707.4 1239.3 1707.8 1242.7 1707.2 1246 C1706.7 1249.3 1705 1253.1 1704.8 1256 C1704.5 1258.9 1705.4 1260.8 1706 1263.5 C1706.6 1266.2 1708.3 1269.5 1708.5 1272.2 C1708.7 1275 1708.5 1277.2 1707.2 1279.8 C1706 1282.2 1702.9 1285 1701 1287.2 C1699.1 1289.5 1697.7 1291.2 1696 1293.5 C1694.3 1295.8 1691.8 1299.8 1691 1301" stroke-width="2.6"/>
<path d="M1686 1259 C1687.7 1259.2 1692.7 1259.8 1696 1260.5 C1699.3 1261.2 1704.3 1262.6 1706 1263" stroke-width="2.6"/>
</g>
<g clip-path="url(#k13)" fill="none" stroke="#000" stroke-linejoin="round" stroke-linecap="round">
<path d="M479 1031.5 L482.3 1029.1 L487.6 1030.3 L490.5 1027 L493.7 1025.4 L498.2 1023.7 L499.9 1025 L502.7 1027.4 L506.8 1029.1 L510.9 1028.2 L515.8 1026.6 L519.1 1025.4 L515.8 1024.5 L511.7 1024.1 L515.4 1022.5 L512.6 1019.2 L510.5 1016.8 L510.1 1015.1 L512.6 1013.5 L512.1 1010.2 L514.6 1011.5 L515.4 1013.5 L513.4 1016 L514.6 1018.8 L518.3 1022.1 L519.9 1021.7 L520.7 1024.5 L522.4 1027.8 L526.5 1031.1 L529.7 1032.7 L532.6 1031.5 L531 1028.6 L533.8 1026.2 L535.5 1027.8 L534.6 1029.9 L538.3 1030.7 L537.9 1033.6 L534.6 1034.4 L532.2 1036 L535.5 1039.3 L539.6 1042.6 L543.6 1045.8 L547.7 1048.3 L551 1051.6 L556.7 1052 L558.8 1049.5 L563.3 1049.1 L568.2 1049.9 L570.7 1051.6 L566.6 1052.4 L562.5 1053.2 L564.1 1055.6 L568.2 1057.3 L573.1 1058.9 L575.6 1063 L577.2 1067.9 L578.8 1070.4 L584.6 1070 L586.2 1067.9 L585.4 1063.8 L587 1060.6 L584.6 1057.3 L587.8 1055.6 L590.3 1058.9 L592.7 1056.5 L597.7 1056.1 L594.4 1053.2 L591.1 1050.7 L587.8 1050.3 L591.1 1048.3 L594.4 1045.8 L599.7 1045.4 L596 1042.6 L591.9 1042.1 L587.8 1042.6 L586.2 1040.1 L587.8 1036 L586.6 1033.6 L589.9 1032.7 L591.5 1028.6 L592.7 1024.5 L591.9 1022.1 L594.8 1020.5 L593.6 1017.2 L596.4 1015.5 L595.6 1018.4 L596.4 1022.9 L593.6 1027 L592.7 1031.9 L590.3 1034.4 L589.5 1039.3 L592.7 1041.7 L597.3 1042.6 L597.7 1045.8 L595.2 1049.1 L594.4 1052.4 L597.7 1056.5 L596 1059.7 L591.1 1062.2 L593.6 1064.6 L596.8 1065.5 L596.4 1068.7 L598.5 1072 L599.3 1077.7 L600.9 1081.8 L597.7 1082.7 L595.2 1081.8 L597.7 1085.1 L599.7 1088.4 L598.9 1094.1 L600.1 1101.5 L598.1 1106.4 L596.8 1111.3 L595.2 1114.6 L596 1118.7 L596.8 1121.9 L600.1 1119.5 L600.9 1116.2 L600.5 1121.1 L597.7 1123.6 L591.9 1124.8 L590.3 1127.7 L589.5 1132.6 L587.8 1137.5 L586.2 1140.8 L587.8 1143.2 L587 1146.5 L586.2 1142.4 L585.8 1138.3 L587.8 1134.2 L586.2 1132.6 L582.9 1135 L580.5 1135.8 L578.8 1132.6 L572.3 1128.5 L564.1 1123.6 L555.9 1119.5 L547.7 1117.8 L542 1116.2 L537.9 1113.3 L543.6 1114.6 L546.9 1115.8 L548.6 1113.7 L549.8 1117.8 L555.1 1118.2 L557.6 1113.7 L559.6 1117.8 L562.5 1119.1 L569 1117.8 L572.3 1122.7 L578.8 1122.7 L580.1 1118.7 L576.4 1116.2 L579.7 1112.9 L584.6 1110.5 L587.8 1108.8 L582.9 1109.7 L586.2 1106.4 L588.7 1103.9 L584.6 1104.7 L587 1100.7 L586.2 1097.4 L582.1 1097 L587.8 1096.6 L591.1 1095.7 L592.3 1092.9 L589.5 1091.7 L586.2 1086.7 L582.9 1081.8 L579.7 1077.7 L575.6 1076.1 L568.2 1076.9 L560 1078.6 L551.8 1079.4 L546.9 1081 L542 1081.4 L543.6 1079.8 L548.6 1078.6 L555.9 1076.5 L564.1 1075.3 L568.2 1072.8 L572.3 1072 L576.4 1072 L573.1 1069.6 L571.5 1065.5 L569 1062.2 L566.6 1058.9 L562.5 1056.5 L560 1059.7 L554.3 1062.2 L556.7 1059.7 L560 1058.1 L555.9 1057.3 L551 1055.6 L548.6 1060.6 L549.8 1056.5 L546.9 1053.2 L543.6 1054 L540.4 1055.6 L535.5 1056.5 L535.1 1054.8 L539.6 1054 L544.5 1052.4 L542 1049.1 L537.9 1046.6 L531.4 1046.2 L534.6 1045 L532.2 1040.9 L528.9 1036.8 L526.5 1033.6 L522.4 1030.3 L519.1 1027.8 L515 1028.6 L510.9 1030.3 L512.6 1035.2 L510.1 1031.9 L505.2 1030.3 L501.1 1027.8 L497.8 1025.4 L493.7 1026.6 L491.3 1027.8 L488 1031.5 L482.3 1030.7 L479 1031.5" stroke-width="1.6"/>
<path d="M566.6 1082.7 L570.7 1080.6 L575.6 1081.4 L579.7 1081 L583.7 1081.8 L578.8 1082.7 L579.7 1085.9 L575.6 1085.1 L573.9 1082.7 L569.8 1083.5 L566.6 1082.7" stroke-width="1.6"/>
</g>
<g clip-path="url(#k14)" fill="none" stroke="#000" stroke-linejoin="round" stroke-linecap="round">
<path d="M249.6 1055.8 L247.1 1057.3 L244.6 1059.7 L242.2 1063 L240.1 1066.7 L237.3 1066.3 L235.2 1065.5 L234.8 1067.1 L236.9 1068.3 L234.8 1070 L233.8 1071.2 L235.6 1072 L234.4 1073.7 L236.1 1075.3 L234.8 1077.7 L236.3 1079 L233.2 1081 L234.8 1082.7 L232.8 1084.3 L233.8 1086.3 L232.4 1088.4 L233.2 1090.8 L229.1 1092.5 L231.1 1094.1 L233.2 1095.3 L234.4 1097.4 L236.1 1099.4 L236.9 1101.9 L239.3 1102.7 L242.6 1102.3 L245.5 1103.5 L247.9 1104.8 L250.4 1106.4 L252 1107.6 L254.5 1109.3 L257.3 1108.4 L258.6 1107.6 L256.9 1105.6 L255.3 1103.9 L253.7 1102.7 L255.7 1100.7 L254.5 1099 L251.2 1097.8 L250.8 1096.2 L253.7 1094.9 L256.1 1093.7 L253.2 1092.5 L254.5 1090.4 L256.9 1089.2 L260.6 1087.2 L257.7 1087.6 L254.9 1088.4 L253.7 1086.8 L255.3 1084.3 L255.5 1081.8 L253.7 1080.6 L252.4 1081.8 L253.2 1083.5 L251.6 1084.7 L249.6 1084.3 L247.5 1083.5 L246.7 1085.1 L248.3 1087.6 L246.3 1088.8 L247.1 1090.8 L246.7 1092.9 L244.6 1092.9 L245.5 1095.3 L245.1 1097 L243 1096.6 L242.6 1094.5 L240.6 1092.1 L239.7 1090 L241.4 1088.4 L238.5 1087.2 L237.7 1085.1 L239.3 1083.5 L242.6 1082.7 L245.1 1081 L242.6 1080.2 L241.8 1077.7 L243 1076.1 L245.1 1074.5 L246.3 1072 L248.3 1069.6 L245.5 1070.4 L243 1072 L241.8 1070.8 L244.2 1069.2 L245.5 1067.1 L247.9 1064.2 L246.3 1063.8 L245.1 1062.2 L246.7 1059.7 L249.6 1055.8" stroke-width="1.6"/>
</g>
<g clip-path="url(#k15)" fill="none" stroke="#000" stroke-linejoin="round" stroke-linecap="round">
<path d="M867.5 1145.6 L870 1147.4 L877.4 1153.6 L886.1 1161.1 L888.6 1162.3 L891.1 1159.8 L897.3 1157.4 L903.5 1154.6 L901 1156.7 L894.8 1159.6 L890.5 1161.7 L888.6 1164.8 L891.1 1168.5 L894.8 1170.4 L901 1169.8 L902.9 1166 L903.5 1169.1 L909.7 1168.5 L916.5 1169.8 L910.9 1169.8 L906 1171 L898.5 1171 L894.8 1172.9 L896.7 1176.6 L901 1179.1 L907.2 1179.7 L912.2 1177.2 L917.1 1174.1 L923.3 1173.5 L918.4 1174.7 L914.6 1177.2 L916.5 1180.3 L912.2 1182.8 L908.4 1180.9 L904.7 1180.9 L903.5 1183.4 L906 1189 L909.7 1191.5 L911.5 1187.7 L913.4 1191.5 L911.5 1193.3 L907.8 1193.3 L909.7 1198.3 L912.8 1204.5 L917.1 1210.7 L922.1 1216.9 L928.3 1221.8 L935.7 1226.2 L943.2 1229.3 L947.5 1229.9 L949.4 1226.8 L953.1 1224.9 L959.3 1224.3 L956.8 1222.5 L959.9 1221.8 L961.8 1224.3 L965.5 1224.9 L969.2 1228 L975.4 1229.3 L980.4 1229 L979.1 1224.3 L977.9 1221.2 L980.4 1221.8 L981.6 1226.8 L984.7 1228.7 L986.6 1225.6 L985.3 1219.4 L987.8 1221.8 L989 1226.8 L992.1 1228 L994 1225.6 L992.1 1219.4 L992.8 1214.4 L994.6 1219.4 L996.5 1224.3 L1000.2 1226.2 L1003.9 1225.6 L1004.5 1221.8 L1001.4 1216.9 L999 1213.2 L1002.7 1215.6 L1003.3 1211.9 L1005.8 1216.9 L1007.6 1220.6 L1010.1 1222.5 L1015.1 1221.8 L1017.6 1219.4 L1013.8 1215.6 L1009.5 1211.3 L1013.8 1213.2 L1018.2 1216.9 L1022.5 1219.4 L1027.5 1218.7 L1031.2 1219.4 L1026.2 1221.2 L1018.8 1223.1 L1012.6 1226.2 L1018.8 1225.6 L1027.5 1223.7 L1037.4 1222.5 L1041.1 1220.6 L1037.4 1219.4 L1038.7 1216.9 L1042.4 1220 L1048.6 1220.6 L1061 1218.7 L1073.4 1218.1 L1080.8 1218.7 L1083.3 1215.6 L1082.7 1209.4 L1080.8 1205.7 L1078.3 1203.9 L1080.8 1202.6 L1079.6 1201.4 L1083.3 1203.9 L1087 1207 L1088.3 1203.9 L1089.5 1207.6 L1093.2 1210.1 L1096.9 1208.2 L1099.4 1207.6 L1098.2 1213.2 L1095.7 1219.4 L1099.4 1220.6 L1103.1 1219.4 L1103.8 1213.2 L1105 1210.7 L1105.6 1215.6 L1108.1 1218.1 L1110.6 1214.4 L1111.8 1210.7 L1116.2 1213.2 L1120 1219.4 L1121.7 1221.8" stroke-width="1.4"/>
<path d="M1103.1 1200.8 L1098.2 1207 L1094.5 1209.4" stroke-width="2.6"/>
</g>
<g clip-path="url(#k16)" fill="none" stroke="#000" stroke-linejoin="round" stroke-linecap="round">
<path d="M1400.6 786.5 L1404.7 786.1 L1407.5 788.9 L1411.7 790.6 L1415.8 793.1 L1418.6 796.5 L1419.3 800.7 L1417.2 803.5 L1414.4 805.9 L1412.4 808.3 L1413.1 811.1 L1415.8 813.9 L1418.6 816 L1422.8 817 L1425.6 816.3 L1426.9 813.2 L1431.1 812.5 L1434.6 811.1 L1438.1 809.4 L1440.8 809 L1440.1 811.1 L1438.1 813.9 L1440.1 816 L1440.8 818.4 L1436.7 820.1 L1439.4 822.2 L1442.2 824.3 L1445 823.6 L1449.2 822.2 L1453.3 820.5 L1458.9 819.8 L1463.1 819.4 L1467.2 819.8 L1472.1 820.8 L1476.2 822.2 L1480.4 822.6 L1482.2 825 L1482.8 827.8 L1486.7 828.8 L1492.2 829.2 L1497.1 830.2 L1500.6 831.9 L1497.1 833.3 L1492.2 834 L1488.1 835.1 L1482.5 836.1 L1475.6 837.2 L1468.6 836.8 L1462.4 836.5 L1459.6 837.5 L1458.2 841 L1456.8 844.4 L1455.4 846.5 L1450.6 847.2 L1446.4 845.8 L1442.2 846.2 L1439.4 847.9 L1442.2 850 L1442.2 851.4 L1440.1 854.2 L1438.8 854.9 L1435.3 852.8 L1432.5 853.8 L1429 855.2 L1426.2 853.5 L1424.2 850.7 L1421.4 848.6 L1418.6 846.5 L1417.9 843.8 L1418.6 840.3 L1416.5 837.8 L1419.3 836.1 L1417.2 834.7 L1420 832.6 L1415.8 834 L1417.9 830.6 L1421.4 825.3 L1417.9 826.7 L1413.8 828.5 L1409.6 826.4 L1406.1 826.4 L1403.3 823.6 L1399.9 820.1 L1397.1 816.7 L1392.9 813.9 L1390.1 810.4 L1389.4 806.9 L1388.4 803.5 L1388.4 800 L1387.4 797.9 L1383.9 796.5 L1381.8 795.1 L1380.4 792.4 L1382.5 790.6 L1386.7 789.2 L1392.2 788.2 L1396.4 787.8 L1400.6 786.5" stroke-width="1.6"/>
</g>
<rect x="229" y="302" width="1831" height="1098.5" fill="none" stroke="#111" stroke-width="1.15"/>
<line x1="279.5" y1="1400.5" x2="279.5" y2="1435" stroke="#222" stroke-width="1"/>
<text x="279.5" y="1463" font-size="19" text-anchor="middle">5°W</text>
<line x1="581.5" y1="1400.5" x2="581.5" y2="1435" stroke="#222" stroke-width="1"/>
<text x="581.5" y="1463" font-size="19" text-anchor="middle">0°</text>
<line x1="883.5" y1="1400.5" x2="883.5" y2="1435" stroke="#222" stroke-width="1"/>
<text x="883.5" y="1463" font-size="19" text-anchor="middle">5°E</text>
<line x1="1185.5" y1="1400.5" x2="1185.5" y2="1435" stroke="#222" stroke-width="1"/>
<text x="1185.5" y="1463" font-size="19" text-anchor="middle">10°E</text>
<line x1="1487.5" y1="1400.5" x2="1487.5" y2="1435" stroke="#222" stroke-width="1"/>
<text x="1487.5" y="1463" font-size="19" text-anchor="middle">15°E</text>
<line x1="1789.5" y1="1400.5" x2="1789.5" y2="1435" stroke="#222" stroke-width="1"/>
<text x="1789.5" y="1463" font-size="19" text-anchor="middle">20°E</text>
<line x1="194.4" y1="511" x2="229" y2="511" stroke="#111" stroke-width="1.15"/>
<text x="181.5" y="518" font-size="19" text-anchor="end">20°N</text>
<line x1="194.4" y1="740" x2="229" y2="740" stroke="#111" stroke-width="1.15"/>
<text x="181.5" y="747" font-size="19" text-anchor="end">15°N</text>
<line x1="194.4" y1="969" x2="229" y2="969" stroke="#111" stroke-width="1.15"/>
<text x="181.5" y="976" font-size="19" text-anchor="end">10°N</text>
<line x1="194.4" y1="1198" x2="229" y2="1198" stroke="#111" stroke-width="1.15"/>
<text x="181.5" y="1205" font-size="19" text-anchor="end">5°N</text>
<text x="1143.5" y="291" font-size="43.8" font-weight="bold" text-anchor="middle" stroke="#000" stroke-width="0.5" xml:space="preserve" style="white-space:pre">RH (%), 925hPa, VT : 20180729  00:00</text>
<rect x="322.5" y="1482.5" width="182.7" height="15" fill="#FFFFFF" stroke="#666" stroke-width="0.9"/>
<rect x="505.2" y="1482.5" width="182.7" height="15" fill="#E5F4FB" stroke="#666" stroke-width="0.9"/>
<rect x="687.8" y="1482.5" width="182.7" height="15" fill="#C8E8F8" stroke="#666" stroke-width="0.9"/>
<rect x="870.5" y="1482.5" width="182.7" height="15" fill="#A6DCF6" stroke="#666" stroke-width="0.9"/>
<rect x="1053.2" y="1482.5" width="182.7" height="15" fill="#7ABDE6" stroke="#666" stroke-width="0.9"/>
<rect x="1235.8" y="1482.5" width="182.7" height="15" fill="#519AD3" stroke="#666" stroke-width="0.9"/>
<rect x="1418.5" y="1482.5" width="182.7" height="15" fill="#316DB3" stroke="#666" stroke-width="0.9"/>
<rect x="1601.2" y="1482.5" width="182.7" height="15" fill="#224A8F" stroke="#666" stroke-width="0.9"/>
<rect x="1783.8" y="1482.5" width="182.7" height="15" fill="#1D2C64" stroke="#666" stroke-width="0.9"/>
<text x="505.2" y="1519.7" font-size="24.5" font-weight="bold" text-anchor="middle">30</text>
<text x="687.8" y="1519.7" font-size="24.5" font-weight="bold" text-anchor="middle">40</text>
<text x="870.5" y="1519.7" font-size="24.5" font-weight="bold" text-anchor="middle">50</text>
<text x="1053.2" y="1519.7" font-size="24.5" font-weight="bold" text-anchor="middle">60</text>
<text x="1235.8" y="1519.7" font-size="24.5" font-weight="bold" text-anchor="middle">70</text>
<text x="1418.5" y="1519.7" font-size="24.5" font-weight="bold" text-anchor="middle">80</text>
<text x="1601.2" y="1519.7" font-size="24.5" font-weight="bold" text-anchor="middle">90</text>
<text x="1783.8" y="1519.7" font-size="24.5" font-weight="bold" text-anchor="middle">100</text>
</svg>
</body></html>
